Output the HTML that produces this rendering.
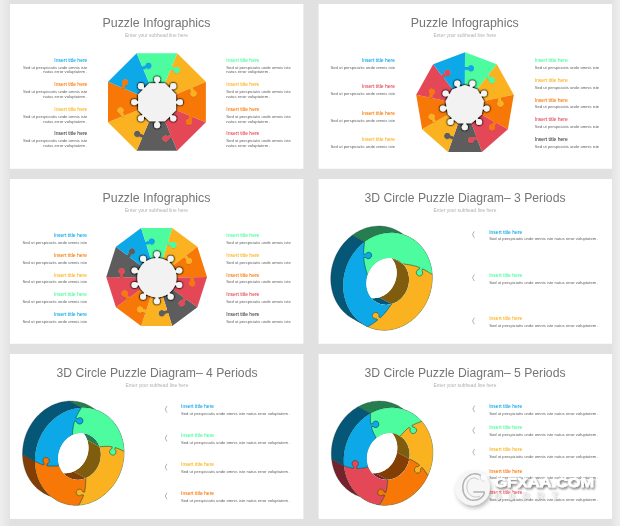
<!DOCTYPE html><html><head><meta charset="utf-8"><title>Puzzle Infographics</title>
<style>html,body{margin:0;padding:0;background:#e1e1e1;}svg{display:block;font-family:"Liberation Sans",sans-serif;filter:blur(0.5px);}</style></head><body>
<svg width="620" height="526" viewBox="0 0 620 526">
<defs>
<filter id="ks" x="-10%" y="-10%" width="120%" height="120%"><feDropShadow dx="0" dy="0.3" stdDeviation="0.6" flood-color="#000" flood-opacity="0.35"/></filter>
<filter id="cs" x="-30%" y="-30%" width="160%" height="160%"><feGaussianBlur in="SourceAlpha" stdDeviation="1.0" result="b"/><feComponentTransfer in="b" result="b2"><feFuncA type="linear" slope="2.4"/></feComponentTransfer><feFlood flood-color="#000" flood-opacity="0.85"/><feComposite in2="b2" operator="in" result="sh"/><feMerge><feMergeNode in="sh"/><feMergeNode in="SourceGraphic"/></feMerge></filter>
<linearGradient id="lg" x1="0" x2="1" y1="0" y2="0"><stop offset="0" stop-color="#eeeeee"/><stop offset="1" stop-color="#e3e3e3"/></linearGradient>
<linearGradient id="rg" x1="0" x2="1" y1="0" y2="0"><stop offset="0" stop-color="#e4e4e4"/><stop offset="1" stop-color="#eeeeee"/></linearGradient>
<filter id="wm" x="-30%" y="-30%" width="170%" height="170%"><feDropShadow dx="1.5" dy="2.5" stdDeviation="2" flood-color="#000" flood-opacity="0.3"/></filter>
<filter id="wt" x="-5%" y="-30%" width="112%" height="190%"><feDropShadow dx="1.2" dy="1.8" stdDeviation="1.1" flood-color="#000" flood-opacity="0.6"/></filter>
<filter id="wt2" x="-5%" y="-30%" width="112%" height="190%"><feDropShadow dx="0.8" dy="1" stdDeviation="0.8" flood-color="#000" flood-opacity="0.25"/></filter>
<filter id="gb" x="-20%" y="-20%" width="140%" height="140%"><feGaussianBlur stdDeviation="0.45"/></filter>
</defs>
<rect width="620" height="526" fill="#e1e1e1"/>
<rect x="0" y="0" width="10" height="526" fill="url(#lg)"/>
<rect x="612" y="0" width="8" height="526" fill="url(#rg)"/>
<rect x="10" y="4.0" width="293.4" height="164.75" fill="#ffffff"/>
<rect x="318.6" y="4.0" width="293.4" height="164.75" fill="#ffffff"/>
<rect x="10" y="179" width="293.4" height="164.75" fill="#ffffff"/>
<rect x="318.6" y="179" width="293.4" height="164.75" fill="#ffffff"/>
<rect x="10" y="354" width="293.4" height="164.9" fill="#ffffff"/>
<rect x="318.6" y="354" width="293.4" height="164.9" fill="#ffffff"/>
<text x="156.5" y="27.1" text-anchor="middle" font-size="13" fill="#757575" textLength="108" lengthAdjust="spacingAndGlyphs">Puzzle Infographics</text>
<text x="156.5" y="36.6" text-anchor="middle" font-size="4.9" fill="#b0b0b0">Enter your subhead line here</text>
<text x="87.4" y="61.7" text-anchor="end" font-size="4.9" fill="#0da8e8" stroke="#0da8e8" stroke-width="0.05" textLength="33.1" lengthAdjust="spacingAndGlyphs">Insert title here</text>
<text x="87.4" y="68.8" text-anchor="end" font-size="4.4" fill="#606060" textLength="64.5" lengthAdjust="spacingAndGlyphs">Sed ut perspiciatis unde omnis iste</text>
<text x="87.4" y="73.4" text-anchor="end" font-size="4.4" fill="#606060" textLength="44.2" lengthAdjust="spacingAndGlyphs">natus error voluptatem .</text>
<text x="87.4" y="86.25" text-anchor="end" font-size="4.9" fill="#f77807" stroke="#f77807" stroke-width="0.05" textLength="33.1" lengthAdjust="spacingAndGlyphs">Insert title here</text>
<text x="87.4" y="93.35" text-anchor="end" font-size="4.4" fill="#606060" textLength="64.5" lengthAdjust="spacingAndGlyphs">Sed ut perspiciatis unde omnis iste</text>
<text x="87.4" y="97.95" text-anchor="end" font-size="4.4" fill="#606060" textLength="44.2" lengthAdjust="spacingAndGlyphs">natus error voluptatem .</text>
<text x="87.4" y="110.8" text-anchor="end" font-size="4.9" fill="#fbb221" stroke="#fbb221" stroke-width="0.05" textLength="33.1" lengthAdjust="spacingAndGlyphs">Insert title here</text>
<text x="87.4" y="117.9" text-anchor="end" font-size="4.4" fill="#606060" textLength="64.5" lengthAdjust="spacingAndGlyphs">Sed ut perspiciatis unde omnis iste</text>
<text x="87.4" y="122.5" text-anchor="end" font-size="4.4" fill="#606060" textLength="44.2" lengthAdjust="spacingAndGlyphs">natus error voluptatem .</text>
<text x="87.4" y="135.35" text-anchor="end" font-size="4.9" fill="#444444" stroke="#444444" stroke-width="0.05" textLength="33.1" lengthAdjust="spacingAndGlyphs">Insert title here</text>
<text x="87.4" y="142.45" text-anchor="end" font-size="4.4" fill="#606060" textLength="64.5" lengthAdjust="spacingAndGlyphs">Sed ut perspiciatis unde omnis iste</text>
<text x="87.4" y="147.05" text-anchor="end" font-size="4.4" fill="#606060" textLength="44.2" lengthAdjust="spacingAndGlyphs">natus error voluptatem .</text>
<text x="226.3" y="61.7" text-anchor="start" font-size="4.9" fill="#4cfc9e" stroke="#4cfc9e" stroke-width="0.05" textLength="33.1" lengthAdjust="spacingAndGlyphs">Insert title here</text>
<text x="226.3" y="68.8" text-anchor="start" font-size="4.4" fill="#606060" textLength="64.5" lengthAdjust="spacingAndGlyphs">Sed ut perspiciatis unde omnis iste</text>
<text x="226.3" y="73.4" text-anchor="start" font-size="4.4" fill="#606060" textLength="44.2" lengthAdjust="spacingAndGlyphs">natus error voluptatem .</text>
<text x="226.3" y="86.25" text-anchor="start" font-size="4.9" fill="#fbb221" stroke="#fbb221" stroke-width="0.05" textLength="33.1" lengthAdjust="spacingAndGlyphs">Insert title here</text>
<text x="226.3" y="93.35" text-anchor="start" font-size="4.4" fill="#606060" textLength="64.5" lengthAdjust="spacingAndGlyphs">Sed ut perspiciatis unde omnis iste</text>
<text x="226.3" y="97.95" text-anchor="start" font-size="4.4" fill="#606060" textLength="44.2" lengthAdjust="spacingAndGlyphs">natus error voluptatem .</text>
<text x="226.3" y="110.8" text-anchor="start" font-size="4.9" fill="#f77807" stroke="#f77807" stroke-width="0.05" textLength="33.1" lengthAdjust="spacingAndGlyphs">Insert title here</text>
<text x="226.3" y="117.9" text-anchor="start" font-size="4.4" fill="#606060" textLength="64.5" lengthAdjust="spacingAndGlyphs">Sed ut perspiciatis unde omnis iste</text>
<text x="226.3" y="122.5" text-anchor="start" font-size="4.4" fill="#606060" textLength="44.2" lengthAdjust="spacingAndGlyphs">natus error voluptatem .</text>
<text x="226.3" y="135.35" text-anchor="start" font-size="4.9" fill="#e44856" stroke="#e44856" stroke-width="0.05" textLength="33.1" lengthAdjust="spacingAndGlyphs">Insert title here</text>
<text x="226.3" y="142.45" text-anchor="start" font-size="4.4" fill="#606060" textLength="64.5" lengthAdjust="spacingAndGlyphs">Sed ut perspiciatis unde omnis iste</text>
<text x="226.3" y="147.05" text-anchor="start" font-size="4.4" fill="#606060" textLength="44.2" lengthAdjust="spacingAndGlyphs">natus error voluptatem .</text>
<path d="M161.81 90.94 L170.66 69.23 L173.83 70.52 L174.13 71.62 L174.83 72.52 L175.81 73.11 L176.93 73.28 L178.04 73.02 L178.98 72.37 L179.6 71.42 L179.82 70.3 L179.61 69.18 L179 68.22 L178.07 67.56 L176.96 67.29 L175.83 67.45 L174.85 68.02 L171.68 66.73 L177.21 53.17 L205.87 81.74 L192.46 87.43 L193.8 90.58 L194.9 90.86 L195.81 91.54 L196.41 92.52 L196.6 93.64 L196.35 94.75 L195.71 95.7 L194.77 96.33 L193.65 96.57 L192.53 96.37 L191.56 95.77 L190.89 94.85 L190.6 93.75 L190.75 92.62 L191.31 91.63 L189.97 88.48 L168.46 97.59Z" fill="#fbb221"/>
<path d="M168.46 97.59 L189.97 88.48 L191.31 91.63 L190.75 92.62 L190.6 93.75 L190.89 94.85 L191.56 95.77 L192.53 96.37 L193.65 96.57 L194.77 96.33 L195.71 95.7 L196.35 94.75 L196.6 93.64 L196.41 92.52 L195.81 91.54 L194.9 90.86 L193.8 90.58 L192.46 87.43 L205.87 81.74 L205.87 122.16 L192.5 116.74 L191.21 119.91 L191.79 120.89 L191.95 122.02 L191.69 123.13 L191.03 124.06 L190.07 124.67 L188.95 124.89 L187.83 124.67 L186.87 124.05 L186.22 123.12 L185.96 122.01 L186.13 120.88 L186.71 119.9 L187.61 119.2 L188.71 118.9 L189.99 115.73 L168.46 107.01Z" fill="#f77807"/>
<path d="M168.46 107.01 L189.99 115.73 L188.71 118.9 L187.61 119.2 L186.71 119.9 L186.13 120.88 L185.96 122.01 L186.22 123.12 L186.87 124.05 L187.83 124.67 L188.95 124.89 L190.07 124.67 L191.03 124.06 L191.69 123.13 L191.95 122.02 L191.79 120.89 L191.21 119.91 L192.5 116.74 L205.87 122.16 L177.21 150.73 L171.72 137.51 L168.56 138.82 L168.26 139.92 L167.57 140.83 L166.6 141.42 L165.47 141.6 L164.36 141.35 L163.42 140.7 L162.8 139.75 L162.57 138.64 L162.77 137.52 L163.38 136.55 L164.3 135.88 L165.4 135.61 L166.53 135.76 L167.52 136.33 L170.68 135.01 L161.81 113.66Z" fill="#e44856"/>
<path d="M161.81 113.66 L170.68 135.01 L167.52 136.33 L166.53 135.76 L165.4 135.61 L164.3 135.88 L163.38 136.55 L162.77 137.52 L162.57 138.64 L162.8 139.75 L163.42 140.7 L164.36 141.35 L165.47 141.6 L166.6 141.42 L167.57 140.83 L168.26 139.92 L168.56 138.82 L171.72 137.51 L177.21 150.73 L136.69 150.73 L142.3 137.49 L139.15 136.16 L138.15 136.72 L137.02 136.86 L135.92 136.58 L135 135.9 L134.4 134.94 L134.21 133.81 L134.44 132.7 L135.08 131.75 L136.02 131.11 L137.14 130.87 L138.26 131.06 L139.23 131.65 L139.91 132.57 L140.2 133.67 L143.35 135.01 L152.39 113.66Z" fill="#5d5d5d"/>
<path d="M152.39 113.66 L143.35 135.01 L140.2 133.67 L139.91 132.57 L139.23 131.65 L138.26 131.06 L137.14 130.87 L136.02 131.11 L135.08 131.75 L134.44 132.7 L134.21 133.81 L134.4 134.94 L135 135.9 L135.92 136.58 L137.02 136.86 L138.15 136.72 L139.15 136.16 L142.3 137.49 L136.69 150.73 L108.03 122.16 L121.55 116.72 L120.27 113.55 L119.18 113.24 L118.27 112.54 L117.7 111.56 L117.53 110.43 L117.79 109.33 L118.45 108.4 L119.41 107.78 L120.53 107.56 L121.65 107.78 L122.6 108.4 L123.26 109.33 L123.52 110.43 L123.35 111.56 L122.78 112.54 L124.05 115.72 L145.74 107.01Z" fill="#fbb221"/>
<path d="M145.74 107.01 L124.05 115.72 L122.78 112.54 L123.35 111.56 L123.52 110.43 L123.26 109.33 L122.6 108.4 L121.65 107.78 L120.53 107.56 L119.41 107.78 L118.45 108.4 L117.79 109.33 L117.53 110.43 L117.7 111.56 L118.27 112.54 L119.18 113.24 L120.27 113.55 L121.55 116.72 L108.03 122.16 L108.03 81.74 L121.58 87.44 L122.91 84.29 L122.35 83.3 L122.2 82.17 L122.48 81.06 L123.15 80.14 L124.12 79.54 L125.24 79.34 L126.35 79.57 L127.3 80.21 L127.94 81.15 L128.19 82.26 L128 83.38 L127.41 84.36 L126.5 85.04 L125.4 85.33 L124.07 88.49 L145.74 97.59Z" fill="#f77807"/>
<path d="M145.74 97.59 L124.07 88.49 L125.4 85.33 L126.5 85.04 L127.41 84.36 L128 83.38 L128.19 82.26 L127.94 81.15 L127.3 80.21 L126.35 79.57 L125.24 79.34 L124.12 79.54 L123.15 80.14 L122.48 81.06 L122.2 82.17 L122.35 83.3 L122.91 84.29 L121.58 87.44 L108.03 81.74 L136.69 53.17 L142.33 66.74 L145.49 65.43 L145.79 64.33 L146.47 63.42 L147.45 62.83 L148.57 62.65 L149.69 62.9 L150.62 63.55 L151.25 64.5 L151.48 65.61 L151.28 66.73 L150.67 67.7 L149.75 68.37 L148.65 68.64 L147.52 68.49 L146.53 67.92 L143.37 69.24 L152.39 90.94Z" fill="#0da8e8"/>
<path d="M152.39 90.94 L143.37 69.24 L146.53 67.92 L147.52 68.49 L148.65 68.64 L149.75 68.37 L150.67 67.7 L151.28 66.73 L151.48 65.61 L151.25 64.5 L150.62 63.55 L149.69 62.9 L148.57 62.65 L147.45 62.83 L146.47 63.42 L145.79 64.33 L145.49 65.43 L142.33 66.74 L136.69 53.17 L177.21 53.17 L171.68 66.73 L174.85 68.02 L175.83 67.45 L176.96 67.29 L178.07 67.56 L179 68.22 L179.61 69.18 L179.82 70.3 L179.6 71.42 L178.98 72.37 L178.04 73.02 L176.93 73.28 L175.81 73.11 L174.83 72.52 L174.13 71.62 L173.83 70.52 L170.66 69.23 L161.81 90.94Z" fill="#4cfc9e"/>
<g filter="url(#ks)">
<path d="M170.66 69.23 L173.83 70.52 L174.13 71.62 L174.83 72.52 L175.81 73.11 L176.93 73.28 L178.04 73.02 L178.98 72.37 L179.6 71.42 L179.82 70.3 L179.61 69.18 L179 68.22 L178.07 67.56 L176.96 67.29 L175.83 67.45 L174.85 68.02 L171.68 66.73Z" fill="#4cfc9e"/>
<path d="M189.97 88.48 L191.31 91.63 L190.75 92.62 L190.6 93.75 L190.89 94.85 L191.56 95.77 L192.53 96.37 L193.65 96.57 L194.77 96.33 L195.71 95.7 L196.35 94.75 L196.6 93.64 L196.41 92.52 L195.81 91.54 L194.9 90.86 L193.8 90.58 L192.46 87.43Z" fill="#fbb221"/>
<path d="M189.99 115.73 L188.71 118.9 L187.61 119.2 L186.71 119.9 L186.13 120.88 L185.96 122.01 L186.22 123.12 L186.87 124.05 L187.83 124.67 L188.95 124.89 L190.07 124.67 L191.03 124.06 L191.69 123.13 L191.95 122.02 L191.79 120.89 L191.21 119.91 L192.5 116.74Z" fill="#f77807"/>
<path d="M170.68 135.01 L167.52 136.33 L166.53 135.76 L165.4 135.61 L164.3 135.88 L163.38 136.55 L162.77 137.52 L162.57 138.64 L162.8 139.75 L163.42 140.7 L164.36 141.35 L165.47 141.6 L166.6 141.42 L167.57 140.83 L168.26 139.92 L168.56 138.82 L171.72 137.51Z" fill="#e44856"/>
<path d="M143.35 135.01 L140.2 133.67 L139.91 132.57 L139.23 131.65 L138.26 131.06 L137.14 130.87 L136.02 131.11 L135.08 131.75 L134.44 132.7 L134.21 133.81 L134.4 134.94 L135 135.9 L135.92 136.58 L137.02 136.86 L138.15 136.72 L139.15 136.16 L142.3 137.49Z" fill="#5d5d5d"/>
<path d="M124.05 115.72 L122.78 112.54 L123.35 111.56 L123.52 110.43 L123.26 109.33 L122.6 108.4 L121.65 107.78 L120.53 107.56 L119.41 107.78 L118.45 108.4 L117.79 109.33 L117.53 110.43 L117.7 111.56 L118.27 112.54 L119.18 113.24 L120.27 113.55 L121.55 116.72Z" fill="#fbb221"/>
<path d="M124.07 88.49 L125.4 85.33 L126.5 85.04 L127.41 84.36 L128 83.38 L128.19 82.26 L127.94 81.15 L127.3 80.21 L126.35 79.57 L125.24 79.34 L124.12 79.54 L123.15 80.14 L122.48 81.06 L122.2 82.17 L122.35 83.3 L122.91 84.29 L121.58 87.44Z" fill="#f77807"/>
<path d="M143.37 69.24 L146.53 67.92 L147.52 68.49 L148.65 68.64 L149.75 68.37 L150.67 67.7 L151.28 66.73 L151.48 65.61 L151.25 64.5 L150.62 63.55 L149.69 62.9 L148.57 62.65 L147.45 62.83 L146.47 63.42 L145.79 64.33 L145.49 65.43 L142.33 66.74Z" fill="#0da8e8"/>
</g>
<g filter="url(#cs)">
<path d="M164.95 83.36 L176.04 94.45 L176.04 110.15 L164.95 121.24 L149.25 121.24 L138.16 110.15 L138.16 94.45 L149.25 83.36Z" fill="#f2f2f2"/>
<line x1="169.77" y1="89.63" x2="173.25" y2="86.15" stroke="#f2f2f2" stroke-width="2.5"/>
<circle cx="173.25" cy="86.15" r="3.05" fill="#f4f4f4"/>
<line x1="175.01" y1="102.3" x2="179.94" y2="102.3" stroke="#f2f2f2" stroke-width="2.5"/>
<circle cx="179.94" cy="102.3" r="3.05" fill="#f4f4f4"/>
<line x1="169.77" y1="114.97" x2="173.25" y2="118.45" stroke="#f2f2f2" stroke-width="2.5"/>
<circle cx="173.25" cy="118.45" r="3.05" fill="#f4f4f4"/>
<line x1="157.1" y1="120.21" x2="157.1" y2="125.14" stroke="#f2f2f2" stroke-width="2.5"/>
<circle cx="157.1" cy="125.14" r="3.05" fill="#f4f4f4"/>
<line x1="144.43" y1="114.97" x2="140.95" y2="118.45" stroke="#f2f2f2" stroke-width="2.5"/>
<circle cx="140.95" cy="118.45" r="3.05" fill="#f4f4f4"/>
<line x1="139.19" y1="102.3" x2="134.26" y2="102.3" stroke="#f2f2f2" stroke-width="2.5"/>
<circle cx="134.26" cy="102.3" r="3.05" fill="#f4f4f4"/>
<line x1="144.43" y1="89.63" x2="140.95" y2="86.15" stroke="#f2f2f2" stroke-width="2.5"/>
<circle cx="140.95" cy="86.15" r="3.05" fill="#f4f4f4"/>
<line x1="157.1" y1="84.39" x2="157.1" y2="79.46" stroke="#f2f2f2" stroke-width="2.5"/>
<circle cx="157.1" cy="79.46" r="3.05" fill="#f4f4f4"/>
</g>
<text x="464.8" y="27.1" text-anchor="middle" font-size="13" fill="#757575" textLength="108" lengthAdjust="spacingAndGlyphs">Puzzle Infographics</text>
<text x="464.8" y="36.6" text-anchor="middle" font-size="4.9" fill="#b0b0b0">Enter your subhead line here</text>
<text x="395" y="62" text-anchor="end" font-size="4.9" fill="#0da8e8" stroke="#0da8e8" stroke-width="0.05" textLength="33.1" lengthAdjust="spacingAndGlyphs">Insert title here</text>
<text x="395" y="68.8" text-anchor="end" font-size="4.4" fill="#606060" textLength="64.5" lengthAdjust="spacingAndGlyphs">Sed ut perspiciatis unde omnis iste</text>
<text x="395" y="88.4" text-anchor="end" font-size="4.9" fill="#e44856" stroke="#e44856" stroke-width="0.05" textLength="33.1" lengthAdjust="spacingAndGlyphs">Insert title here</text>
<text x="395" y="95.2" text-anchor="end" font-size="4.4" fill="#606060" textLength="64.5" lengthAdjust="spacingAndGlyphs">Sed ut perspiciatis unde omnis iste</text>
<text x="395" y="114.8" text-anchor="end" font-size="4.9" fill="#f77807" stroke="#f77807" stroke-width="0.05" textLength="33.1" lengthAdjust="spacingAndGlyphs">Insert title here</text>
<text x="395" y="121.6" text-anchor="end" font-size="4.4" fill="#606060" textLength="64.5" lengthAdjust="spacingAndGlyphs">Sed ut perspiciatis unde omnis iste</text>
<text x="395" y="141.2" text-anchor="end" font-size="4.9" fill="#fbb221" stroke="#fbb221" stroke-width="0.05" textLength="33.1" lengthAdjust="spacingAndGlyphs">Insert title here</text>
<text x="395" y="148" text-anchor="end" font-size="4.4" fill="#606060" textLength="64.5" lengthAdjust="spacingAndGlyphs">Sed ut perspiciatis unde omnis iste</text>
<text x="534.7" y="62" text-anchor="start" font-size="4.9" fill="#4cfc9e" stroke="#4cfc9e" stroke-width="0.05" textLength="33.1" lengthAdjust="spacingAndGlyphs">Insert title here</text>
<text x="534.7" y="68.8" text-anchor="start" font-size="4.4" fill="#606060" textLength="64.5" lengthAdjust="spacingAndGlyphs">Sed ut perspiciatis unde omnis iste</text>
<text x="534.7" y="81.8" text-anchor="start" font-size="4.9" fill="#fbb221" stroke="#fbb221" stroke-width="0.05" textLength="33.1" lengthAdjust="spacingAndGlyphs">Insert title here</text>
<text x="534.7" y="88.6" text-anchor="start" font-size="4.4" fill="#606060" textLength="64.5" lengthAdjust="spacingAndGlyphs">Sed ut perspiciatis unde omnis iste</text>
<text x="534.7" y="101.6" text-anchor="start" font-size="4.9" fill="#f77807" stroke="#f77807" stroke-width="0.05" textLength="33.1" lengthAdjust="spacingAndGlyphs">Insert title here</text>
<text x="534.7" y="108.4" text-anchor="start" font-size="4.4" fill="#606060" textLength="64.5" lengthAdjust="spacingAndGlyphs">Sed ut perspiciatis unde omnis iste</text>
<text x="534.7" y="121.4" text-anchor="start" font-size="4.9" fill="#e44856" stroke="#e44856" stroke-width="0.05" textLength="33.1" lengthAdjust="spacingAndGlyphs">Insert title here</text>
<text x="534.7" y="128.2" text-anchor="start" font-size="4.4" fill="#606060" textLength="64.5" lengthAdjust="spacingAndGlyphs">Sed ut perspiciatis unde omnis iste</text>
<text x="534.7" y="141.2" text-anchor="start" font-size="4.9" fill="#444444" stroke="#444444" stroke-width="0.05" textLength="33.1" lengthAdjust="spacingAndGlyphs">Insert title here</text>
<text x="534.7" y="148" text-anchor="start" font-size="4.4" fill="#606060" textLength="64.5" lengthAdjust="spacingAndGlyphs">Sed ut perspiciatis unde omnis iste</text>
<path d="M464.8 92.82 L464.91 69.58 L468.34 69.59 L469.03 70.5 L470.01 71.08 L471.13 71.25 L472.24 70.99 L473.18 70.34 L473.8 69.39 L474.02 68.27 L473.81 67.15 L473.2 66.19 L472.27 65.53 L471.16 65.26 L470.03 65.42 L469.05 65.99 L468.35 66.89 L464.93 66.88 L465 52.15 L496.85 64.19 L488.02 75.49 L490.72 77.6 L491.82 77.32 L492.95 77.47 L493.94 78.03 L494.66 78.92 L494.98 80.01 L494.88 81.15 L494.36 82.16 L493.5 82.91 L492.43 83.28 L491.29 83.23 L490.25 82.75 L489.47 81.93 L489.05 80.87 L489.06 79.73 L486.36 77.62 L472.32 95.6Z" fill="#4cfc9e"/>
<path d="M472.32 95.6 L486.36 77.62 L489.06 79.73 L489.05 80.87 L489.47 81.93 L490.25 82.75 L491.29 83.23 L492.43 83.28 L493.5 82.91 L494.36 82.16 L494.88 81.15 L494.98 80.01 L494.66 78.92 L493.94 78.03 L492.95 77.47 L491.82 77.32 L490.72 77.6 L488.02 75.49 L496.85 64.19 L513.8 94.69 L500.49 97.51 L501.2 100.86 L502.23 101.35 L503 102.19 L503.39 103.26 L503.37 104.4 L502.92 105.45 L502.11 106.25 L501.06 106.69 L499.92 106.71 L498.85 106.31 L498.02 105.54 L497.53 104.51 L497.46 103.37 L497.82 102.29 L498.56 101.42 L497.85 98.07 L476.32 102.64Z" fill="#fbb221"/>
<path d="M476.32 102.64 L497.85 98.07 L498.56 101.42 L497.82 102.29 L497.46 103.37 L497.53 104.51 L498.02 105.54 L498.85 106.31 L499.92 106.71 L501.06 106.69 L502.11 106.25 L502.92 105.45 L503.37 104.4 L503.39 103.26 L503 102.19 L502.23 101.35 L501.2 100.86 L500.49 97.51 L513.8 94.69 L507.91 129.37 L496.26 122.75 L494.57 125.73 L495.01 126.78 L495.03 127.92 L494.62 128.98 L493.84 129.82 L492.81 130.3 L491.67 130.36 L490.59 130 L489.73 129.26 L489.2 128.25 L489.09 127.12 L489.41 126.02 L490.11 125.12 L491.1 124.56 L492.22 124.39 L493.91 121.42 L474.93 110.64Z" fill="#f77807"/>
<path d="M474.93 110.64 L493.91 121.42 L492.22 124.39 L491.1 124.56 L490.11 125.12 L489.41 126.02 L489.09 127.12 L489.2 128.25 L489.73 129.26 L490.59 130 L491.67 130.36 L492.81 130.3 L493.84 129.82 L494.62 128.98 L495.03 127.92 L495.01 126.78 L494.57 125.73 L496.26 122.75 L507.91 129.37 L481.95 152.01 L477.29 139.2 L474.07 140.37 L473.73 141.45 L473 142.33 L472 142.88 L470.87 143.01 L469.77 142.71 L468.86 142.02 L468.28 141.04 L468.1 139.92 L468.35 138.81 L469 137.87 L469.95 137.24 L471.07 137.02 L472.19 137.22 L473.15 137.83 L476.37 136.66 L468.8 115.86Z" fill="#e44856"/>
<path d="M468.8 115.86 L476.37 136.66 L473.15 137.83 L472.19 137.22 L471.07 137.02 L469.95 137.24 L469 137.87 L468.35 138.81 L468.1 139.92 L468.28 141.04 L468.86 142.02 L469.77 142.71 L470.87 143.01 L472 142.88 L473 142.33 L473.73 141.45 L474.07 140.37 L477.29 139.2 L481.95 152.01 L448.05 152.01 L452.56 139.22 L449.34 138.08 L448.38 138.7 L447.26 138.92 L446.14 138.7 L445.18 138.08 L444.53 137.15 L444.26 136.05 L444.43 134.92 L445.01 133.94 L445.91 133.24 L447 132.93 L448.14 133.05 L449.14 133.58 L449.88 134.45 L450.23 135.53 L453.46 136.67 L460.8 115.86Z" fill="#5d5d5d"/>
<path d="M460.8 115.86 L453.46 136.67 L450.23 135.53 L449.88 134.45 L449.14 133.58 L448.14 133.05 L447 132.93 L445.91 133.24 L445.01 133.94 L444.43 134.92 L444.26 136.05 L444.53 137.15 L445.18 138.08 L446.14 138.7 L447.26 138.92 L448.38 138.7 L449.34 138.08 L452.56 139.22 L448.05 152.01 L422.09 129.37 L433.55 122.78 L431.85 119.81 L430.72 119.66 L429.73 119.09 L429.02 118.2 L428.7 117.11 L428.8 115.97 L429.33 114.96 L430.19 114.22 L431.27 113.85 L432.4 113.91 L433.44 114.38 L434.22 115.21 L434.63 116.27 L434.62 117.41 L434.19 118.47 L435.89 121.43 L454.67 110.64Z" fill="#fbb221"/>
<path d="M454.67 110.64 L435.89 121.43 L434.19 118.47 L434.62 117.41 L434.63 116.27 L434.22 115.21 L433.44 114.38 L432.4 113.91 L431.27 113.85 L430.19 114.22 L429.33 114.96 L428.8 115.97 L428.7 117.11 L429.02 118.2 L429.73 119.09 L430.72 119.66 L431.85 119.81 L433.55 122.78 L422.09 129.37 L416.2 94.69 L429.31 97.5 L430.03 94.16 L429.29 93.29 L428.93 92.2 L429.01 91.07 L429.5 90.04 L430.33 89.27 L431.4 88.86 L432.54 88.89 L433.59 89.33 L434.39 90.14 L434.84 91.18 L434.87 92.32 L434.47 93.39 L433.7 94.23 L432.67 94.72 L431.95 98.07 L453.28 102.64Z" fill="#f77807"/>
<path d="M453.28 102.64 L431.95 98.07 L432.67 94.72 L433.7 94.23 L434.47 93.39 L434.87 92.32 L434.84 91.18 L434.39 90.14 L433.59 89.33 L432.54 88.89 L431.4 88.86 L430.33 89.27 L429.5 90.04 L429.01 91.07 L428.93 92.2 L429.29 93.29 L430.03 94.16 L429.31 97.5 L416.2 94.69 L433.15 64.19 L441.81 75.47 L444.52 73.38 L444.53 72.24 L444.96 71.19 L445.75 70.37 L446.79 69.9 L447.92 69.86 L449 70.24 L449.85 70.99 L450.36 72.01 L450.45 73.15 L450.12 74.24 L449.4 75.12 L448.4 75.67 L447.27 75.82 L446.17 75.52 L443.46 77.61 L457.28 95.6Z" fill="#e44856"/>
<path d="M457.28 95.6 L443.46 77.61 L446.17 75.52 L447.27 75.82 L448.4 75.67 L449.4 75.12 L450.12 74.24 L450.45 73.15 L450.36 72.01 L449.85 70.99 L449 70.24 L447.92 69.86 L446.79 69.9 L445.75 70.37 L444.96 71.19 L444.53 72.24 L444.52 73.38 L441.81 75.47 L433.15 64.19 L465 52.15 L464.93 66.88 L468.35 66.89 L469.05 65.99 L470.03 65.42 L471.16 65.26 L472.27 65.53 L473.2 66.19 L473.81 67.15 L474.02 68.27 L473.8 69.39 L473.18 70.34 L472.24 70.99 L471.13 71.25 L470.01 71.08 L469.03 70.5 L468.34 69.59 L464.91 69.58 L464.8 92.82Z" fill="#0da8e8"/>
<g filter="url(#ks)">
<path d="M464.91 69.58 L468.34 69.59 L469.03 70.5 L470.01 71.08 L471.13 71.25 L472.24 70.99 L473.18 70.34 L473.8 69.39 L474.02 68.27 L473.81 67.15 L473.2 66.19 L472.27 65.53 L471.16 65.26 L470.03 65.42 L469.05 65.99 L468.35 66.89 L464.93 66.88Z" fill="#0da8e8"/>
<path d="M486.36 77.62 L489.06 79.73 L489.05 80.87 L489.47 81.93 L490.25 82.75 L491.29 83.23 L492.43 83.28 L493.5 82.91 L494.36 82.16 L494.88 81.15 L494.98 80.01 L494.66 78.92 L493.94 78.03 L492.95 77.47 L491.82 77.32 L490.72 77.6 L488.02 75.49Z" fill="#4cfc9e"/>
<path d="M497.85 98.07 L498.56 101.42 L497.82 102.29 L497.46 103.37 L497.53 104.51 L498.02 105.54 L498.85 106.31 L499.92 106.71 L501.06 106.69 L502.11 106.25 L502.92 105.45 L503.37 104.4 L503.39 103.26 L503 102.19 L502.23 101.35 L501.2 100.86 L500.49 97.51Z" fill="#fbb221"/>
<path d="M493.91 121.42 L492.22 124.39 L491.1 124.56 L490.11 125.12 L489.41 126.02 L489.09 127.12 L489.2 128.25 L489.73 129.26 L490.59 130 L491.67 130.36 L492.81 130.3 L493.84 129.82 L494.62 128.98 L495.03 127.92 L495.01 126.78 L494.57 125.73 L496.26 122.75Z" fill="#f77807"/>
<path d="M476.37 136.66 L473.15 137.83 L472.19 137.22 L471.07 137.02 L469.95 137.24 L469 137.87 L468.35 138.81 L468.1 139.92 L468.28 141.04 L468.86 142.02 L469.77 142.71 L470.87 143.01 L472 142.88 L473 142.33 L473.73 141.45 L474.07 140.37 L477.29 139.2Z" fill="#e44856"/>
<path d="M453.46 136.67 L450.23 135.53 L449.88 134.45 L449.14 133.58 L448.14 133.05 L447 132.93 L445.91 133.24 L445.01 133.94 L444.43 134.92 L444.26 136.05 L444.53 137.15 L445.18 138.08 L446.14 138.7 L447.26 138.92 L448.38 138.7 L449.34 138.08 L452.56 139.22Z" fill="#5d5d5d"/>
<path d="M435.89 121.43 L434.19 118.47 L434.62 117.41 L434.63 116.27 L434.22 115.21 L433.44 114.38 L432.4 113.91 L431.27 113.85 L430.19 114.22 L429.33 114.96 L428.8 115.97 L428.7 117.11 L429.02 118.2 L429.73 119.09 L430.72 119.66 L431.85 119.81 L433.55 122.78Z" fill="#fbb221"/>
<path d="M431.95 98.07 L432.67 94.72 L433.7 94.23 L434.47 93.39 L434.87 92.32 L434.84 91.18 L434.39 90.14 L433.59 89.33 L432.54 88.89 L431.4 88.86 L430.33 89.27 L429.5 90.04 L429.01 91.07 L428.93 92.2 L429.29 93.29 L430.03 94.16 L429.31 97.5Z" fill="#f77807"/>
<path d="M443.46 77.61 L446.17 75.52 L447.27 75.82 L448.4 75.67 L449.4 75.12 L450.12 74.24 L450.45 73.15 L450.36 72.01 L449.85 70.99 L449 70.24 L447.92 69.86 L446.79 69.9 L445.75 70.37 L444.96 71.19 L444.53 72.24 L444.52 73.38 L441.81 75.47Z" fill="#e44856"/>
</g>
<g filter="url(#cs)">
<path d="M464.8 84.9 L477.33 89.53 L484 101.26 L481.69 114.6 L471.47 123.31 L458.13 123.31 L447.91 114.6 L445.6 101.26 L452.27 89.53Z" fill="#f2f2f2"/>
<line x1="470.73" y1="88.15" x2="472.39" y2="83.52" stroke="#f2f2f2" stroke-width="2.5"/>
<circle cx="472.39" cy="83.52" r="3.05" fill="#f4f4f4"/>
<line x1="479.82" y1="95.89" x2="484.02" y2="93.43" stroke="#f2f2f2" stroke-width="2.5"/>
<circle cx="484.02" cy="93.43" r="3.05" fill="#f4f4f4"/>
<line x1="481.89" y1="107.76" x2="486.66" y2="108.61" stroke="#f2f2f2" stroke-width="2.5"/>
<circle cx="486.66" cy="108.61" r="3.05" fill="#f4f4f4"/>
<line x1="475.95" y1="118.19" x2="479.07" y2="121.96" stroke="#f2f2f2" stroke-width="2.5"/>
<circle cx="479.07" cy="121.96" r="3.05" fill="#f4f4f4"/>
<line x1="464.8" y1="122.32" x2="464.8" y2="127.24" stroke="#f2f2f2" stroke-width="2.5"/>
<circle cx="464.8" cy="127.24" r="3.05" fill="#f4f4f4"/>
<line x1="453.65" y1="118.19" x2="450.53" y2="121.96" stroke="#f2f2f2" stroke-width="2.5"/>
<circle cx="450.53" cy="121.96" r="3.05" fill="#f4f4f4"/>
<line x1="447.71" y1="107.76" x2="442.94" y2="108.61" stroke="#f2f2f2" stroke-width="2.5"/>
<circle cx="442.94" cy="108.61" r="3.05" fill="#f4f4f4"/>
<line x1="449.78" y1="95.89" x2="445.58" y2="93.43" stroke="#f2f2f2" stroke-width="2.5"/>
<circle cx="445.58" cy="93.43" r="3.05" fill="#f4f4f4"/>
<line x1="458.87" y1="88.15" x2="457.21" y2="83.52" stroke="#f2f2f2" stroke-width="2.5"/>
<circle cx="457.21" cy="83.52" r="3.05" fill="#f4f4f4"/>
</g>
<text x="156.5" y="202.1" text-anchor="middle" font-size="13" fill="#757575" textLength="108" lengthAdjust="spacingAndGlyphs">Puzzle Infographics</text>
<text x="156.5" y="211.6" text-anchor="middle" font-size="4.9" fill="#b0b0b0">Enter your subhead line here</text>
<text x="87" y="237" text-anchor="end" font-size="4.9" fill="#0da8e8" stroke="#0da8e8" stroke-width="0.05" textLength="33.1" lengthAdjust="spacingAndGlyphs">Insert title here</text>
<text x="87" y="243.8" text-anchor="end" font-size="4.4" fill="#606060" textLength="64.5" lengthAdjust="spacingAndGlyphs">Sed ut perspiciatis unde omnis iste</text>
<text x="87" y="256.8" text-anchor="end" font-size="4.9" fill="#f77807" stroke="#f77807" stroke-width="0.05" textLength="33.1" lengthAdjust="spacingAndGlyphs">Insert title here</text>
<text x="87" y="263.6" text-anchor="end" font-size="4.4" fill="#606060" textLength="64.5" lengthAdjust="spacingAndGlyphs">Sed ut perspiciatis unde omnis iste</text>
<text x="87" y="276.6" text-anchor="end" font-size="4.9" fill="#fbb221" stroke="#fbb221" stroke-width="0.05" textLength="33.1" lengthAdjust="spacingAndGlyphs">Insert title here</text>
<text x="87" y="283.4" text-anchor="end" font-size="4.4" fill="#606060" textLength="64.5" lengthAdjust="spacingAndGlyphs">Sed ut perspiciatis unde omnis iste</text>
<text x="87" y="296.4" text-anchor="end" font-size="4.9" fill="#4cfc9e" stroke="#4cfc9e" stroke-width="0.05" textLength="33.1" lengthAdjust="spacingAndGlyphs">Insert title here</text>
<text x="87" y="303.2" text-anchor="end" font-size="4.4" fill="#606060" textLength="64.5" lengthAdjust="spacingAndGlyphs">Sed ut perspiciatis unde omnis iste</text>
<text x="87" y="316.2" text-anchor="end" font-size="4.9" fill="#0da8e8" stroke="#0da8e8" stroke-width="0.05" textLength="33.1" lengthAdjust="spacingAndGlyphs">Insert title here</text>
<text x="87" y="323" text-anchor="end" font-size="4.4" fill="#606060" textLength="64.5" lengthAdjust="spacingAndGlyphs">Sed ut perspiciatis unde omnis iste</text>
<text x="226.3" y="237" text-anchor="start" font-size="4.9" fill="#4cfc9e" stroke="#4cfc9e" stroke-width="0.05" textLength="33.1" lengthAdjust="spacingAndGlyphs">Insert title here</text>
<text x="226.3" y="243.8" text-anchor="start" font-size="4.4" fill="#606060" textLength="64.5" lengthAdjust="spacingAndGlyphs">Sed ut perspiciatis unde omnis iste</text>
<text x="226.3" y="256.8" text-anchor="start" font-size="4.9" fill="#fbb221" stroke="#fbb221" stroke-width="0.05" textLength="33.1" lengthAdjust="spacingAndGlyphs">Insert title here</text>
<text x="226.3" y="263.6" text-anchor="start" font-size="4.4" fill="#606060" textLength="64.5" lengthAdjust="spacingAndGlyphs">Sed ut perspiciatis unde omnis iste</text>
<text x="226.3" y="276.6" text-anchor="start" font-size="4.9" fill="#f77807" stroke="#f77807" stroke-width="0.05" textLength="33.1" lengthAdjust="spacingAndGlyphs">Insert title here</text>
<text x="226.3" y="283.4" text-anchor="start" font-size="4.4" fill="#606060" textLength="64.5" lengthAdjust="spacingAndGlyphs">Sed ut perspiciatis unde omnis iste</text>
<text x="226.3" y="296.4" text-anchor="start" font-size="4.9" fill="#e44856" stroke="#e44856" stroke-width="0.05" textLength="33.1" lengthAdjust="spacingAndGlyphs">Insert title here</text>
<text x="226.3" y="303.2" text-anchor="start" font-size="4.4" fill="#606060" textLength="64.5" lengthAdjust="spacingAndGlyphs">Sed ut perspiciatis unde omnis iste</text>
<text x="226.3" y="316.2" text-anchor="start" font-size="4.9" fill="#444444" stroke="#444444" stroke-width="0.05" textLength="33.1" lengthAdjust="spacingAndGlyphs">Insert title here</text>
<text x="226.3" y="323" text-anchor="start" font-size="4.4" fill="#606060" textLength="64.5" lengthAdjust="spacingAndGlyphs">Sed ut perspiciatis unde omnis iste</text>
<path d="M160.53 266.52 L167.2 244.51 L170.48 245.5 L170.88 246.57 L171.66 247.41 L172.69 247.89 L173.82 247.96 L174.9 247.6 L175.77 246.87 L176.3 245.86 L176.42 244.73 L176.11 243.63 L175.41 242.73 L174.42 242.16 L173.3 241.99 L172.19 242.26 L171.26 242.92 L167.99 241.93 L172.21 228 L197.38 246.72 L186.3 255.33 L188.4 258.04 L189.54 258.03 L190.59 258.45 L191.42 259.24 L191.89 260.28 L191.94 261.42 L191.57 262.49 L190.82 263.35 L189.8 263.86 L188.66 263.96 L187.57 263.63 L186.69 262.92 L186.13 261.93 L185.98 260.8 L186.26 259.69 L184.17 256.99 L166.41 270.79Z" fill="#fbb221"/>
<path d="M166.41 270.79 L184.17 256.99 L186.26 259.69 L185.98 260.8 L186.13 261.93 L186.69 262.92 L187.57 263.63 L188.66 263.96 L189.8 263.86 L190.82 263.35 L191.57 262.49 L191.94 261.42 L191.89 260.28 L191.42 259.24 L190.59 258.45 L189.54 258.03 L188.4 258.04 L186.3 255.33 L197.38 246.72 L207 277 L193.4 277.25 L193.46 280.67 L194.38 281.35 L194.97 282.32 L195.16 283.44 L194.92 284.56 L194.28 285.5 L193.33 286.13 L192.22 286.37 L191.09 286.18 L190.12 285.58 L189.45 284.66 L189.17 283.55 L189.31 282.42 L189.87 281.43 L190.76 280.72 L190.7 277.3 L168.66 277.7Z" fill="#f77807"/>
<path d="M168.66 277.7 L190.7 277.3 L190.76 280.72 L189.87 281.43 L189.31 282.42 L189.17 283.55 L189.45 284.66 L190.12 285.58 L191.09 286.18 L192.22 286.37 L193.33 286.13 L194.28 285.5 L194.92 284.56 L195.16 283.44 L194.97 282.32 L194.38 281.35 L193.46 280.67 L193.4 277.25 L207 277 L197.38 307.28 L186.39 299.24 L184.37 302 L184.69 303.09 L184.57 304.23 L184.04 305.24 L183.18 305.97 L182.1 306.34 L180.96 306.27 L179.93 305.78 L179.15 304.95 L178.75 303.88 L178.77 302.74 L179.21 301.69 L180.01 300.88 L181.06 300.43 L182.19 300.4 L184.21 297.64 L166.41 284.61Z" fill="#e44856"/>
<path d="M166.41 284.61 L184.21 297.64 L182.19 300.4 L181.06 300.43 L180.01 300.88 L179.21 301.69 L178.77 302.74 L178.75 303.88 L179.15 304.95 L179.93 305.78 L180.96 306.27 L182.1 306.34 L183.18 305.97 L184.04 305.24 L184.57 304.23 L184.69 303.09 L184.37 302 L186.39 299.24 L197.38 307.28 L172.21 326 L168.04 312.75 L164.78 313.78 L164.39 314.85 L163.62 315.7 L162.6 316.19 L161.46 316.28 L160.38 315.93 L159.5 315.2 L158.96 314.2 L158.83 313.07 L159.13 311.97 L159.82 311.06 L160.8 310.48 L161.92 310.3 L163.03 310.55 L163.97 311.21 L167.23 310.18 L160.53 288.88Z" fill="#5d5d5d"/>
<path d="M160.53 288.88 L167.23 310.18 L163.97 311.21 L163.03 310.55 L161.92 310.3 L160.8 310.48 L159.82 311.06 L159.13 311.97 L158.83 313.07 L158.96 314.2 L159.5 315.2 L160.38 315.93 L161.46 316.28 L162.6 316.19 L163.62 315.7 L164.39 314.85 L164.78 313.78 L168.04 312.75 L172.21 326 L141.09 326 L145.44 312.73 L142.19 311.67 L141.25 312.31 L140.14 312.55 L139.01 312.36 L138.04 311.76 L137.36 310.85 L137.07 309.75 L137.22 308.61 L137.77 307.62 L138.66 306.9 L139.75 306.57 L140.88 306.66 L141.9 307.17 L142.65 308.03 L143.03 309.1 L146.28 310.17 L153.27 288.88Z" fill="#fbb221"/>
<path d="M153.27 288.88 L146.28 310.17 L143.03 309.1 L142.65 308.03 L141.9 307.17 L140.88 306.66 L139.75 306.57 L138.66 306.9 L137.77 307.62 L137.22 308.61 L137.07 309.75 L137.36 310.85 L138.04 311.76 L139.01 312.36 L140.14 312.55 L141.25 312.31 L142.19 311.67 L145.44 312.73 L141.09 326 L115.92 307.28 L127.13 299.2 L125.13 296.43 L123.99 296.39 L122.95 295.93 L122.16 295.11 L121.72 294.06 L121.71 292.92 L122.13 291.86 L122.91 291.03 L123.94 290.55 L125.08 290.49 L126.16 290.86 L127.02 291.61 L127.54 292.62 L127.65 293.76 L127.32 294.85 L129.32 297.63 L147.39 284.61Z" fill="#f77807"/>
<path d="M147.39 284.61 L129.32 297.63 L127.32 294.85 L127.65 293.76 L127.54 292.62 L127.02 291.61 L126.16 290.86 L125.08 290.49 L123.94 290.55 L122.91 291.03 L122.13 291.86 L121.71 292.92 L121.72 294.06 L122.16 295.11 L122.95 295.93 L123.99 296.39 L125.13 296.43 L127.13 299.2 L115.92 307.28 L106.3 277 L120.15 277.25 L120.21 273.83 L119.32 273.12 L118.76 272.12 L118.62 270.99 L118.9 269.89 L119.57 268.97 L120.54 268.37 L121.66 268.18 L122.78 268.41 L123.73 269.05 L124.37 269.99 L124.61 271.1 L124.42 272.23 L123.83 273.2 L122.91 273.88 L122.85 277.3 L145.14 277.7Z" fill="#e44856"/>
<path d="M145.14 277.7 L122.85 277.3 L122.91 273.88 L123.83 273.2 L124.42 272.23 L124.61 271.1 L124.37 269.99 L123.73 269.05 L122.78 268.41 L121.66 268.18 L120.54 268.37 L119.57 268.97 L118.9 269.89 L118.62 270.99 L118.76 272.12 L119.32 273.12 L120.21 273.83 L120.15 277.25 L106.3 277 L115.92 246.72 L127.23 255.37 L129.31 252.65 L129.01 251.55 L129.15 250.42 L129.7 249.42 L130.58 248.7 L131.67 248.36 L132.81 248.45 L133.83 248.96 L134.58 249.81 L134.97 250.88 L134.93 252.02 L134.46 253.06 L133.64 253.86 L132.59 254.29 L131.45 254.29 L129.37 257.01 L147.39 270.79Z" fill="#5d5d5d"/>
<path d="M147.39 270.79 L129.37 257.01 L131.45 254.29 L132.59 254.29 L133.64 253.86 L134.46 253.06 L134.93 252.02 L134.97 250.88 L134.58 249.81 L133.83 248.96 L132.81 248.45 L131.67 248.36 L130.58 248.7 L129.7 249.42 L129.15 250.42 L129.01 251.55 L129.31 252.65 L127.23 255.37 L115.92 246.72 L141.09 228 L145.5 241.95 L148.76 240.92 L149.15 239.85 L149.92 239 L150.94 238.5 L152.08 238.42 L153.16 238.76 L154.04 239.49 L154.58 240.49 L154.71 241.62 L154.41 242.72 L153.72 243.63 L152.75 244.22 L151.62 244.39 L150.51 244.14 L149.58 243.49 L146.31 244.52 L153.27 266.52Z" fill="#0da8e8"/>
<path d="M153.27 266.52 L146.31 244.52 L149.58 243.49 L150.51 244.14 L151.62 244.39 L152.75 244.22 L153.72 243.63 L154.41 242.72 L154.71 241.62 L154.58 240.49 L154.04 239.49 L153.16 238.76 L152.08 238.42 L150.94 238.5 L149.92 239 L149.15 239.85 L148.76 240.92 L145.5 241.95 L141.09 228 L172.21 228 L167.99 241.93 L171.26 242.92 L172.19 242.26 L173.3 241.99 L174.42 242.16 L175.41 242.73 L176.11 243.63 L176.42 244.73 L176.3 245.86 L175.77 246.87 L174.9 247.6 L173.82 247.96 L172.69 247.89 L171.66 247.41 L170.88 246.57 L170.48 245.5 L167.2 244.51 L160.53 266.52Z" fill="#4cfc9e"/>
<g filter="url(#ks)">
<path d="M167.2 244.51 L170.48 245.5 L170.88 246.57 L171.66 247.41 L172.69 247.89 L173.82 247.96 L174.9 247.6 L175.77 246.87 L176.3 245.86 L176.42 244.73 L176.11 243.63 L175.41 242.73 L174.42 242.16 L173.3 241.99 L172.19 242.26 L171.26 242.92 L167.99 241.93Z" fill="#4cfc9e"/>
<path d="M184.17 256.99 L186.26 259.69 L185.98 260.8 L186.13 261.93 L186.69 262.92 L187.57 263.63 L188.66 263.96 L189.8 263.86 L190.82 263.35 L191.57 262.49 L191.94 261.42 L191.89 260.28 L191.42 259.24 L190.59 258.45 L189.54 258.03 L188.4 258.04 L186.3 255.33Z" fill="#fbb221"/>
<path d="M190.7 277.3 L190.76 280.72 L189.87 281.43 L189.31 282.42 L189.17 283.55 L189.45 284.66 L190.12 285.58 L191.09 286.18 L192.22 286.37 L193.33 286.13 L194.28 285.5 L194.92 284.56 L195.16 283.44 L194.97 282.32 L194.38 281.35 L193.46 280.67 L193.4 277.25Z" fill="#f77807"/>
<path d="M184.21 297.64 L182.19 300.4 L181.06 300.43 L180.01 300.88 L179.21 301.69 L178.77 302.74 L178.75 303.88 L179.15 304.95 L179.93 305.78 L180.96 306.27 L182.1 306.34 L183.18 305.97 L184.04 305.24 L184.57 304.23 L184.69 303.09 L184.37 302 L186.39 299.24Z" fill="#e44856"/>
<path d="M167.23 310.18 L163.97 311.21 L163.03 310.55 L161.92 310.3 L160.8 310.48 L159.82 311.06 L159.13 311.97 L158.83 313.07 L158.96 314.2 L159.5 315.2 L160.38 315.93 L161.46 316.28 L162.6 316.19 L163.62 315.7 L164.39 314.85 L164.78 313.78 L168.04 312.75Z" fill="#5d5d5d"/>
<path d="M146.28 310.17 L143.03 309.1 L142.65 308.03 L141.9 307.17 L140.88 306.66 L139.75 306.57 L138.66 306.9 L137.77 307.62 L137.22 308.61 L137.07 309.75 L137.36 310.85 L138.04 311.76 L139.01 312.36 L140.14 312.55 L141.25 312.31 L142.19 311.67 L145.44 312.73Z" fill="#fbb221"/>
<path d="M129.32 297.63 L127.32 294.85 L127.65 293.76 L127.54 292.62 L127.02 291.61 L126.16 290.86 L125.08 290.49 L123.94 290.55 L122.91 291.03 L122.13 291.86 L121.71 292.92 L121.72 294.06 L122.16 295.11 L122.95 295.93 L123.99 296.39 L125.13 296.43 L127.13 299.2Z" fill="#f77807"/>
<path d="M122.85 277.3 L122.91 273.88 L123.83 273.2 L124.42 272.23 L124.61 271.1 L124.37 269.99 L123.73 269.05 L122.78 268.41 L121.66 268.18 L120.54 268.37 L119.57 268.97 L118.9 269.89 L118.62 270.99 L118.76 272.12 L119.32 273.12 L120.21 273.83 L120.15 277.25Z" fill="#e44856"/>
<path d="M129.37 257.01 L131.45 254.29 L132.59 254.29 L133.64 253.86 L134.46 253.06 L134.93 252.02 L134.97 250.88 L134.58 249.81 L133.83 248.96 L132.81 248.45 L131.67 248.36 L130.58 248.7 L129.7 249.42 L129.15 250.42 L129.01 251.55 L129.31 252.65 L127.23 255.37Z" fill="#5d5d5d"/>
<path d="M146.31 244.52 L149.58 243.49 L150.51 244.14 L151.62 244.39 L152.75 244.22 L153.72 243.63 L154.41 242.72 L154.71 241.62 L154.58 240.49 L154.04 239.49 L153.16 238.76 L152.08 238.42 L150.94 238.5 L149.92 239 L149.15 239.85 L148.76 240.92 L145.5 241.95Z" fill="#0da8e8"/>
</g>
<g filter="url(#cs)">
<path d="M156.9 258.1 L158.61 258.17 L160.3 258.4 L161.97 258.77 L163.6 259.28 L165.18 259.94 L166.7 260.73 L168.14 261.64 L169.5 262.69 L170.76 263.84 L171.91 265.1 L172.96 266.46 L173.87 267.9 L174.66 269.42 L175.32 271 L175.83 272.63 L176.2 274.3 L176.43 275.99 L176.5 277.7 L176.43 279.41 L176.2 281.1 L175.83 282.77 L175.32 284.4 L174.66 285.98 L173.87 287.5 L172.96 288.94 L171.91 290.3 L170.76 291.56 L169.5 292.71 L168.14 293.76 L166.7 294.67 L165.18 295.46 L163.6 296.12 L161.97 296.63 L160.3 297 L158.61 297.23 L156.9 297.3 L155.19 297.23 L153.5 297 L151.83 296.63 L150.2 296.12 L148.62 295.46 L147.1 294.67 L145.66 293.76 L144.3 292.71 L143.04 291.56 L141.89 290.3 L140.84 288.94 L139.93 287.5 L139.14 285.98 L138.48 284.4 L137.97 282.77 L137.6 281.1 L137.37 279.41 L137.3 277.7 L137.37 275.99 L137.6 274.3 L137.97 272.63 L138.48 271 L139.14 269.42 L139.93 267.9 L140.84 266.46 L141.89 265.1 L143.04 263.84 L144.3 262.69 L145.66 261.64 L147.1 260.73 L148.62 259.94 L150.2 259.28 L151.83 258.77 L153.5 258.4 L155.19 258.17Z" fill="#f2f2f2"/>
<line x1="167.84" y1="262.64" x2="170.71" y2="258.69" stroke="#f2f2f2" stroke-width="2.5"/>
<circle cx="170.71" cy="258.69" r="3.05" fill="#f4f4f4"/>
<line x1="174.61" y1="271.95" x2="179.25" y2="270.44" stroke="#f2f2f2" stroke-width="2.5"/>
<circle cx="179.25" cy="270.44" r="3.05" fill="#f4f4f4"/>
<line x1="174.61" y1="283.45" x2="179.25" y2="284.96" stroke="#f2f2f2" stroke-width="2.5"/>
<circle cx="179.25" cy="284.96" r="3.05" fill="#f4f4f4"/>
<line x1="167.84" y1="292.76" x2="170.71" y2="296.71" stroke="#f2f2f2" stroke-width="2.5"/>
<circle cx="170.71" cy="296.71" r="3.05" fill="#f4f4f4"/>
<line x1="156.9" y1="296.32" x2="156.9" y2="301.2" stroke="#f2f2f2" stroke-width="2.5"/>
<circle cx="156.9" cy="301.2" r="3.05" fill="#f4f4f4"/>
<line x1="145.96" y1="292.76" x2="143.09" y2="296.71" stroke="#f2f2f2" stroke-width="2.5"/>
<circle cx="143.09" cy="296.71" r="3.05" fill="#f4f4f4"/>
<line x1="139.19" y1="283.45" x2="134.55" y2="284.96" stroke="#f2f2f2" stroke-width="2.5"/>
<circle cx="134.55" cy="284.96" r="3.05" fill="#f4f4f4"/>
<line x1="139.19" y1="271.95" x2="134.55" y2="270.44" stroke="#f2f2f2" stroke-width="2.5"/>
<circle cx="134.55" cy="270.44" r="3.05" fill="#f4f4f4"/>
<line x1="145.96" y1="262.64" x2="143.09" y2="258.69" stroke="#f2f2f2" stroke-width="2.5"/>
<circle cx="143.09" cy="258.69" r="3.05" fill="#f4f4f4"/>
<line x1="156.9" y1="259.08" x2="156.9" y2="254.2" stroke="#f2f2f2" stroke-width="2.5"/>
<circle cx="156.9" cy="254.2" r="3.05" fill="#f4f4f4"/>
</g>
<text x="465" y="202.1" text-anchor="middle" font-size="13" fill="#757575" textLength="201" lengthAdjust="spacingAndGlyphs">3D Circle Puzzle Diagram– 3 Periods</text>
<text x="465" y="211.6" text-anchor="middle" font-size="4.9" fill="#b0b0b0">Enter your subhead line here</text>
<clipPath id="ra1"><path clip-rule="evenodd" d="M405.4 235.38 L408.21 236.59 L410.92 238.01 L413.52 239.65 L415.99 241.49 L418.32 243.53 L420.5 245.75 L422.53 248.15 L424.38 250.71 L426.06 253.42 L427.55 256.26 L428.84 259.23 L429.93 262.31 L430.82 265.48 L431.5 268.72 L431.96 272.03 L432.21 275.39 L432.25 278.78 L432.06 282.18 L431.66 285.57 L431.04 288.95 L430.22 292.29 L429.18 295.58 L427.95 298.8 L426.52 301.93 L424.9 304.97 L423.09 307.89 L421.12 310.68 L418.98 313.33 L416.69 315.83 L414.26 318.15 L411.7 320.3 L409.02 322.26 L406.24 324.02 L403.37 325.58 L400.42 326.92 L397.41 328.04 L394.36 328.93 L391.27 329.59 L388.16 330.02 L385.05 330.21 L381.95 330.16 L378.89 329.87 L375.86 329.35 L372.89 328.6 L370 327.62 L367.19 326.41 L364.48 324.99 L361.88 323.35 L359.41 321.51 L357.08 319.47 L354.9 317.25 L352.87 314.85 L351.02 312.29 L349.34 309.58 L347.85 306.74 L346.56 303.77 L345.47 300.69 L344.58 297.52 L343.9 294.28 L343.44 290.97 L343.19 287.61 L343.15 284.22 L343.34 280.82 L343.74 277.43 L344.36 274.05 L345.18 270.71 L346.22 267.42 L347.45 264.2 L348.88 261.07 L350.5 258.03 L352.31 255.11 L354.28 252.32 L356.42 249.67 L358.71 247.17 L361.14 244.85 L363.7 242.7 L366.38 240.74 L369.16 238.98 L372.03 237.42 L374.98 236.08 L377.99 234.96 L381.04 234.07 L384.13 233.41 L387.24 232.98 L390.35 232.79 L393.45 232.84 L396.51 233.13 L399.54 233.65 L402.51 234.4 L405.4 235.38Z M396.2 259.36 L397.55 259.94 L398.85 260.63 L400.09 261.41 L401.28 262.3 L402.4 263.27 L403.45 264.34 L404.42 265.49 L405.31 266.72 L406.11 268.02 L406.83 269.38 L407.45 270.81 L407.97 272.29 L408.4 273.81 L408.72 275.37 L408.95 276.96 L409.07 278.57 L409.08 280.19 L408.99 281.82 L408.8 283.46 L408.51 285.08 L408.11 286.68 L407.61 288.26 L407.02 289.8 L406.33 291.31 L405.55 292.76 L404.69 294.17 L403.74 295.51 L402.72 296.78 L401.62 297.98 L400.45 299.09 L399.22 300.13 L397.94 301.07 L396.6 301.91 L395.22 302.66 L393.81 303.3 L392.36 303.84 L390.89 304.27 L389.41 304.58 L387.92 304.79 L386.43 304.88 L384.94 304.86 L383.47 304.72 L382.02 304.47 L380.59 304.11 L379.2 303.64 L377.85 303.06 L376.55 302.37 L375.31 301.59 L374.12 300.7 L373 299.73 L371.95 298.66 L370.98 297.51 L370.09 296.28 L369.29 294.98 L368.57 293.62 L367.95 292.19 L367.43 290.71 L367 289.19 L366.68 287.63 L366.45 286.04 L366.33 284.43 L366.32 282.81 L366.41 281.18 L366.6 279.54 L366.89 277.92 L367.29 276.32 L367.79 274.74 L368.38 273.2 L369.07 271.69 L369.85 270.24 L370.71 268.83 L371.66 267.49 L372.68 266.22 L373.78 265.02 L374.95 263.91 L376.18 262.87 L377.46 261.93 L378.8 261.09 L380.18 260.34 L381.59 259.7 L383.04 259.16 L384.51 258.73 L385.99 258.42 L387.48 258.21 L388.97 258.12 L390.46 258.14 L391.93 258.28 L393.38 258.53 L394.81 258.89 L396.2 259.36Z"/></clipPath>
<clipPath id="rh1"><path d="M396.2 259.36 L397.55 259.94 L398.85 260.63 L400.09 261.41 L401.28 262.3 L402.4 263.27 L403.45 264.34 L404.42 265.49 L405.31 266.72 L406.11 268.02 L406.83 269.38 L407.45 270.81 L407.97 272.29 L408.4 273.81 L408.72 275.37 L408.95 276.96 L409.07 278.57 L409.08 280.19 L408.99 281.82 L408.8 283.46 L408.51 285.08 L408.11 286.68 L407.61 288.26 L407.02 289.8 L406.33 291.31 L405.55 292.76 L404.69 294.17 L403.74 295.51 L402.72 296.78 L401.62 297.98 L400.45 299.09 L399.22 300.13 L397.94 301.07 L396.6 301.91 L395.22 302.66 L393.81 303.3 L392.36 303.84 L390.89 304.27 L389.41 304.58 L387.92 304.79 L386.43 304.88 L384.94 304.86 L383.47 304.72 L382.02 304.47 L380.59 304.11 L379.2 303.64 L377.85 303.06 L376.55 302.37 L375.31 301.59 L374.12 300.7 L373 299.73 L371.95 298.66 L370.98 297.51 L370.09 296.28 L369.29 294.98 L368.57 293.62 L367.95 292.19 L367.43 290.71 L367 289.19 L366.68 287.63 L366.45 286.04 L366.33 284.43 L366.32 282.81 L366.41 281.18 L366.6 279.54 L366.89 277.92 L367.29 276.32 L367.79 274.74 L368.38 273.2 L369.07 271.69 L369.85 270.24 L370.71 268.83 L371.66 267.49 L372.68 266.22 L373.78 265.02 L374.95 263.91 L376.18 262.87 L377.46 261.93 L378.8 261.09 L380.18 260.34 L381.59 259.7 L383.04 259.16 L384.51 258.73 L385.99 258.42 L387.48 258.21 L388.97 258.12 L390.46 258.14 L391.93 258.28 L393.38 258.53 L394.81 258.89 L396.2 259.36Z"/></clipPath>
<g stroke="#1b2b2b" stroke-width="0.3" stroke-linejoin="round">
<path d="M364.57 242.03 L366.55 240.62 L368.59 239.31 L370.68 238.12 L372.81 237.04 L374.99 236.08 L377.19 235.23 L379.43 234.51 L381.68 233.91 L383.96 233.44 L386.24 233.1 L388.52 232.88 L390.81 232.79 L393.08 232.82 L395.34 232.99 L397.58 233.28 L399.8 233.7 L401.98 234.25 L404.13 234.92 L406.23 235.71 L408.28 236.62 L410.28 237.65 L412.22 238.8 L414.1 240.06 L415.91 241.43 L417.64 242.9 L419.29 244.48 L420.86 246.15 L422.34 247.91 L423.73 249.77 L425.03 251.7 L426.23 253.72 L427.33 255.81 L428.32 257.97 L429.21 260.18 L429.98 262.46 L430.65 264.78 L431.2 267.15 L431.64 269.56 L431.96 272 L432.17 274.46 L419.77 267.76 L419.56 265.3 L419.24 262.86 L418.8 260.45 L418.25 258.08 L417.58 255.76 L416.81 253.48 L415.92 251.27 L414.93 249.11 L413.83 247.02 L412.63 245 L411.33 243.07 L409.94 241.21 L408.46 239.45 L406.89 237.78 L405.24 236.2 L403.51 234.73 L401.7 233.36 L399.82 232.1 L397.88 230.95 L395.88 229.92 L393.83 229.01 L391.73 228.22 L389.58 227.55 L387.4 227 L385.18 226.58 L382.94 226.29 L380.68 226.12 L378.41 226.09 L376.12 226.18 L373.84 226.4 L371.56 226.74 L369.28 227.21 L367.03 227.81 L364.79 228.53 L362.59 229.38 L360.41 230.34 L358.28 231.42 L356.19 232.61 L354.15 233.92 L352.17 235.33Z" fill="#267e50"/>
<path d="M432.17 274.46 L432.26 276.99 L432.22 279.54 L432.07 282.1 L431.79 284.65 L431.39 287.2 L430.87 289.72 L430.23 292.23 L429.48 294.71 L428.61 297.15 L427.63 299.54 L426.54 301.89 L425.34 304.18 L424.04 306.41 L422.63 308.57 L421.14 310.66 L419.55 312.66 L417.87 314.58 L416.11 316.41 L414.27 318.15 L412.36 319.78 L410.38 321.31 L408.34 322.72 L406.24 324.03 L404.09 325.21 L401.89 326.28 L399.66 327.23 L397.39 328.04 L395.1 328.73 L392.79 329.29 L390.46 329.72 L388.12 330.02 L385.79 330.18 L383.46 330.21 L381.14 330.11 L378.83 329.87 L376.56 329.5 L374.31 328.99 L372.1 328.36 L369.94 327.6 L367.82 326.71 L355.42 320.01 L357.54 320.9 L359.7 321.66 L361.91 322.29 L364.16 322.8 L366.43 323.17 L368.74 323.41 L371.06 323.51 L373.39 323.48 L375.72 323.32 L378.06 323.02 L380.39 322.59 L382.7 322.03 L384.99 321.34 L387.26 320.53 L389.49 319.58 L391.69 318.51 L393.84 317.33 L395.94 316.02 L397.98 314.61 L399.96 313.08 L401.87 311.45 L403.71 309.71 L405.47 307.88 L407.15 305.96 L408.74 303.96 L410.23 301.87 L411.64 299.71 L412.94 297.48 L414.14 295.19 L415.23 292.84 L416.21 290.45 L417.08 288.01 L417.83 285.53 L418.47 283.02 L418.99 280.5 L419.39 277.95 L419.67 275.4 L419.82 272.84 L419.86 270.29 L419.77 267.76Z" fill="#805c0e"/>
<path d="M367.82 326.71 L365.72 325.67 L363.69 324.52 L361.72 323.23 L359.83 321.84 L358.01 320.32 L356.28 318.7 L354.64 316.97 L353.1 315.14 L351.65 313.21 L350.31 311.2 L349.07 309.09 L347.94 306.92 L346.92 304.66 L346.02 302.35 L345.24 299.97 L344.58 297.54 L344.04 295.07 L343.63 292.55 L343.34 290.01 L343.18 287.44 L343.14 284.85 L343.24 282.26 L343.45 279.66 L343.8 277.07 L344.26 274.49 L344.86 271.93 L345.57 269.39 L346.4 266.9 L347.35 264.44 L348.42 262.03 L349.6 259.68 L350.88 257.39 L352.27 255.17 L353.76 253.02 L355.35 250.95 L357.03 248.97 L358.8 247.09 L360.64 245.3 L362.57 243.61 L364.57 242.03 L352.17 235.33 L350.17 236.91 L348.24 238.6 L346.4 240.39 L344.63 242.27 L342.95 244.25 L341.36 246.32 L339.87 248.47 L338.48 250.69 L337.2 252.98 L336.02 255.33 L334.95 257.74 L334 260.2 L333.17 262.69 L332.46 265.23 L331.86 267.79 L331.4 270.37 L331.05 272.96 L330.84 275.56 L330.74 278.15 L330.78 280.74 L330.94 283.31 L331.23 285.85 L331.64 288.37 L332.18 290.84 L332.84 293.27 L333.62 295.65 L334.52 297.96 L335.54 300.22 L336.67 302.39 L337.91 304.5 L339.25 306.51 L340.7 308.44 L342.24 310.27 L343.88 312 L345.61 313.62 L347.43 315.14 L349.32 316.53 L351.29 317.82 L353.32 318.97 L355.42 320.01Z" fill="#065678"/>
</g>
<g clip-path="url(#ra1)">
<path d="M405.4 235.38 L408.21 236.59 L410.92 238.01 L413.52 239.65 L415.99 241.49 L418.32 243.53 L420.5 245.75 L422.53 248.15 L424.38 250.71 L426.06 253.42 L427.55 256.26 L428.84 259.23 L429.93 262.31 L430.82 265.48 L431.5 268.72 L431.96 272.03 L432.21 275.39 L432.25 278.78 L432.06 282.18 L431.66 285.57 L431.04 288.95 L430.22 292.29 L429.18 295.58 L427.95 298.8 L426.52 301.93 L424.9 304.97 L423.09 307.89 L421.12 310.68 L418.98 313.33 L416.69 315.83 L414.26 318.15 L411.7 320.3 L409.02 322.26 L406.24 324.02 L403.37 325.58 L400.42 326.92 L397.41 328.04 L394.36 328.93 L391.27 329.59 L388.16 330.02 L385.05 330.21 L381.95 330.16 L378.89 329.87 L375.86 329.35 L372.89 328.6 L370 327.62 L367.19 326.41 L364.48 324.99 L361.88 323.35 L359.41 321.51 L357.08 319.47 L354.9 317.25 L352.87 314.85 L351.02 312.29 L349.34 309.58 L347.85 306.74 L346.56 303.77 L345.47 300.69 L344.58 297.52 L343.9 294.28 L343.44 290.97 L343.19 287.61 L343.15 284.22 L343.34 280.82 L343.74 277.43 L344.36 274.05 L345.18 270.71 L346.22 267.42 L347.45 264.2 L348.88 261.07 L350.5 258.03 L352.31 255.11 L354.28 252.32 L356.42 249.67 L358.71 247.17 L361.14 244.85 L363.7 242.7 L366.38 240.74 L369.16 238.98 L372.03 237.42 L374.98 236.08 L377.99 234.96 L381.04 234.07 L384.13 233.41 L387.24 232.98 L390.35 232.79 L393.45 232.84 L396.51 233.13 L399.54 233.65 L402.51 234.4 L405.4 235.38Z" fill="#4cfc9e"/>
<path d="M367.93 279.39 L367.68 276.62 L367.11 273.89 L366.32 271.17 L365.58 268.45 L364.93 265.72 L364.4 262.98 L364.01 260.23 L363.77 257.47 L365.6 257.3 L366.44 258.18 L367.55 258.67 L368.77 258.72 L369.92 258.31 L370.85 257.51 L371.44 256.43 L371.61 255.21 L371.36 254.03 L370.7 253.05 L369.73 252.42 L368.56 252.22 L367.35 252.49 L366.27 253.18 L365.5 254.2 L363.67 254.36 L363.69 252.33 L363.78 250.29 L363.93 248.24 L364.11 246.19 L364.33 244.14 L364.56 242.08 L364.39 240.07 L364.21 238.05 L350.69 218.35 L353.86 216.09 L357.12 214 L360.47 212.09 L363.88 210.36 L367.36 208.82 L370.89 207.48 L374.46 206.32 L378.07 205.36 L381.71 204.61 L385.36 204.05 L389.02 203.7 L392.67 203.56 L396.31 203.62 L399.93 203.88 L403.51 204.35 L407.06 205.02 L410.55 205.9 L413.98 206.97 L417.35 208.24 L420.63 209.7 L423.83 211.35 L426.94 213.18 L429.94 215.19 L432.83 217.38 L435.6 219.74 L438.24 222.26 L440.76 224.94 L443.13 227.76 L445.35 230.73 L447.43 233.83 L449.35 237.05 L451.1 240.39 L452.69 243.84 L454.11 247.39 L455.35 251.03 L456.42 254.75 L457.3 258.54 L458 262.39 L458.52 266.29 L458.85 270.23 L435.93 275.82 L434.17 275.18 L432.41 274.55 L430.78 273.58 L429.16 272.56 L427.53 271.57 L425.89 270.62 L424.23 269.72 L422.55 268.88 L421.92 270.61 L422.51 271.76 L422.68 273.03 L422.41 274.24 L421.74 275.21 L420.76 275.82 L419.6 275.99 L418.43 275.7 L417.4 275.02 L416.67 274.02 L416.33 272.84 L416.45 271.63 L417.01 270.55 L417.93 269.75 L419.08 269.36 L419.71 267.63 L417.25 266.73 L414.74 265.97 L412.18 265.35 L409.58 264.85 L406.94 264.43 L404.29 264.07 L401.74 263.43 L399.27 262.54 L393.83 274.46 L393.52 274.16 L393.2 273.87 L392.86 273.61 L392.51 273.37 L392.14 273.14 L391.77 272.94 L391.38 272.76 L390.99 272.6 L390.58 272.47 L390.17 272.36 L389.75 272.27 L389.33 272.2 L388.9 272.16 L388.47 272.15 L388.04 272.15 L387.61 272.19 L387.17 272.24 L386.74 272.32 L386.31 272.42 L385.89 272.55 L385.47 272.7 L385.05 272.87 L384.64 273.06 L384.24 273.28 L383.85 273.51 L383.47 273.77 L383.1 274.05 L382.74 274.34 L382.39 274.66 L382.06 274.99 L381.74 275.33 L381.44 275.7 L381.15 276.08 L380.88 276.47 L380.63 276.88 L380.39 277.29 L380.18 277.72 L379.98 278.16 L379.8 278.61 L379.65 279.06Z" fill="#4cfc9e"/>
<path d="M399.27 262.54 L401.74 263.43 L404.29 264.07 L406.94 264.43 L409.58 264.85 L412.18 265.35 L414.74 265.97 L417.25 266.73 L419.71 267.63 L419.08 269.36 L417.93 269.75 L417.01 270.55 L416.45 271.63 L416.33 272.84 L416.67 274.02 L417.4 275.02 L418.43 275.7 L419.6 275.99 L420.76 275.82 L421.74 275.21 L422.41 274.24 L422.68 273.03 L422.51 271.76 L421.92 270.61 L422.55 268.88 L424.23 269.72 L425.89 270.62 L427.53 271.57 L429.16 272.56 L430.78 273.58 L432.41 274.55 L434.17 275.18 L435.93 275.82 L458.85 270.23 L458.99 274.29 L458.94 278.37 L458.69 282.46 L458.24 286.54 L457.61 290.61 L456.77 294.66 L455.75 298.67 L454.55 302.63 L453.16 306.53 L451.59 310.37 L449.84 314.12 L447.92 317.79 L445.84 321.36 L443.59 324.81 L441.2 328.15 L438.65 331.36 L435.97 334.43 L433.15 337.36 L430.21 340.13 L427.15 342.74 L423.98 345.19 L420.72 347.46 L417.36 349.54 L413.92 351.44 L410.41 353.15 L406.83 354.66 L403.21 355.97 L399.54 357.07 L395.84 357.97 L392.11 358.66 L388.38 359.13 L384.64 359.39 L380.91 359.44 L377.2 359.27 L373.52 358.89 L369.87 358.29 L366.28 357.49 L362.74 356.47 L359.28 355.25 L355.89 353.83 L364.92 329.47 L366.35 328.1 L367.79 326.73 L369.5 325.66 L371.21 324.59 L372.9 323.49 L374.56 322.36 L376.18 321.2 L377.76 319.98 L376.49 318.65 L375.21 318.67 L373.99 318.26 L373.03 317.48 L372.46 316.44 L372.35 315.29 L372.71 314.17 L373.47 313.24 L374.54 312.62 L375.76 312.41 L376.96 312.63 L377.99 313.28 L378.71 314.27 L379.02 315.45 L378.86 316.64 L380.13 317.98 L382.11 316.1 L383.98 314.11 L385.76 312.02 L387.46 309.85 L389.1 307.61 L390.69 305.32 L392.45 303.22 L394.43 301.33 L389.23 290.54 L389.69 290.39 L390.13 290.22 L390.57 290.03 L391 289.81 L391.42 289.57 L391.84 289.3 L392.23 289.01 L392.62 288.7 L392.99 288.36 L393.35 288.01 L393.68 287.64 L394.01 287.25 L394.31 286.84 L394.59 286.42 L394.86 285.98 L395.1 285.53 L395.32 285.07 L395.52 284.59 L395.7 284.11 L395.85 283.62 L395.98 283.13 L396.08 282.63 L396.16 282.13 L396.22 281.62 L396.25 281.12 L396.25 280.61 L396.24 280.11 L396.19 279.61 L396.12 279.12 L396.03 278.63 L395.91 278.16 L395.77 277.69 L395.6 277.23 L395.41 276.79 L395.2 276.36 L394.97 275.95 L394.72 275.55 L394.44 275.17 L394.15 274.8 L393.83 274.46Z" fill="#fbb221"/>
<path d="M394.43 301.33 L392.45 303.22 L390.69 305.32 L389.1 307.61 L387.46 309.85 L385.76 312.02 L383.98 314.11 L382.11 316.1 L380.13 317.98 L378.86 316.64 L379.02 315.45 L378.71 314.27 L377.99 313.28 L376.96 312.63 L375.76 312.41 L374.54 312.62 L373.47 313.24 L372.71 314.17 L372.35 315.29 L372.46 316.44 L373.03 317.48 L373.99 318.26 L375.21 318.67 L376.49 318.65 L377.76 319.98 L376.18 321.2 L374.56 322.36 L372.9 323.49 L371.21 324.59 L369.5 325.66 L367.79 326.73 L366.35 328.1 L364.92 329.47 L355.89 353.83 L352.53 352.18 L349.28 350.32 L346.13 348.28 L343.1 346.04 L340.2 343.62 L337.43 341.02 L334.81 338.25 L332.34 335.32 L330.02 332.24 L327.87 329.01 L325.89 325.65 L324.08 322.16 L322.46 318.56 L321.02 314.85 L319.77 311.05 L318.71 307.16 L317.85 303.2 L317.19 299.18 L316.73 295.11 L316.47 291 L316.41 286.86 L316.56 282.71 L316.9 278.55 L317.45 274.41 L318.2 270.28 L319.15 266.18 L320.29 262.13 L321.62 258.13 L323.15 254.2 L324.85 250.35 L326.73 246.59 L328.79 242.92 L331.01 239.37 L333.4 235.93 L335.94 232.62 L338.63 229.46 L341.45 226.44 L344.41 223.57 L347.49 220.88 L350.69 218.35 L364.21 238.05 L364.39 240.07 L364.56 242.08 L364.33 244.14 L364.11 246.19 L363.93 248.24 L363.78 250.29 L363.69 252.33 L363.67 254.36 L365.5 254.2 L366.27 253.18 L367.35 252.49 L368.56 252.22 L369.73 252.42 L370.7 253.05 L371.36 254.03 L371.61 255.21 L371.44 256.43 L370.85 257.51 L369.92 258.31 L368.77 258.72 L367.55 258.67 L366.44 258.18 L365.6 257.3 L363.77 257.47 L364.01 260.23 L364.4 262.98 L364.93 265.72 L365.58 268.45 L366.32 271.17 L367.11 273.89 L367.68 276.62 L367.93 279.39 L379.65 279.06 L379.51 279.54 L379.39 280.02 L379.29 280.5 L379.22 280.99 L379.17 281.48 L379.15 281.97 L379.15 282.46 L379.17 282.95 L379.21 283.43 L379.28 283.9 L379.37 284.37 L379.49 284.84 L379.62 285.29 L379.78 285.73 L379.96 286.16 L380.17 286.58 L380.39 286.99 L380.63 287.37 L380.89 287.75 L381.17 288.1 L381.47 288.44 L381.79 288.76 L382.12 289.06 L382.47 289.34 L382.83 289.59 L383.21 289.83 L383.59 290.04 L383.99 290.23 L384.4 290.39 L384.82 290.53 L385.24 290.65 L385.68 290.74 L386.11 290.8 L386.56 290.84 L387 290.85 L387.45 290.84 L387.9 290.8 L388.34 290.74 L388.79 290.65 L389.23 290.54Z" fill="#0da8e8"/>
<path d="M419.71 267.63 L419.08 269.36 L417.93 269.75 L417.01 270.55 L416.45 271.63 L416.33 272.84 L416.67 274.02 L417.4 275.02 L418.43 275.7 L419.6 275.99 L420.76 275.82 L421.74 275.21 L422.41 274.24 L422.68 273.03 L422.51 271.76 L421.92 270.61Z" fill="#4cfc9e"/>
<path d="M380.13 317.98 L378.86 316.64 L379.02 315.45 L378.71 314.27 L377.99 313.28 L376.96 312.63 L375.76 312.41 L374.54 312.62 L373.47 313.24 L372.71 314.17 L372.35 315.29 L372.46 316.44 L373.03 317.48 L373.99 318.26 L375.21 318.67 L376.49 318.65Z" fill="#fbb221"/>
<path d="M363.77 257.47 L365.6 257.3 L366.44 258.18 L367.55 258.67 L368.77 258.72 L369.92 258.31 L370.85 257.51 L371.44 256.43 L371.61 255.21 L371.36 254.03 L370.7 253.05 L369.73 252.42 L368.56 252.22 L367.35 252.49 L366.27 253.18 L365.5 254.2Z" fill="#0da8e8"/>
<path d="M399.27 262.54 L401.74 263.43 L404.29 264.07 L406.94 264.43 L409.58 264.85 L412.18 265.35 L414.74 265.97 L417.25 266.73 L419.71 267.63 L419.08 269.36 L417.93 269.75 L417.01 270.55 L416.45 271.63 L416.33 272.84 L416.67 274.02 L417.4 275.02 L418.43 275.7 L419.6 275.99 L420.76 275.82 L421.74 275.21 L422.41 274.24 L422.68 273.03 L422.51 271.76 L421.92 270.61 L422.55 268.88 L424.23 269.72 L425.89 270.62 L427.53 271.57 L429.16 272.56 L430.78 273.58 L432.41 274.55 L434.17 275.18 L435.93 275.82" fill="none" stroke="#16302a" stroke-width="0.5" stroke-linejoin="round"/>
<path d="M394.43 301.33 L392.45 303.22 L390.69 305.32 L389.1 307.61 L387.46 309.85 L385.76 312.02 L383.98 314.11 L382.11 316.1 L380.13 317.98 L378.86 316.64 L379.02 315.45 L378.71 314.27 L377.99 313.28 L376.96 312.63 L375.76 312.41 L374.54 312.62 L373.47 313.24 L372.71 314.17 L372.35 315.29 L372.46 316.44 L373.03 317.48 L373.99 318.26 L375.21 318.67 L376.49 318.65 L377.76 319.98 L376.18 321.2 L374.56 322.36 L372.9 323.49 L371.21 324.59 L369.5 325.66 L367.79 326.73 L366.35 328.1 L364.92 329.47" fill="none" stroke="#16302a" stroke-width="0.5" stroke-linejoin="round"/>
<path d="M367.93 279.39 L367.68 276.62 L367.11 273.89 L366.32 271.17 L365.58 268.45 L364.93 265.72 L364.4 262.98 L364.01 260.23 L363.77 257.47 L365.6 257.3 L366.44 258.18 L367.55 258.67 L368.77 258.72 L369.92 258.31 L370.85 257.51 L371.44 256.43 L371.61 255.21 L371.36 254.03 L370.7 253.05 L369.73 252.42 L368.56 252.22 L367.35 252.49 L366.27 253.18 L365.5 254.2 L363.67 254.36 L363.69 252.33 L363.78 250.29 L363.93 248.24 L364.11 246.19 L364.33 244.14 L364.56 242.08 L364.39 240.07 L364.21 238.05" fill="none" stroke="#16302a" stroke-width="0.5" stroke-linejoin="round"/>
</g>
<path d="M405.4 235.38 L408.21 236.59 L410.92 238.01 L413.52 239.65 L415.99 241.49 L418.32 243.53 L420.5 245.75 L422.53 248.15 L424.38 250.71 L426.06 253.42 L427.55 256.26 L428.84 259.23 L429.93 262.31 L430.82 265.48 L431.5 268.72 L431.96 272.03 L432.21 275.39 L432.25 278.78 L432.06 282.18 L431.66 285.57 L431.04 288.95 L430.22 292.29 L429.18 295.58 L427.95 298.8 L426.52 301.93 L424.9 304.97 L423.09 307.89 L421.12 310.68 L418.98 313.33 L416.69 315.83 L414.26 318.15 L411.7 320.3 L409.02 322.26 L406.24 324.02 L403.37 325.58 L400.42 326.92 L397.41 328.04 L394.36 328.93 L391.27 329.59 L388.16 330.02 L385.05 330.21 L381.95 330.16 L378.89 329.87 L375.86 329.35 L372.89 328.6 L370 327.62 L367.19 326.41 L364.48 324.99 L361.88 323.35 L359.41 321.51 L357.08 319.47 L354.9 317.25 L352.87 314.85 L351.02 312.29 L349.34 309.58 L347.85 306.74 L346.56 303.77 L345.47 300.69 L344.58 297.52 L343.9 294.28 L343.44 290.97 L343.19 287.61 L343.15 284.22 L343.34 280.82 L343.74 277.43 L344.36 274.05 L345.18 270.71 L346.22 267.42 L347.45 264.2 L348.88 261.07 L350.5 258.03 L352.31 255.11 L354.28 252.32 L356.42 249.67 L358.71 247.17 L361.14 244.85 L363.7 242.7 L366.38 240.74 L369.16 238.98 L372.03 237.42 L374.98 236.08 L377.99 234.96 L381.04 234.07 L384.13 233.41 L387.24 232.98 L390.35 232.79 L393.45 232.84 L396.51 233.13 L399.54 233.65 L402.51 234.4 L405.4 235.38Z" fill="none" stroke="#20302c" stroke-width="0.15" opacity="0.6"/>
<g clip-path="url(#rh1)">
<path d="M396.2 259.36 L397.55 259.94 L398.85 260.63 L400.09 261.41 L401.28 262.3 L402.4 263.27 L403.45 264.34 L404.42 265.49 L405.31 266.72 L406.11 268.02 L406.83 269.38 L407.45 270.81 L407.97 272.29 L408.4 273.81 L408.72 275.37 L408.95 276.96 L409.07 278.57 L409.08 280.19 L408.99 281.82 L408.8 283.46 L408.51 285.08 L408.11 286.68 L407.61 288.26 L407.02 289.8 L406.33 291.31 L405.55 292.76 L404.69 294.17 L403.74 295.51 L402.72 296.78 L401.62 297.98 L400.45 299.09 L399.22 300.13 L397.94 301.07 L396.6 301.91 L395.22 302.66 L393.81 303.3 L392.36 303.84 L390.89 304.27 L389.41 304.58 L387.92 304.79 L386.43 304.88 L384.94 304.86 L383.47 304.72 L382.02 304.47 L380.59 304.11 L379.2 303.64 L377.85 303.06 L376.55 302.37 L375.31 301.59 L374.12 300.7 L373 299.73 L371.95 298.66 L370.98 297.51 L370.09 296.28 L369.29 294.98 L368.57 293.62 L367.95 292.19 L367.43 290.71 L367 289.19 L366.68 287.63 L366.45 286.04 L366.33 284.43 L366.32 282.81 L366.41 281.18 L366.6 279.54 L366.89 277.92 L367.29 276.32 L367.79 274.74 L368.38 273.2 L369.07 271.69 L369.85 270.24 L370.71 268.83 L371.66 267.49 L372.68 266.22 L373.78 265.02 L374.95 263.91 L376.18 262.87 L377.46 261.93 L378.8 261.09 L380.18 260.34 L381.59 259.7 L383.04 259.16 L384.51 258.73 L385.99 258.42 L387.48 258.21 L388.97 258.12 L390.46 258.14 L391.93 258.28 L393.38 258.53 L394.81 258.89 L396.2 259.36Z" fill="#ffffff"/>
<path d="M367.57 275.4 L367.96 274.27 L368.4 273.15 L368.89 272.06 L369.43 270.98 L370.02 269.94 L370.65 268.93 L371.33 267.94 L372.04 267 L372.8 266.09 L373.6 265.22 L374.43 264.39 L375.3 263.6 L376.19 262.86 L377.12 262.17 L378.08 261.53 L379.06 260.94 L380.06 260.4 L381.08 259.92 L382.12 259.49 L383.17 259.12 L384.23 258.8 L385.31 258.55 L386.38 258.35 L387.47 258.21 L388.55 258.14 L389.63 258.12 L390.71 258.16 L391.78 258.26 L392.83 258.42 L393.88 258.64 L394.91 258.92 L395.92 259.26 L396.91 259.65 L397.87 260.1 L398.81 260.61 L399.72 261.16 L400.6 261.78 L401.45 262.44 L402.26 263.15 L403.04 263.9 L390.64 257.2 L389.86 256.45 L389.05 255.74 L388.2 255.08 L387.32 254.46 L386.41 253.91 L385.47 253.4 L384.51 252.95 L383.52 252.56 L382.51 252.22 L381.48 251.94 L380.43 251.72 L379.38 251.56 L378.31 251.46 L377.23 251.42 L376.15 251.44 L375.07 251.51 L373.98 251.65 L372.91 251.85 L371.83 252.1 L370.77 252.42 L369.72 252.79 L368.68 253.22 L367.66 253.7 L366.66 254.24 L365.68 254.83 L364.72 255.47 L363.79 256.16 L362.9 256.9 L362.03 257.69 L361.2 258.52 L360.4 259.39 L359.64 260.3 L358.93 261.24 L358.25 262.23 L357.62 263.24 L357.03 264.28 L356.49 265.36 L356 266.45 L355.56 267.57 L355.17 268.7Z" fill="#267e50"/>
<path d="M403.04 263.9 L403.82 264.76 L404.55 265.67 L405.24 266.62 L405.88 267.62 L406.46 268.65 L406.99 269.73 L407.46 270.84 L407.87 271.98 L408.23 273.14 L408.52 274.34 L408.75 275.55 L408.93 276.78 L409.04 278.02 L409.09 279.28 L409.07 280.54 L408.99 281.8 L408.86 283.07 L408.66 284.32 L408.39 285.57 L408.07 286.81 L407.69 288.03 L407.25 289.24 L406.75 290.42 L406.2 291.57 L405.59 292.7 L404.93 293.79 L404.22 294.85 L403.47 295.87 L402.66 296.84 L401.81 297.77 L400.92 298.66 L400 299.49 L399.03 300.27 L398.04 301 L397.01 301.66 L395.96 302.27 L394.88 302.82 L393.78 303.31 L392.66 303.74 L391.53 304.09 L379.13 297.39 L380.26 297.04 L381.38 296.61 L382.48 296.12 L383.56 295.57 L384.61 294.96 L385.64 294.3 L386.63 293.57 L387.6 292.79 L388.52 291.96 L389.41 291.07 L390.26 290.14 L391.07 289.17 L391.82 288.15 L392.53 287.09 L393.19 286 L393.8 284.87 L394.35 283.72 L394.85 282.54 L395.29 281.33 L395.67 280.11 L395.99 278.87 L396.26 277.62 L396.46 276.37 L396.59 275.1 L396.67 273.84 L396.69 272.58 L396.64 271.32 L396.53 270.08 L396.35 268.85 L396.12 267.64 L395.83 266.44 L395.47 265.28 L395.06 264.14 L394.59 263.03 L394.06 261.95 L393.48 260.92 L392.84 259.92 L392.15 258.97 L391.42 258.06 L390.64 257.2Z" fill="#805c0e"/>
<path d="M391.53 304.09 L390.43 304.38 L389.31 304.6 L388.19 304.76 L387.07 304.85 L385.95 304.88 L384.84 304.85 L383.73 304.75 L382.64 304.59 L381.56 304.37 L380.49 304.08 L379.45 303.73 L378.43 303.32 L377.43 302.85 L376.46 302.32 L375.53 301.73 L374.62 301.09 L373.75 300.4 L372.92 299.65 L372.13 298.85 L371.39 298.01 L370.69 297.12 L370.03 296.19 L369.42 295.21 L368.87 294.2 L368.36 293.16 L367.91 292.08 L367.51 290.97 L367.17 289.84 L366.88 288.69 L366.66 287.51 L366.48 286.32 L366.37 285.12 L366.32 283.9 L366.32 282.68 L366.38 281.46 L366.51 280.23 L366.69 279.01 L366.92 277.8 L367.22 276.59 L367.57 275.4 L355.17 268.7 L354.82 269.89 L354.52 271.1 L354.29 272.31 L354.11 273.53 L353.98 274.76 L353.92 275.98 L353.92 277.2 L353.97 278.42 L354.08 279.62 L354.26 280.81 L354.48 281.99 L354.77 283.14 L355.11 284.27 L355.51 285.38 L355.96 286.46 L356.47 287.5 L357.02 288.51 L357.63 289.49 L358.29 290.42 L358.99 291.31 L359.73 292.15 L360.52 292.95 L361.35 293.7 L362.22 294.39 L363.13 295.03 L364.06 295.62 L365.03 296.15 L366.03 296.62 L367.05 297.03 L368.09 297.38 L369.16 297.67 L370.24 297.89 L371.33 298.05 L372.44 298.15 L373.55 298.18 L374.67 298.15 L375.79 298.06 L376.91 297.9 L378.03 297.68 L379.13 297.39Z" fill="#065678"/>
<path d="M383.8 252.66 L385.15 253.24 L386.45 253.93 L387.69 254.71 L388.88 255.6 L390 256.57 L391.05 257.64 L392.02 258.79 L392.91 260.02 L393.71 261.32 L394.43 262.68 L395.05 264.11 L395.57 265.59 L396 267.11 L396.32 268.67 L396.55 270.26 L396.67 271.87 L396.68 273.49 L396.59 275.12 L396.4 276.76 L396.11 278.38 L395.71 279.98 L395.21 281.56 L394.62 283.1 L393.93 284.61 L393.15 286.06 L392.29 287.47 L391.34 288.81 L390.32 290.08 L389.22 291.28 L388.05 292.39 L386.82 293.43 L385.54 294.37 L384.2 295.21 L382.82 295.96 L381.41 296.6 L379.96 297.14 L378.49 297.57 L377.01 297.88 L375.52 298.09 L374.03 298.18 L372.54 298.16 L371.07 298.02 L369.62 297.77 L368.19 297.41 L366.8 296.94 L365.45 296.36 L364.15 295.67 L362.91 294.89 L361.72 294 L360.6 293.03 L359.55 291.96 L358.58 290.81 L357.69 289.58 L356.89 288.28 L356.17 286.92 L355.55 285.49 L355.03 284.01 L354.6 282.49 L354.28 280.93 L354.05 279.34 L353.93 277.73 L353.92 276.11 L354.01 274.48 L354.2 272.84 L354.49 271.22 L354.89 269.62 L355.39 268.04 L355.98 266.5 L356.67 264.99 L357.45 263.54 L358.31 262.13 L359.26 260.79 L360.28 259.52 L361.38 258.32 L362.55 257.21 L363.78 256.17 L365.06 255.23 L366.4 254.39 L367.78 253.64 L369.19 253 L370.64 252.46 L372.11 252.03 L373.59 251.72 L375.08 251.51 L376.57 251.42 L378.06 251.44 L379.53 251.58 L380.98 251.83 L382.41 252.19 L383.8 252.66Z" fill="#ffffff"/>
</g>
<text x="489.2" y="233.5" text-anchor="start" font-size="4.9" fill="#0da8e8" stroke="#0da8e8" stroke-width="0.05" textLength="33.1" lengthAdjust="spacingAndGlyphs">Insert title here</text>
<text x="489.2" y="240.3" text-anchor="start" font-size="4.4" fill="#606060" textLength="109.3" lengthAdjust="spacingAndGlyphs">Sed ut perspiciatis unde omnis iste natus error voluptatem .</text>
<path d="M474.15 231.7 Q473.05 233.4 472.65 234.6 Q473.05 235.8 474.15 237.5" fill="none" stroke="#6e6e6e" stroke-width="0.55" stroke-linecap="round"/>
<text x="489.2" y="276.7" text-anchor="start" font-size="4.9" fill="#4cfc9e" stroke="#4cfc9e" stroke-width="0.05" textLength="33.1" lengthAdjust="spacingAndGlyphs">Insert title here</text>
<text x="489.2" y="283.5" text-anchor="start" font-size="4.4" fill="#606060" textLength="109.3" lengthAdjust="spacingAndGlyphs">Sed ut perspiciatis unde omnis iste natus error voluptatem .</text>
<path d="M474.15 274.9 Q473.05 276.6 472.65 277.8 Q473.05 279 474.15 280.7" fill="none" stroke="#6e6e6e" stroke-width="0.55" stroke-linecap="round"/>
<text x="489.2" y="319.9" text-anchor="start" font-size="4.9" fill="#fbb221" stroke="#fbb221" stroke-width="0.05" textLength="33.1" lengthAdjust="spacingAndGlyphs">Insert title here</text>
<text x="489.2" y="326.7" text-anchor="start" font-size="4.4" fill="#606060" textLength="109.3" lengthAdjust="spacingAndGlyphs">Sed ut perspiciatis unde omnis iste natus error voluptatem .</text>
<path d="M474.15 318.1 Q473.05 319.8 472.65 321 Q473.05 322.2 474.15 323.9" fill="none" stroke="#6e6e6e" stroke-width="0.55" stroke-linecap="round"/>
<text x="157" y="377.1" text-anchor="middle" font-size="13" fill="#757575" textLength="201" lengthAdjust="spacingAndGlyphs">3D Circle Puzzle Diagram– 4 Periods</text>
<text x="157" y="386.6" text-anchor="middle" font-size="4.9" fill="#b0b0b0">Enter your subhead line here</text>
<clipPath id="ra2"><path clip-rule="evenodd" d="M97.2 410.38 L100.01 411.59 L102.72 413.01 L105.32 414.65 L107.79 416.49 L110.12 418.53 L112.3 420.75 L114.33 423.15 L116.18 425.71 L117.86 428.42 L119.35 431.26 L120.64 434.23 L121.73 437.31 L122.62 440.48 L123.3 443.72 L123.76 447.03 L124.01 450.39 L124.05 453.78 L123.86 457.18 L123.46 460.57 L122.84 463.95 L122.02 467.29 L120.98 470.58 L119.75 473.8 L118.32 476.93 L116.7 479.97 L114.89 482.89 L112.92 485.68 L110.78 488.33 L108.49 490.83 L106.06 493.15 L103.5 495.3 L100.82 497.26 L98.04 499.02 L95.17 500.58 L92.22 501.92 L89.21 503.04 L86.16 503.93 L83.07 504.59 L79.96 505.02 L76.85 505.21 L73.75 505.16 L70.69 504.87 L67.66 504.35 L64.69 503.6 L61.8 502.62 L58.99 501.41 L56.28 499.99 L53.68 498.35 L51.21 496.51 L48.88 494.47 L46.7 492.25 L44.67 489.85 L42.82 487.29 L41.14 484.58 L39.65 481.74 L38.36 478.77 L37.27 475.69 L36.38 472.52 L35.7 469.28 L35.24 465.97 L34.99 462.61 L34.95 459.22 L35.14 455.82 L35.54 452.43 L36.16 449.05 L36.98 445.71 L38.02 442.42 L39.25 439.2 L40.68 436.07 L42.3 433.03 L44.11 430.11 L46.08 427.32 L48.22 424.67 L50.51 422.17 L52.94 419.85 L55.5 417.7 L58.18 415.74 L60.96 413.98 L63.83 412.42 L66.78 411.08 L69.79 409.96 L72.84 409.07 L75.93 408.41 L79.04 407.98 L82.15 407.79 L85.25 407.84 L88.31 408.13 L91.34 408.65 L94.31 409.4 L97.2 410.38Z M88 434.36 L89.35 434.94 L90.65 435.63 L91.89 436.41 L93.08 437.3 L94.2 438.27 L95.25 439.34 L96.22 440.49 L97.11 441.72 L97.91 443.02 L98.63 444.38 L99.25 445.81 L99.77 447.29 L100.2 448.81 L100.52 450.37 L100.75 451.96 L100.87 453.57 L100.88 455.19 L100.79 456.82 L100.6 458.46 L100.31 460.08 L99.91 461.68 L99.41 463.26 L98.82 464.8 L98.13 466.31 L97.35 467.76 L96.49 469.17 L95.54 470.51 L94.52 471.78 L93.42 472.98 L92.25 474.09 L91.02 475.13 L89.74 476.07 L88.4 476.91 L87.02 477.66 L85.61 478.3 L84.16 478.84 L82.69 479.27 L81.21 479.58 L79.72 479.79 L78.23 479.88 L76.74 479.86 L75.27 479.72 L73.82 479.47 L72.39 479.11 L71 478.64 L69.65 478.06 L68.35 477.37 L67.11 476.59 L65.92 475.7 L64.8 474.73 L63.75 473.66 L62.78 472.51 L61.89 471.28 L61.09 469.98 L60.37 468.62 L59.75 467.19 L59.23 465.71 L58.8 464.19 L58.48 462.63 L58.25 461.04 L58.13 459.43 L58.12 457.81 L58.21 456.18 L58.4 454.54 L58.69 452.92 L59.09 451.32 L59.59 449.74 L60.18 448.2 L60.87 446.69 L61.65 445.24 L62.51 443.83 L63.46 442.49 L64.48 441.22 L65.58 440.02 L66.75 438.91 L67.98 437.87 L69.26 436.93 L70.6 436.09 L71.98 435.34 L73.39 434.7 L74.84 434.16 L76.31 433.73 L77.79 433.42 L79.28 433.21 L80.77 433.12 L82.26 433.14 L83.73 433.28 L85.18 433.53 L86.61 433.89 L88 434.36Z"/></clipPath>
<clipPath id="rh2"><path d="M88 434.36 L89.35 434.94 L90.65 435.63 L91.89 436.41 L93.08 437.3 L94.2 438.27 L95.25 439.34 L96.22 440.49 L97.11 441.72 L97.91 443.02 L98.63 444.38 L99.25 445.81 L99.77 447.29 L100.2 448.81 L100.52 450.37 L100.75 451.96 L100.87 453.57 L100.88 455.19 L100.79 456.82 L100.6 458.46 L100.31 460.08 L99.91 461.68 L99.41 463.26 L98.82 464.8 L98.13 466.31 L97.35 467.76 L96.49 469.17 L95.54 470.51 L94.52 471.78 L93.42 472.98 L92.25 474.09 L91.02 475.13 L89.74 476.07 L88.4 476.91 L87.02 477.66 L85.61 478.3 L84.16 478.84 L82.69 479.27 L81.21 479.58 L79.72 479.79 L78.23 479.88 L76.74 479.86 L75.27 479.72 L73.82 479.47 L72.39 479.11 L71 478.64 L69.65 478.06 L68.35 477.37 L67.11 476.59 L65.92 475.7 L64.8 474.73 L63.75 473.66 L62.78 472.51 L61.89 471.28 L61.09 469.98 L60.37 468.62 L59.75 467.19 L59.23 465.71 L58.8 464.19 L58.48 462.63 L58.25 461.04 L58.13 459.43 L58.12 457.81 L58.21 456.18 L58.4 454.54 L58.69 452.92 L59.09 451.32 L59.59 449.74 L60.18 448.2 L60.87 446.69 L61.65 445.24 L62.51 443.83 L63.46 442.49 L64.48 441.22 L65.58 440.02 L66.75 438.91 L67.98 437.87 L69.26 436.93 L70.6 436.09 L71.98 435.34 L73.39 434.7 L74.84 434.16 L76.31 433.73 L77.79 433.42 L79.28 433.21 L80.77 433.12 L82.26 433.14 L83.73 433.28 L85.18 433.53 L86.61 433.89 L88 434.36Z"/></clipPath>
<g stroke="#1b2b2b" stroke-width="0.3" stroke-linejoin="round">
<path d="M81.33 407.82 L83 407.78 L84.66 407.81 L86.32 407.91 L87.97 408.08 L89.61 408.32 L91.24 408.62 L92.84 409 L94.43 409.44 L96 409.94 L97.54 410.51 L99.06 411.15 L100.55 411.85 L102.01 412.61 L103.44 413.44 L104.84 414.33 L106.2 415.27 L107.52 416.28 L108.8 417.34 L110.04 418.46 L111.24 419.63 L112.39 420.85 L113.5 422.12 L114.56 423.44 L115.57 424.81 L116.52 426.22 L117.43 427.68 L118.28 429.18 L119.08 430.71 L119.82 432.28 L120.5 433.89 L121.13 435.52 L121.7 437.19 L122.21 438.89 L122.65 440.61 L123.04 442.35 L123.37 444.11 L123.63 445.89 L123.83 447.68 L123.97 449.49 L124.04 451.31 L111.64 444.61 L111.57 442.79 L111.43 440.98 L111.23 439.19 L110.97 437.41 L110.64 435.65 L110.25 433.91 L109.81 432.19 L109.3 430.49 L108.73 428.82 L108.1 427.19 L107.42 425.58 L106.68 424.01 L105.88 422.48 L105.03 420.98 L104.12 419.52 L103.17 418.11 L102.16 416.74 L101.1 415.42 L99.99 414.15 L98.84 412.93 L97.64 411.76 L96.4 410.64 L95.12 409.58 L93.8 408.57 L92.44 407.63 L91.04 406.74 L89.61 405.91 L88.15 405.15 L86.66 404.45 L85.14 403.81 L83.6 403.24 L82.03 402.74 L80.44 402.3 L78.84 401.92 L77.21 401.62 L75.57 401.38 L73.92 401.21 L72.26 401.11 L70.6 401.08 L68.93 401.12Z" fill="#267e50"/>
<path d="M124.04 451.31 L124.05 453.26 L123.99 455.22 L123.86 457.18 L123.65 459.14 L123.38 461.1 L123.03 463.05 L122.61 464.98 L122.12 466.91 L121.57 468.81 L120.94 470.7 L120.25 472.57 L119.49 474.4 L118.67 476.21 L117.78 477.99 L116.83 479.73 L115.82 481.44 L114.75 483.1 L113.63 484.72 L112.44 486.3 L111.21 487.83 L109.92 489.3 L108.59 490.73 L107.21 492.09 L105.78 493.4 L104.31 494.65 L102.8 495.84 L101.25 496.97 L99.67 498.03 L98.05 499.02 L96.41 499.94 L94.73 500.79 L93.04 501.57 L91.32 502.28 L89.58 502.91 L87.82 503.47 L86.05 503.95 L84.28 504.36 L82.49 504.69 L80.7 504.94 L78.9 505.11 L66.5 498.41 L68.3 498.24 L70.09 497.99 L71.88 497.66 L73.65 497.25 L75.42 496.77 L77.18 496.21 L78.92 495.58 L80.64 494.87 L82.33 494.09 L84.01 493.24 L85.65 492.32 L87.27 491.33 L88.85 490.27 L90.4 489.14 L91.91 487.95 L93.38 486.7 L94.81 485.39 L96.19 484.03 L97.52 482.6 L98.81 481.13 L100.04 479.6 L101.23 478.02 L102.35 476.4 L103.42 474.74 L104.43 473.03 L105.38 471.29 L106.27 469.51 L107.09 467.7 L107.85 465.87 L108.54 464 L109.17 462.11 L109.72 460.21 L110.21 458.28 L110.63 456.35 L110.98 454.4 L111.25 452.44 L111.46 450.48 L111.59 448.52 L111.65 446.56 L111.64 444.61Z" fill="#805c0e"/>
<path d="M78.9 505.11 L77.19 505.2 L75.48 505.21 L73.77 505.16 L72.08 505.03 L70.39 504.84 L68.72 504.57 L67.07 504.22 L65.43 503.81 L63.82 503.33 L62.22 502.78 L60.66 502.16 L59.12 501.47 L57.61 500.72 L56.13 499.9 L54.69 499.02 L53.28 498.07 L51.92 497.06 L50.59 495.99 L49.31 494.87 L48.07 493.68 L46.88 492.45 L45.73 491.15 L44.64 489.81 L43.6 488.42 L42.61 486.98 L41.68 485.5 L40.8 483.97 L39.98 482.4 L39.21 480.79 L38.51 479.15 L37.87 477.48 L37.29 475.77 L36.77 474.03 L36.32 472.27 L35.93 470.49 L35.6 468.68 L35.34 466.86 L35.14 465.02 L35.01 463.17 L34.95 461.31 L22.55 454.61 L22.61 456.47 L22.74 458.32 L22.94 460.16 L23.2 461.98 L23.53 463.79 L23.92 465.57 L24.37 467.33 L24.89 469.07 L25.47 470.78 L26.11 472.45 L26.81 474.09 L27.58 475.7 L28.4 477.27 L29.28 478.8 L30.21 480.28 L31.2 481.72 L32.24 483.11 L33.33 484.45 L34.48 485.75 L35.67 486.98 L36.91 488.17 L38.19 489.29 L39.52 490.36 L40.88 491.37 L42.29 492.32 L43.73 493.2 L45.21 494.02 L46.72 494.77 L48.26 495.46 L49.82 496.08 L51.42 496.63 L53.03 497.11 L54.67 497.52 L56.32 497.87 L57.99 498.14 L59.68 498.33 L61.37 498.46 L63.08 498.51 L64.79 498.5 L66.5 498.41Z" fill="#823e04"/>
<path d="M34.95 461.31 L34.95 459.33 L35.03 457.34 L35.18 455.36 L35.41 453.37 L35.71 451.4 L36.08 449.43 L36.52 447.47 L37.03 445.53 L37.62 443.6 L38.27 441.7 L39 439.82 L39.79 437.97 L40.64 436.15 L41.57 434.36 L42.55 432.61 L43.59 430.9 L44.7 429.24 L45.86 427.61 L47.08 426.04 L48.35 424.52 L49.68 423.04 L51.05 421.63 L52.47 420.27 L53.94 418.98 L55.44 417.74 L56.99 416.57 L58.58 415.47 L60.2 414.43 L61.85 413.47 L63.53 412.57 L65.24 411.75 L66.97 411 L68.72 410.33 L70.49 409.74 L72.28 409.22 L74.08 408.78 L75.88 408.42 L77.69 408.14 L79.51 407.94 L81.33 407.82 L68.93 401.12 L67.11 401.24 L65.29 401.44 L63.48 401.72 L61.68 402.08 L59.88 402.52 L58.09 403.04 L56.32 403.63 L54.57 404.3 L52.84 405.05 L51.13 405.87 L49.45 406.77 L47.8 407.73 L46.18 408.77 L44.59 409.87 L43.04 411.04 L41.54 412.28 L40.07 413.57 L38.65 414.93 L37.28 416.34 L35.95 417.82 L34.68 419.34 L33.46 420.91 L32.3 422.54 L31.19 424.2 L30.15 425.91 L29.17 427.66 L28.24 429.45 L27.39 431.27 L26.6 433.12 L25.87 435 L25.22 436.9 L24.63 438.83 L24.12 440.77 L23.68 442.73 L23.31 444.7 L23.01 446.67 L22.78 448.66 L22.63 450.64 L22.55 452.63 L22.55 454.61Z" fill="#065678"/>
</g>
<g clip-path="url(#ra2)">
<path d="M97.2 410.38 L100.01 411.59 L102.72 413.01 L105.32 414.65 L107.79 416.49 L110.12 418.53 L112.3 420.75 L114.33 423.15 L116.18 425.71 L117.86 428.42 L119.35 431.26 L120.64 434.23 L121.73 437.31 L122.62 440.48 L123.3 443.72 L123.76 447.03 L124.01 450.39 L124.05 453.78 L123.86 457.18 L123.46 460.57 L122.84 463.95 L122.02 467.29 L120.98 470.58 L119.75 473.8 L118.32 476.93 L116.7 479.97 L114.89 482.89 L112.92 485.68 L110.78 488.33 L108.49 490.83 L106.06 493.15 L103.5 495.3 L100.82 497.26 L98.04 499.02 L95.17 500.58 L92.22 501.92 L89.21 503.04 L86.16 503.93 L83.07 504.59 L79.96 505.02 L76.85 505.21 L73.75 505.16 L70.69 504.87 L67.66 504.35 L64.69 503.6 L61.8 502.62 L58.99 501.41 L56.28 499.99 L53.68 498.35 L51.21 496.51 L48.88 494.47 L46.7 492.25 L44.67 489.85 L42.82 487.29 L41.14 484.58 L39.65 481.74 L38.36 478.77 L37.27 475.69 L36.38 472.52 L35.7 469.28 L35.24 465.97 L34.99 462.61 L34.95 459.22 L35.14 455.82 L35.54 452.43 L36.16 449.05 L36.98 445.71 L38.02 442.42 L39.25 439.2 L40.68 436.07 L42.3 433.03 L44.11 430.11 L46.08 427.32 L48.22 424.67 L50.51 422.17 L52.94 419.85 L55.5 417.7 L58.18 415.74 L60.96 413.98 L63.83 412.42 L66.78 411.08 L69.79 409.96 L72.84 409.07 L75.93 408.41 L79.04 407.98 L82.15 407.79 L85.25 407.84 L88.31 408.13 L91.34 408.65 L94.31 409.4 L97.2 410.38Z" fill="#4cfc9e"/>
<path d="M71.04 438.99 L71.76 436.81 L72.35 434.58 L72.55 432.23 L72.8 429.9 L73.12 427.59 L73.53 425.31 L74.05 423.06 L74.71 420.86 L76.46 421.44 L76.91 422.58 L77.75 423.49 L78.86 424.02 L80.07 424.1 L81.21 423.72 L82.15 422.95 L82.77 421.89 L82.99 420.7 L82.77 419.54 L82.13 418.58 L81.13 417.93 L79.91 417.7 L78.65 417.91 L77.54 418.53 L75.79 417.96 L76.58 416.19 L77.44 414.46 L78.37 412.74 L79.36 411.05 L80.38 409.36 L81.38 407.67 L81.98 405.85 L82.58 404.02 L82.42 378.61 L85.1 378.55 L87.76 378.6 L90.42 378.76 L93.06 379.03 L95.68 379.41 L98.28 379.9 L100.85 380.49 L103.39 381.2 L105.9 382.01 L108.37 382.92 L110.8 383.94 L113.18 385.06 L115.52 386.28 L117.81 387.6 L120.04 389.02 L122.21 390.54 L124.33 392.14 L126.38 393.84 L128.37 395.63 L130.28 397.5 L132.13 399.46 L133.9 401.49 L135.59 403.61 L137.2 405.8 L138.74 408.06 L140.19 410.39 L141.55 412.78 L142.82 415.24 L144.01 417.75 L145.11 420.32 L146.11 422.94 L147.02 425.61 L147.83 428.32 L148.55 431.07 L149.16 433.86 L149.68 436.68 L150.11 439.52 L150.43 442.39 L150.65 445.28 L150.77 448.19 L127.97 452.04 L126.33 451.73 L124.68 451.43 L123.09 450.84 L121.53 450.09 L119.96 449.37 L118.38 448.7 L116.79 448.1 L115.19 447.58 L114.85 449.39 L115.61 450.43 L115.99 451.67 L115.91 452.92 L115.41 453.98 L114.54 454.72 L113.43 455.07 L112.22 454.98 L111.1 454.5 L110.2 453.68 L109.68 452.6 L109.6 451.4 L109.97 450.23 L110.76 449.26 L111.83 448.66 L112.17 446.85 L110.14 446.55 L108.09 446.38 L106.01 446.34 L103.92 446.41 L101.81 446.55 L99.69 446.72 L97.67 446.37 L95.66 445.99 L87.54 452.59 L87.41 452.26 L87.28 451.94 L87.14 451.62 L86.98 451.32 L86.81 451.02 L86.63 450.72 L86.44 450.44 L86.24 450.17 L86.03 449.9 L85.81 449.65 L85.58 449.4 L85.34 449.17 L85.09 448.95 L84.83 448.74 L84.57 448.54 L84.29 448.36 L84.01 448.18 L83.73 448.02 L83.43 447.87 L83.13 447.74 L82.83 447.62 L82.52 447.51 L82.2 447.42 L81.88 447.34 L81.56 447.27 L81.23 447.22 L80.9 447.18 L80.57 447.16 L80.24 447.15 L79.91 447.15 L79.57 447.17 L79.24 447.2 L78.9 447.25 L78.57 447.31 L78.24 447.39 L77.91 447.48 L77.58 447.58 L77.26 447.7 L76.94 447.83 L76.62 447.97Z" fill="#4cfc9e"/>
<path d="M95.66 445.99 L97.67 446.37 L99.69 446.72 L101.81 446.55 L103.92 446.41 L106.01 446.34 L108.09 446.38 L110.14 446.55 L112.17 446.85 L111.83 448.66 L110.76 449.26 L109.97 450.23 L109.6 451.4 L109.68 452.6 L110.2 453.68 L111.1 454.5 L112.22 454.98 L113.43 455.07 L114.54 454.72 L115.41 453.98 L115.91 452.92 L115.99 451.67 L115.61 450.43 L114.85 449.39 L115.19 447.58 L116.79 448.1 L118.38 448.7 L119.96 449.37 L121.53 450.09 L123.09 450.84 L124.68 451.43 L126.33 451.73 L127.97 452.04 L150.77 448.19 L150.79 451.32 L150.69 454.45 L150.48 457.59 L150.15 460.73 L149.7 463.86 L149.15 466.97 L148.48 470.07 L147.7 473.15 L146.81 476.2 L145.8 479.22 L144.7 482.21 L143.48 485.15 L142.16 488.04 L140.74 490.89 L139.23 493.67 L137.61 496.4 L135.9 499.06 L134.1 501.66 L132.21 504.18 L130.24 506.62 L128.18 508.98 L126.04 511.26 L123.83 513.45 L121.55 515.55 L119.2 517.55 L116.78 519.45 L114.3 521.25 L111.77 522.94 L109.19 524.53 L106.55 526 L103.88 527.37 L101.16 528.62 L98.41 529.75 L95.63 530.76 L92.82 531.66 L89.99 532.43 L87.14 533.07 L84.28 533.6 L81.41 534 L78.54 534.27 L77.91 508.98 L78.37 507.19 L78.83 505.39 L79.66 503.7 L80.55 502.01 L81.4 500.32 L82.2 498.61 L82.93 496.89 L83.58 495.14 L81.79 494.69 L80.72 495.39 L79.48 495.68 L78.24 495.53 L77.21 494.95 L76.5 494.04 L76.21 492.9 L76.35 491.7 L76.9 490.6 L77.79 489.76 L78.9 489.31 L80.11 489.31 L81.25 489.76 L82.16 490.6 L82.69 491.71 L84.47 492.17 L84.95 489.99 L85.3 487.78 L85.53 485.55 L85.67 483.28 L85.73 481 L85.75 478.71 L86.19 476.52 L86.74 474.36 L82 465.2 L82.33 465.05 L82.66 464.89 L82.98 464.71 L83.29 464.52 L83.6 464.32 L83.9 464.11 L84.2 463.88 L84.48 463.64 L84.76 463.39 L85.03 463.13 L85.29 462.85 L85.54 462.57 L85.78 462.28 L86.01 461.97 L86.23 461.66 L86.44 461.34 L86.64 461.01 L86.82 460.67 L87 460.33 L87.16 459.98 L87.31 459.63 L87.44 459.26 L87.57 458.9 L87.67 458.53 L87.77 458.16 L87.85 457.78 L87.92 457.41 L87.98 457.03 L88.02 456.65 L88.04 456.27 L88.05 455.89 L88.05 455.51 L88.04 455.13 L88.01 454.76 L87.96 454.39 L87.9 454.02 L87.83 453.65 L87.75 453.29 L87.65 452.94 L87.54 452.59Z" fill="#fbb221"/>
<path d="M86.74 474.36 L86.19 476.52 L85.75 478.71 L85.73 481 L85.67 483.28 L85.53 485.55 L85.3 487.78 L84.95 489.99 L84.47 492.17 L82.69 491.71 L82.16 490.6 L81.25 489.76 L80.11 489.31 L78.9 489.31 L77.79 489.76 L76.9 490.6 L76.35 491.7 L76.21 492.9 L76.5 494.04 L77.21 494.95 L78.24 495.53 L79.48 495.68 L80.72 495.39 L81.79 494.69 L83.58 495.14 L82.93 496.89 L82.2 498.61 L81.4 500.32 L80.55 502.01 L79.66 503.7 L78.83 505.39 L78.37 507.19 L77.91 508.98 L78.54 534.27 L75.8 534.41 L73.07 534.44 L70.34 534.36 L67.63 534.15 L64.93 533.84 L62.26 533.4 L59.61 532.86 L56.99 532.2 L54.4 531.43 L51.86 530.55 L49.35 529.56 L46.89 528.46 L44.47 527.25 L42.11 525.94 L39.8 524.53 L37.55 523.01 L35.37 521.4 L33.24 519.69 L31.19 517.89 L29.21 515.99 L27.3 514.01 L25.47 511.95 L23.72 509.8 L22.06 507.57 L20.48 505.27 L18.98 502.89 L17.58 500.45 L16.26 497.94 L15.04 495.37 L13.92 492.74 L12.89 490.06 L11.96 487.33 L11.13 484.55 L10.41 481.73 L9.78 478.88 L9.26 475.99 L8.84 473.07 L8.53 470.13 L8.32 467.17 L8.22 464.19 L31.01 460.59 L32.65 460.88 L34.28 461.18 L35.87 461.75 L37.42 462.5 L38.98 463.21 L40.55 463.87 L42.13 464.47 L43.73 464.98 L44.06 463.17 L43.29 462.13 L42.92 460.89 L42.98 459.64 L43.48 458.58 L44.35 457.83 L45.46 457.49 L46.66 457.56 L47.79 458.04 L48.69 458.87 L49.22 459.94 L49.31 461.14 L48.93 462.31 L48.15 463.28 L47.08 463.89 L46.75 465.7 L48.77 465.99 L50.81 466.15 L52.87 466.17 L54.96 466.1 L57.06 465.95 L59.16 465.76 L61.17 466.11 L63.18 466.47 L71.4 460.2 L71.51 460.53 L71.63 460.85 L71.77 461.17 L71.91 461.48 L72.07 461.78 L72.24 462.07 L72.42 462.36 L72.61 462.63 L72.81 462.9 L73.02 463.16 L73.24 463.41 L73.47 463.64 L73.71 463.87 L73.96 464.09 L74.21 464.29 L74.47 464.49 L74.74 464.67 L75.02 464.84 L75.31 464.99 L75.6 465.14 L75.89 465.27 L76.19 465.39 L76.5 465.5 L76.81 465.59 L77.13 465.67 L77.44 465.73 L77.77 465.78 L78.09 465.82 L78.42 465.84 L78.74 465.85 L79.07 465.85 L79.4 465.83 L79.73 465.8 L80.06 465.75 L80.39 465.69 L80.72 465.62 L81.04 465.54 L81.36 465.44 L81.68 465.32 L82 465.2Z" fill="#f77807"/>
<path d="M63.18 466.47 L61.17 466.11 L59.16 465.76 L57.06 465.95 L54.96 466.1 L52.87 466.17 L50.81 466.15 L48.77 465.99 L46.75 465.7 L47.08 463.89 L48.15 463.28 L48.93 462.31 L49.31 461.14 L49.22 459.94 L48.69 458.87 L47.79 458.04 L46.66 457.56 L45.46 457.49 L44.35 457.83 L43.48 458.58 L42.98 459.64 L42.92 460.89 L43.29 462.13 L44.06 463.17 L43.73 464.98 L42.13 464.47 L40.55 463.87 L38.98 463.21 L37.42 462.5 L35.87 461.75 L34.28 461.18 L32.65 460.88 L31.01 460.59 L8.22 464.19 L8.22 461.02 L8.35 457.85 L8.59 454.67 L8.95 451.5 L9.43 448.33 L10.02 445.18 L10.73 442.05 L11.56 438.94 L12.49 435.86 L13.54 432.82 L14.7 429.81 L15.96 426.85 L17.33 423.94 L18.8 421.08 L20.38 418.28 L22.05 415.54 L23.82 412.88 L25.68 410.28 L27.63 407.76 L29.66 405.32 L31.78 402.97 L33.98 400.71 L36.25 398.54 L38.6 396.46 L41.01 394.49 L43.49 392.61 L46.02 390.85 L48.62 389.19 L51.26 387.64 L53.95 386.21 L56.68 384.9 L59.45 383.7 L62.26 382.63 L65.09 381.68 L67.95 380.85 L70.82 380.15 L73.71 379.57 L76.61 379.12 L79.52 378.8 L82.42 378.61 L82.58 404.02 L81.98 405.85 L81.38 407.67 L80.38 409.36 L79.36 411.05 L78.37 412.74 L77.44 414.46 L76.58 416.19 L75.79 417.96 L77.54 418.53 L78.65 417.91 L79.91 417.7 L81.13 417.93 L82.13 418.58 L82.77 419.54 L82.99 420.7 L82.77 421.89 L82.15 422.95 L81.21 423.72 L80.07 424.1 L78.86 424.02 L77.75 423.49 L76.91 422.58 L76.46 421.44 L74.71 420.86 L74.05 423.06 L73.53 425.31 L73.12 427.59 L72.8 429.9 L72.55 432.23 L72.35 434.58 L71.76 436.81 L71.04 438.99 L76.62 447.97 L76.31 448.13 L76 448.3 L75.7 448.48 L75.41 448.67 L75.12 448.88 L74.84 449.09 L74.56 449.32 L74.29 449.56 L74.03 449.81 L73.78 450.07 L73.54 450.34 L73.31 450.61 L73.08 450.9 L72.87 451.2 L72.66 451.5 L72.47 451.81 L72.28 452.13 L72.11 452.45 L71.95 452.78 L71.8 453.12 L71.66 453.46 L71.53 453.81 L71.42 454.15 L71.31 454.51 L71.22 454.86 L71.15 455.22 L71.08 455.58 L71.03 455.95 L70.99 456.31 L70.96 456.67 L70.95 457.04 L70.95 457.4 L70.96 457.76 L70.98 458.12 L71.02 458.47 L71.07 458.83 L71.13 459.18 L71.21 459.52 L71.3 459.86 L71.4 460.2Z" fill="#0da8e8"/>
<path d="M112.17 446.85 L111.83 448.66 L110.76 449.26 L109.97 450.23 L109.6 451.4 L109.68 452.6 L110.2 453.68 L111.1 454.5 L112.22 454.98 L113.43 455.07 L114.54 454.72 L115.41 453.98 L115.91 452.92 L115.99 451.67 L115.61 450.43 L114.85 449.39Z" fill="#4cfc9e"/>
<path d="M84.47 492.17 L82.69 491.71 L82.16 490.6 L81.25 489.76 L80.11 489.31 L78.9 489.31 L77.79 489.76 L76.9 490.6 L76.35 491.7 L76.21 492.9 L76.5 494.04 L77.21 494.95 L78.24 495.53 L79.48 495.68 L80.72 495.39 L81.79 494.69Z" fill="#fbb221"/>
<path d="M46.75 465.7 L47.08 463.89 L48.15 463.28 L48.93 462.31 L49.31 461.14 L49.22 459.94 L48.69 458.87 L47.79 458.04 L46.66 457.56 L45.46 457.49 L44.35 457.83 L43.48 458.58 L42.98 459.64 L42.92 460.89 L43.29 462.13 L44.06 463.17Z" fill="#f77807"/>
<path d="M74.71 420.86 L76.46 421.44 L76.91 422.58 L77.75 423.49 L78.86 424.02 L80.07 424.1 L81.21 423.72 L82.15 422.95 L82.77 421.89 L82.99 420.7 L82.77 419.54 L82.13 418.58 L81.13 417.93 L79.91 417.7 L78.65 417.91 L77.54 418.53Z" fill="#0da8e8"/>
<path d="M95.66 445.99 L97.67 446.37 L99.69 446.72 L101.81 446.55 L103.92 446.41 L106.01 446.34 L108.09 446.38 L110.14 446.55 L112.17 446.85 L111.83 448.66 L110.76 449.26 L109.97 450.23 L109.6 451.4 L109.68 452.6 L110.2 453.68 L111.1 454.5 L112.22 454.98 L113.43 455.07 L114.54 454.72 L115.41 453.98 L115.91 452.92 L115.99 451.67 L115.61 450.43 L114.85 449.39 L115.19 447.58 L116.79 448.1 L118.38 448.7 L119.96 449.37 L121.53 450.09 L123.09 450.84 L124.68 451.43 L126.33 451.73 L127.97 452.04" fill="none" stroke="#16302a" stroke-width="0.5" stroke-linejoin="round"/>
<path d="M86.74 474.36 L86.19 476.52 L85.75 478.71 L85.73 481 L85.67 483.28 L85.53 485.55 L85.3 487.78 L84.95 489.99 L84.47 492.17 L82.69 491.71 L82.16 490.6 L81.25 489.76 L80.11 489.31 L78.9 489.31 L77.79 489.76 L76.9 490.6 L76.35 491.7 L76.21 492.9 L76.5 494.04 L77.21 494.95 L78.24 495.53 L79.48 495.68 L80.72 495.39 L81.79 494.69 L83.58 495.14 L82.93 496.89 L82.2 498.61 L81.4 500.32 L80.55 502.01 L79.66 503.7 L78.83 505.39 L78.37 507.19 L77.91 508.98" fill="none" stroke="#16302a" stroke-width="0.5" stroke-linejoin="round"/>
<path d="M63.18 466.47 L61.17 466.11 L59.16 465.76 L57.06 465.95 L54.96 466.1 L52.87 466.17 L50.81 466.15 L48.77 465.99 L46.75 465.7 L47.08 463.89 L48.15 463.28 L48.93 462.31 L49.31 461.14 L49.22 459.94 L48.69 458.87 L47.79 458.04 L46.66 457.56 L45.46 457.49 L44.35 457.83 L43.48 458.58 L42.98 459.64 L42.92 460.89 L43.29 462.13 L44.06 463.17 L43.73 464.98 L42.13 464.47 L40.55 463.87 L38.98 463.21 L37.42 462.5 L35.87 461.75 L34.28 461.18 L32.65 460.88 L31.01 460.59" fill="none" stroke="#16302a" stroke-width="0.5" stroke-linejoin="round"/>
<path d="M71.04 438.99 L71.76 436.81 L72.35 434.58 L72.55 432.23 L72.8 429.9 L73.12 427.59 L73.53 425.31 L74.05 423.06 L74.71 420.86 L76.46 421.44 L76.91 422.58 L77.75 423.49 L78.86 424.02 L80.07 424.1 L81.21 423.72 L82.15 422.95 L82.77 421.89 L82.99 420.7 L82.77 419.54 L82.13 418.58 L81.13 417.93 L79.91 417.7 L78.65 417.91 L77.54 418.53 L75.79 417.96 L76.58 416.19 L77.44 414.46 L78.37 412.74 L79.36 411.05 L80.38 409.36 L81.38 407.67 L81.98 405.85 L82.58 404.02" fill="none" stroke="#16302a" stroke-width="0.5" stroke-linejoin="round"/>
</g>
<path d="M97.2 410.38 L100.01 411.59 L102.72 413.01 L105.32 414.65 L107.79 416.49 L110.12 418.53 L112.3 420.75 L114.33 423.15 L116.18 425.71 L117.86 428.42 L119.35 431.26 L120.64 434.23 L121.73 437.31 L122.62 440.48 L123.3 443.72 L123.76 447.03 L124.01 450.39 L124.05 453.78 L123.86 457.18 L123.46 460.57 L122.84 463.95 L122.02 467.29 L120.98 470.58 L119.75 473.8 L118.32 476.93 L116.7 479.97 L114.89 482.89 L112.92 485.68 L110.78 488.33 L108.49 490.83 L106.06 493.15 L103.5 495.3 L100.82 497.26 L98.04 499.02 L95.17 500.58 L92.22 501.92 L89.21 503.04 L86.16 503.93 L83.07 504.59 L79.96 505.02 L76.85 505.21 L73.75 505.16 L70.69 504.87 L67.66 504.35 L64.69 503.6 L61.8 502.62 L58.99 501.41 L56.28 499.99 L53.68 498.35 L51.21 496.51 L48.88 494.47 L46.7 492.25 L44.67 489.85 L42.82 487.29 L41.14 484.58 L39.65 481.74 L38.36 478.77 L37.27 475.69 L36.38 472.52 L35.7 469.28 L35.24 465.97 L34.99 462.61 L34.95 459.22 L35.14 455.82 L35.54 452.43 L36.16 449.05 L36.98 445.71 L38.02 442.42 L39.25 439.2 L40.68 436.07 L42.3 433.03 L44.11 430.11 L46.08 427.32 L48.22 424.67 L50.51 422.17 L52.94 419.85 L55.5 417.7 L58.18 415.74 L60.96 413.98 L63.83 412.42 L66.78 411.08 L69.79 409.96 L72.84 409.07 L75.93 408.41 L79.04 407.98 L82.15 407.79 L85.25 407.84 L88.31 408.13 L91.34 408.65 L94.31 409.4 L97.2 410.38Z" fill="none" stroke="#20302c" stroke-width="0.15" opacity="0.6"/>
<g clip-path="url(#rh2)">
<path d="M88 434.36 L89.35 434.94 L90.65 435.63 L91.89 436.41 L93.08 437.3 L94.2 438.27 L95.25 439.34 L96.22 440.49 L97.11 441.72 L97.91 443.02 L98.63 444.38 L99.25 445.81 L99.77 447.29 L100.2 448.81 L100.52 450.37 L100.75 451.96 L100.87 453.57 L100.88 455.19 L100.79 456.82 L100.6 458.46 L100.31 460.08 L99.91 461.68 L99.41 463.26 L98.82 464.8 L98.13 466.31 L97.35 467.76 L96.49 469.17 L95.54 470.51 L94.52 471.78 L93.42 472.98 L92.25 474.09 L91.02 475.13 L89.74 476.07 L88.4 476.91 L87.02 477.66 L85.61 478.3 L84.16 478.84 L82.69 479.27 L81.21 479.58 L79.72 479.79 L78.23 479.88 L76.74 479.86 L75.27 479.72 L73.82 479.47 L72.39 479.11 L71 478.64 L69.65 478.06 L68.35 477.37 L67.11 476.59 L65.92 475.7 L64.8 474.73 L63.75 473.66 L62.78 472.51 L61.89 471.28 L61.09 469.98 L60.37 468.62 L59.75 467.19 L59.23 465.71 L58.8 464.19 L58.48 462.63 L58.25 461.04 L58.13 459.43 L58.12 457.81 L58.21 456.18 L58.4 454.54 L58.69 452.92 L59.09 451.32 L59.59 449.74 L60.18 448.2 L60.87 446.69 L61.65 445.24 L62.51 443.83 L63.46 442.49 L64.48 441.22 L65.58 440.02 L66.75 438.91 L67.98 437.87 L69.26 436.93 L70.6 436.09 L71.98 435.34 L73.39 434.7 L74.84 434.16 L76.31 433.73 L77.79 433.42 L79.28 433.21 L80.77 433.12 L82.26 433.14 L83.73 433.28 L85.18 433.53 L86.61 433.89 L88 434.36Z" fill="#ffffff"/>
<path d="M72.3 435.19 L73.09 434.83 L73.89 434.5 L74.7 434.21 L75.52 433.95 L76.34 433.72 L77.17 433.53 L78.01 433.38 L78.84 433.26 L79.68 433.18 L80.51 433.13 L81.35 433.12 L82.18 433.14 L83.01 433.2 L83.83 433.29 L84.64 433.42 L85.45 433.59 L86.25 433.79 L87.04 434.02 L87.81 434.29 L88.58 434.6 L89.33 434.93 L90.06 435.3 L90.78 435.71 L91.48 436.14 L92.17 436.61 L92.83 437.1 L93.47 437.63 L94.1 438.18 L94.7 438.76 L95.27 439.37 L95.83 440.01 L96.35 440.67 L96.86 441.35 L97.33 442.06 L97.78 442.79 L98.2 443.54 L98.59 444.31 L98.95 445.1 L99.29 445.91 L99.59 446.73 L87.19 440.03 L86.89 439.21 L86.55 438.4 L86.19 437.61 L85.8 436.84 L85.38 436.09 L84.93 435.36 L84.46 434.65 L83.95 433.97 L83.43 433.31 L82.87 432.67 L82.3 432.06 L81.7 431.48 L81.07 430.93 L80.43 430.4 L79.77 429.91 L79.08 429.44 L78.38 429.01 L77.66 428.6 L76.93 428.23 L76.18 427.9 L75.41 427.59 L74.64 427.32 L73.85 427.09 L73.05 426.89 L72.24 426.72 L71.43 426.59 L70.61 426.5 L69.78 426.44 L68.95 426.42 L68.11 426.43 L67.28 426.48 L66.44 426.56 L65.61 426.68 L64.77 426.83 L63.94 427.02 L63.12 427.25 L62.3 427.51 L61.49 427.8 L60.69 428.13 L59.9 428.49Z" fill="#267e50"/>
<path d="M99.59 446.73 L99.87 447.6 L100.12 448.49 L100.33 449.38 L100.51 450.3 L100.66 451.22 L100.77 452.14 L100.84 453.08 L100.88 454.02 L100.89 454.97 L100.86 455.92 L100.79 456.87 L100.69 457.82 L100.55 458.76 L100.38 459.71 L100.18 460.65 L99.94 461.58 L99.66 462.5 L99.36 463.41 L99.02 464.31 L98.65 465.2 L98.24 466.08 L97.81 466.93 L97.35 467.78 L96.85 468.6 L96.33 469.4 L95.78 470.18 L95.21 470.94 L94.6 471.68 L93.98 472.39 L93.32 473.07 L92.65 473.73 L91.96 474.35 L91.24 474.95 L90.5 475.52 L89.75 476.06 L88.98 476.56 L88.19 477.03 L87.39 477.47 L86.58 477.87 L85.75 478.24 L73.35 471.54 L74.18 471.17 L74.99 470.77 L75.79 470.33 L76.58 469.86 L77.35 469.36 L78.1 468.82 L78.84 468.25 L79.56 467.65 L80.25 467.03 L80.92 466.37 L81.58 465.69 L82.2 464.98 L82.81 464.24 L83.38 463.48 L83.93 462.7 L84.45 461.9 L84.95 461.08 L85.41 460.23 L85.84 459.38 L86.25 458.5 L86.62 457.61 L86.96 456.71 L87.26 455.8 L87.54 454.88 L87.78 453.95 L87.98 453.01 L88.15 452.06 L88.29 451.12 L88.39 450.17 L88.46 449.22 L88.49 448.27 L88.48 447.32 L88.44 446.38 L88.37 445.44 L88.26 444.52 L88.11 443.6 L87.93 442.68 L87.72 441.79 L87.47 440.9 L87.19 440.03Z" fill="#805c0e"/>
<path d="M85.75 478.24 L84.96 478.56 L84.16 478.84 L83.35 479.09 L82.54 479.3 L81.72 479.49 L80.9 479.64 L80.08 479.75 L79.25 479.83 L78.43 479.87 L77.61 479.88 L76.79 479.86 L75.97 479.8 L75.16 479.71 L74.36 479.58 L73.56 479.41 L72.78 479.22 L72 478.99 L71.23 478.72 L70.48 478.43 L69.74 478.1 L69.01 477.74 L68.3 477.34 L67.61 476.92 L66.93 476.47 L66.28 475.98 L65.64 475.47 L65.02 474.93 L64.43 474.36 L63.85 473.77 L63.3 473.15 L62.78 472.5 L62.28 471.83 L61.8 471.14 L61.35 470.43 L60.93 469.69 L60.53 468.94 L60.17 468.17 L59.83 467.38 L59.52 466.57 L59.24 465.75 L46.84 459.05 L47.12 459.87 L47.43 460.68 L47.77 461.47 L48.13 462.24 L48.53 462.99 L48.95 463.73 L49.4 464.44 L49.88 465.13 L50.38 465.8 L50.9 466.45 L51.45 467.07 L52.03 467.66 L52.62 468.23 L53.24 468.77 L53.88 469.28 L54.53 469.77 L55.21 470.22 L55.9 470.64 L56.61 471.04 L57.34 471.4 L58.08 471.73 L58.83 472.02 L59.6 472.29 L60.38 472.52 L61.16 472.71 L61.96 472.88 L62.76 473.01 L63.57 473.1 L64.39 473.16 L65.21 473.18 L66.03 473.17 L66.85 473.13 L67.68 473.05 L68.5 472.94 L69.32 472.79 L70.14 472.6 L70.95 472.39 L71.76 472.14 L72.56 471.86 L73.35 471.54Z" fill="#823e04"/>
<path d="M59.24 465.75 L58.99 464.91 L58.77 464.06 L58.58 463.19 L58.42 462.32 L58.3 461.43 L58.2 460.54 L58.14 459.65 L58.11 458.74 L58.12 457.84 L58.15 456.93 L58.22 456.02 L58.32 455.12 L58.45 454.21 L58.62 453.31 L58.81 452.41 L59.04 451.52 L59.29 450.64 L59.58 449.76 L59.9 448.9 L60.25 448.05 L60.62 447.21 L61.03 446.38 L61.46 445.57 L61.92 444.77 L62.4 444 L62.92 443.24 L63.45 442.5 L64.01 441.78 L64.6 441.09 L65.21 440.42 L65.83 439.77 L66.48 439.15 L67.15 438.55 L67.84 437.99 L68.54 437.44 L69.27 436.93 L70 436.45 L70.75 436 L71.52 435.58 L72.3 435.19 L59.9 428.49 L59.12 428.88 L58.35 429.3 L57.6 429.75 L56.87 430.23 L56.14 430.74 L55.44 431.29 L54.75 431.85 L54.08 432.45 L53.43 433.07 L52.81 433.72 L52.2 434.39 L51.61 435.08 L51.05 435.8 L50.52 436.54 L50 437.3 L49.52 438.07 L49.06 438.87 L48.63 439.68 L48.22 440.51 L47.85 441.35 L47.5 442.2 L47.18 443.06 L46.89 443.94 L46.64 444.82 L46.41 445.71 L46.22 446.61 L46.05 447.51 L45.92 448.42 L45.82 449.32 L45.75 450.23 L45.72 451.14 L45.71 452.04 L45.74 452.95 L45.8 453.84 L45.9 454.73 L46.02 455.62 L46.18 456.49 L46.37 457.36 L46.59 458.21 L46.84 459.05Z" fill="#065678"/>
<path d="M75.6 427.66 L76.95 428.24 L78.25 428.93 L79.49 429.71 L80.68 430.6 L81.8 431.57 L82.85 432.64 L83.82 433.79 L84.71 435.02 L85.51 436.32 L86.23 437.68 L86.85 439.11 L87.37 440.59 L87.8 442.11 L88.12 443.67 L88.35 445.26 L88.47 446.87 L88.48 448.49 L88.39 450.12 L88.2 451.76 L87.91 453.38 L87.51 454.98 L87.01 456.56 L86.42 458.1 L85.73 459.61 L84.95 461.06 L84.09 462.47 L83.14 463.81 L82.12 465.08 L81.02 466.28 L79.85 467.39 L78.62 468.43 L77.34 469.37 L76 470.21 L74.62 470.96 L73.21 471.6 L71.76 472.14 L70.29 472.57 L68.81 472.88 L67.32 473.09 L65.83 473.18 L64.34 473.16 L62.87 473.02 L61.42 472.77 L59.99 472.41 L58.6 471.94 L57.25 471.36 L55.95 470.67 L54.71 469.89 L53.52 469 L52.4 468.03 L51.35 466.96 L50.38 465.81 L49.49 464.58 L48.69 463.28 L47.97 461.92 L47.35 460.49 L46.83 459.01 L46.4 457.49 L46.08 455.93 L45.85 454.34 L45.73 452.73 L45.72 451.11 L45.81 449.48 L46 447.84 L46.29 446.22 L46.69 444.62 L47.19 443.04 L47.78 441.5 L48.47 439.99 L49.25 438.54 L50.11 437.13 L51.06 435.79 L52.08 434.52 L53.18 433.32 L54.35 432.21 L55.58 431.17 L56.86 430.23 L58.2 429.39 L59.58 428.64 L60.99 428 L62.44 427.46 L63.91 427.03 L65.39 426.72 L66.88 426.51 L68.37 426.42 L69.86 426.44 L71.33 426.58 L72.78 426.83 L74.21 427.19 L75.6 427.66Z" fill="#ffffff"/>
</g>
<text x="465" y="377.1" text-anchor="middle" font-size="13" fill="#757575" textLength="201" lengthAdjust="spacingAndGlyphs">3D Circle Puzzle Diagram– 5 Periods</text>
<text x="465" y="386.6" text-anchor="middle" font-size="4.9" fill="#b0b0b0">Enter your subhead line here</text>
<clipPath id="ra3"><path clip-rule="evenodd" d="M406 410.38 L408.81 411.59 L411.52 413.01 L414.12 414.65 L416.59 416.49 L418.92 418.53 L421.1 420.75 L423.13 423.15 L424.98 425.71 L426.66 428.42 L428.15 431.26 L429.44 434.23 L430.53 437.31 L431.42 440.48 L432.1 443.72 L432.56 447.03 L432.81 450.39 L432.85 453.78 L432.66 457.18 L432.26 460.57 L431.64 463.95 L430.82 467.29 L429.78 470.58 L428.55 473.8 L427.12 476.93 L425.5 479.97 L423.69 482.89 L421.72 485.68 L419.58 488.33 L417.29 490.83 L414.86 493.15 L412.3 495.3 L409.62 497.26 L406.84 499.02 L403.97 500.58 L401.02 501.92 L398.01 503.04 L394.96 503.93 L391.87 504.59 L388.76 505.02 L385.65 505.21 L382.55 505.16 L379.49 504.87 L376.46 504.35 L373.49 503.6 L370.6 502.62 L367.79 501.41 L365.08 499.99 L362.48 498.35 L360.01 496.51 L357.68 494.47 L355.5 492.25 L353.47 489.85 L351.62 487.29 L349.94 484.58 L348.45 481.74 L347.16 478.77 L346.07 475.69 L345.18 472.52 L344.5 469.28 L344.04 465.97 L343.79 462.61 L343.75 459.22 L343.94 455.82 L344.34 452.43 L344.96 449.05 L345.78 445.71 L346.82 442.42 L348.05 439.2 L349.48 436.07 L351.1 433.03 L352.91 430.11 L354.88 427.32 L357.02 424.67 L359.31 422.17 L361.74 419.85 L364.3 417.7 L366.98 415.74 L369.76 413.98 L372.63 412.42 L375.58 411.08 L378.59 409.96 L381.64 409.07 L384.73 408.41 L387.84 407.98 L390.95 407.79 L394.05 407.84 L397.11 408.13 L400.14 408.65 L403.11 409.4 L406 410.38Z M396.8 434.36 L398.15 434.94 L399.45 435.63 L400.69 436.41 L401.88 437.3 L403 438.27 L404.05 439.34 L405.02 440.49 L405.91 441.72 L406.71 443.02 L407.43 444.38 L408.05 445.81 L408.57 447.29 L409 448.81 L409.32 450.37 L409.55 451.96 L409.67 453.57 L409.68 455.19 L409.59 456.82 L409.4 458.46 L409.11 460.08 L408.71 461.68 L408.21 463.26 L407.62 464.8 L406.93 466.31 L406.15 467.76 L405.29 469.17 L404.34 470.51 L403.32 471.78 L402.22 472.98 L401.05 474.09 L399.82 475.13 L398.54 476.07 L397.2 476.91 L395.82 477.66 L394.41 478.3 L392.96 478.84 L391.49 479.27 L390.01 479.58 L388.52 479.79 L387.03 479.88 L385.54 479.86 L384.07 479.72 L382.62 479.47 L381.19 479.11 L379.8 478.64 L378.45 478.06 L377.15 477.37 L375.91 476.59 L374.72 475.7 L373.6 474.73 L372.55 473.66 L371.58 472.51 L370.69 471.28 L369.89 469.98 L369.17 468.62 L368.55 467.19 L368.03 465.71 L367.6 464.19 L367.28 462.63 L367.05 461.04 L366.93 459.43 L366.92 457.81 L367.01 456.18 L367.2 454.54 L367.49 452.92 L367.89 451.32 L368.39 449.74 L368.98 448.2 L369.67 446.69 L370.45 445.24 L371.31 443.83 L372.26 442.49 L373.28 441.22 L374.38 440.02 L375.55 438.91 L376.78 437.87 L378.06 436.93 L379.4 436.09 L380.78 435.34 L382.19 434.7 L383.64 434.16 L385.11 433.73 L386.59 433.42 L388.08 433.21 L389.57 433.12 L391.06 433.14 L392.53 433.28 L393.98 433.53 L395.41 433.89 L396.8 434.36Z"/></clipPath>
<clipPath id="rh3"><path d="M396.8 434.36 L398.15 434.94 L399.45 435.63 L400.69 436.41 L401.88 437.3 L403 438.27 L404.05 439.34 L405.02 440.49 L405.91 441.72 L406.71 443.02 L407.43 444.38 L408.05 445.81 L408.57 447.29 L409 448.81 L409.32 450.37 L409.55 451.96 L409.67 453.57 L409.68 455.19 L409.59 456.82 L409.4 458.46 L409.11 460.08 L408.71 461.68 L408.21 463.26 L407.62 464.8 L406.93 466.31 L406.15 467.76 L405.29 469.17 L404.34 470.51 L403.32 471.78 L402.22 472.98 L401.05 474.09 L399.82 475.13 L398.54 476.07 L397.2 476.91 L395.82 477.66 L394.41 478.3 L392.96 478.84 L391.49 479.27 L390.01 479.58 L388.52 479.79 L387.03 479.88 L385.54 479.86 L384.07 479.72 L382.62 479.47 L381.19 479.11 L379.8 478.64 L378.45 478.06 L377.15 477.37 L375.91 476.59 L374.72 475.7 L373.6 474.73 L372.55 473.66 L371.58 472.51 L370.69 471.28 L369.89 469.98 L369.17 468.62 L368.55 467.19 L368.03 465.71 L367.6 464.19 L367.28 462.63 L367.05 461.04 L366.93 459.43 L366.92 457.81 L367.01 456.18 L367.2 454.54 L367.49 452.92 L367.89 451.32 L368.39 449.74 L368.98 448.2 L369.67 446.69 L370.45 445.24 L371.31 443.83 L372.26 442.49 L373.28 441.22 L374.38 440.02 L375.55 438.91 L376.78 437.87 L378.06 436.93 L379.4 436.09 L380.78 435.34 L382.19 434.7 L383.64 434.16 L385.11 433.73 L386.59 433.42 L388.08 433.21 L389.57 433.12 L391.06 433.14 L392.53 433.28 L393.98 433.53 L395.41 433.89 L396.8 434.36Z"/></clipPath>
<g stroke="#1b2b2b" stroke-width="0.3" stroke-linejoin="round">
<path d="M370.5 413.55 L371.79 412.85 L373.1 412.19 L374.43 411.57 L375.77 411 L377.12 410.48 L378.48 410 L379.85 409.56 L381.23 409.18 L382.62 408.84 L384.01 408.54 L385.41 408.3 L386.81 408.1 L388.21 407.95 L389.61 407.85 L391.01 407.79 L392.41 407.79 L393.81 407.83 L395.19 407.92 L396.58 408.06 L397.95 408.24 L399.31 408.48 L400.66 408.76 L402.01 409.09 L403.33 409.47 L404.64 409.89 L405.94 410.36 L407.22 410.87 L408.48 411.43 L409.72 412.03 L410.94 412.68 L412.13 413.37 L413.3 414.11 L414.45 414.88 L415.57 415.7 L416.67 416.56 L417.74 417.46 L418.77 418.39 L419.78 419.37 L420.76 420.38 L421.7 421.42 L409.3 414.72 L408.36 413.68 L407.38 412.67 L406.37 411.69 L405.34 410.76 L404.27 409.86 L403.17 409 L402.05 408.18 L400.9 407.41 L399.73 406.67 L398.54 405.98 L397.32 405.33 L396.08 404.73 L394.82 404.17 L393.54 403.66 L392.24 403.19 L390.93 402.77 L389.61 402.39 L388.26 402.06 L386.91 401.78 L385.55 401.54 L384.18 401.36 L382.79 401.22 L381.41 401.13 L380.01 401.09 L378.61 401.09 L377.21 401.15 L375.81 401.25 L374.41 401.4 L373.01 401.6 L371.61 401.84 L370.22 402.14 L368.83 402.48 L367.45 402.86 L366.08 403.3 L364.72 403.78 L363.37 404.3 L362.03 404.87 L360.7 405.49 L359.39 406.15 L358.1 406.85Z" fill="#267e50"/>
<path d="M421.7 421.42 L422.57 422.46 L423.41 423.52 L424.22 424.61 L425 425.73 L425.74 426.88 L426.45 428.06 L427.13 429.26 L427.77 430.49 L428.37 431.74 L428.94 433.01 L429.47 434.3 L429.96 435.62 L430.42 436.95 L430.84 438.3 L431.22 439.67 L431.56 441.05 L431.86 442.44 L432.12 443.85 L432.34 445.27 L432.53 446.7 L432.67 448.14 L432.77 449.59 L432.84 451.04 L432.86 452.5 L432.84 453.96 L432.78 455.43 L432.68 456.89 L432.55 458.35 L432.37 459.82 L432.15 461.28 L431.89 462.73 L431.59 464.18 L431.26 465.63 L430.88 467.06 L430.47 468.48 L430.02 469.9 L429.53 471.3 L429 472.69 L428.44 474.06 L427.84 475.42 L415.44 468.72 L416.04 467.36 L416.6 465.99 L417.13 464.6 L417.62 463.2 L418.07 461.78 L418.48 460.36 L418.86 458.93 L419.19 457.48 L419.49 456.03 L419.75 454.58 L419.97 453.12 L420.15 451.65 L420.28 450.19 L420.38 448.73 L420.44 447.26 L420.46 445.8 L420.44 444.34 L420.37 442.89 L420.27 441.44 L420.13 440 L419.94 438.57 L419.72 437.15 L419.46 435.74 L419.16 434.35 L418.82 432.97 L418.44 431.6 L418.02 430.25 L417.56 428.92 L417.07 427.6 L416.54 426.31 L415.97 425.04 L415.37 423.79 L414.73 422.56 L414.05 421.36 L413.34 420.18 L412.6 419.03 L411.82 417.91 L411.01 416.82 L410.17 415.76 L409.3 414.72Z" fill="#805c0e"/>
<path d="M427.84 475.42 L427.15 476.86 L426.43 478.28 L425.66 479.67 L424.86 481.04 L424.02 482.39 L423.14 483.71 L422.23 484.99 L421.28 486.25 L420.29 487.48 L419.28 488.68 L418.23 489.84 L417.15 490.97 L416.04 492.06 L414.9 493.12 L413.73 494.14 L412.54 495.12 L411.32 496.05 L410.07 496.95 L408.81 497.81 L407.52 498.62 L406.22 499.39 L404.89 500.11 L403.55 500.79 L402.19 501.42 L400.81 502 L399.43 502.54 L398.03 503.03 L396.62 503.47 L395.21 503.86 L393.78 504.21 L392.35 504.5 L390.92 504.74 L389.48 504.94 L388.05 505.08 L386.61 505.17 L385.17 505.21 L383.74 505.21 L382.31 505.15 L380.89 505.03 L379.48 504.87 L367.08 498.17 L368.49 498.33 L369.91 498.45 L371.34 498.51 L372.77 498.51 L374.21 498.47 L375.65 498.38 L377.08 498.24 L378.52 498.04 L379.95 497.8 L381.38 497.51 L382.81 497.16 L384.22 496.77 L385.63 496.33 L387.03 495.84 L388.41 495.3 L389.79 494.72 L391.15 494.09 L392.49 493.41 L393.82 492.69 L395.12 491.92 L396.41 491.11 L397.67 490.25 L398.92 489.35 L400.14 488.42 L401.33 487.44 L402.5 486.42 L403.64 485.36 L404.75 484.27 L405.83 483.14 L406.88 481.98 L407.89 480.78 L408.88 479.55 L409.83 478.29 L410.74 477.01 L411.62 475.69 L412.46 474.34 L413.26 472.97 L414.03 471.58 L414.75 470.16 L415.44 468.72Z" fill="#823e04"/>
<path d="M379.48 504.87 L378.11 504.67 L376.75 504.42 L375.41 504.12 L374.07 503.77 L372.75 503.37 L371.45 502.93 L370.16 502.45 L368.89 501.92 L367.64 501.34 L366.41 500.72 L365.2 500.06 L364.02 499.35 L362.86 498.6 L361.72 497.81 L360.61 496.98 L359.53 496.11 L358.47 495.2 L357.45 494.25 L356.45 493.26 L355.49 492.24 L354.56 491.18 L353.66 490.09 L352.8 488.96 L351.97 487.81 L351.18 486.62 L350.42 485.4 L349.7 484.16 L349.02 482.88 L348.38 481.58 L347.78 480.26 L347.22 478.91 L346.69 477.54 L346.21 476.15 L345.77 474.74 L345.38 473.31 L345.02 471.87 L344.71 470.41 L344.44 468.93 L344.22 467.45 L344.03 465.95 L331.63 459.25 L331.82 460.75 L332.04 462.23 L332.31 463.71 L332.62 465.17 L332.98 466.61 L333.37 468.04 L333.81 469.45 L334.29 470.84 L334.82 472.21 L335.38 473.56 L335.98 474.88 L336.62 476.18 L337.3 477.46 L338.02 478.7 L338.78 479.92 L339.57 481.11 L340.4 482.26 L341.26 483.39 L342.16 484.48 L343.09 485.54 L344.05 486.56 L345.05 487.55 L346.07 488.5 L347.13 489.41 L348.21 490.28 L349.32 491.11 L350.46 491.9 L351.62 492.65 L352.8 493.36 L354.01 494.02 L355.24 494.64 L356.49 495.22 L357.76 495.75 L359.05 496.23 L360.35 496.67 L361.67 497.07 L363.01 497.42 L364.35 497.72 L365.71 497.97 L367.08 498.17Z" fill="#76222c"/>
<path d="M344.03 465.95 L343.89 464.42 L343.8 462.89 L343.75 461.35 L343.75 459.8 L343.79 458.25 L343.87 456.7 L344 455.14 L344.18 453.59 L344.4 452.05 L344.66 450.5 L344.97 448.97 L345.33 447.44 L345.73 445.92 L346.17 444.41 L346.65 442.91 L347.17 441.43 L347.74 439.96 L348.35 438.51 L349 437.07 L349.69 435.66 L350.42 434.27 L351.18 432.9 L351.99 431.55 L352.83 430.23 L353.71 428.94 L354.62 427.67 L355.56 426.44 L356.54 425.23 L357.56 424.06 L358.6 422.91 L359.67 421.81 L360.77 420.74 L361.9 419.7 L363.06 418.7 L364.24 417.74 L365.45 416.82 L366.68 415.94 L367.93 415.1 L369.21 414.3 L370.5 413.55 L358.1 406.85 L356.81 407.6 L355.53 408.4 L354.28 409.24 L353.05 410.12 L351.84 411.04 L350.66 412 L349.5 413 L348.37 414.04 L347.27 415.11 L346.2 416.21 L345.16 417.36 L344.14 418.53 L343.16 419.74 L342.22 420.97 L341.31 422.24 L340.43 423.53 L339.59 424.85 L338.78 426.2 L338.02 427.57 L337.29 428.96 L336.6 430.37 L335.95 431.81 L335.34 433.26 L334.77 434.73 L334.25 436.21 L333.77 437.71 L333.33 439.22 L332.93 440.74 L332.57 442.27 L332.26 443.8 L332 445.35 L331.78 446.89 L331.6 448.44 L331.47 450 L331.39 451.55 L331.35 453.1 L331.35 454.65 L331.4 456.19 L331.49 457.72 L331.63 459.25Z" fill="#065678"/>
</g>
<g clip-path="url(#ra3)">
<path d="M406 410.38 L408.81 411.59 L411.52 413.01 L414.12 414.65 L416.59 416.49 L418.92 418.53 L421.1 420.75 L423.13 423.15 L424.98 425.71 L426.66 428.42 L428.15 431.26 L429.44 434.23 L430.53 437.31 L431.42 440.48 L432.1 443.72 L432.56 447.03 L432.81 450.39 L432.85 453.78 L432.66 457.18 L432.26 460.57 L431.64 463.95 L430.82 467.29 L429.78 470.58 L428.55 473.8 L427.12 476.93 L425.5 479.97 L423.69 482.89 L421.72 485.68 L419.58 488.33 L417.29 490.83 L414.86 493.15 L412.3 495.3 L409.62 497.26 L406.84 499.02 L403.97 500.58 L401.02 501.92 L398.01 503.04 L394.96 503.93 L391.87 504.59 L388.76 505.02 L385.65 505.21 L382.55 505.16 L379.49 504.87 L376.46 504.35 L373.49 503.6 L370.6 502.62 L367.79 501.41 L365.08 499.99 L362.48 498.35 L360.01 496.51 L357.68 494.47 L355.5 492.25 L353.47 489.85 L351.62 487.29 L349.94 484.58 L348.45 481.74 L347.16 478.77 L346.07 475.69 L345.18 472.52 L344.5 469.28 L344.04 465.97 L343.79 462.61 L343.75 459.22 L343.94 455.82 L344.34 452.43 L344.96 449.05 L345.78 445.71 L346.82 442.42 L348.05 439.2 L349.48 436.07 L351.1 433.03 L352.91 430.11 L354.88 427.32 L357.02 424.67 L359.31 422.17 L361.74 419.85 L364.3 417.7 L366.98 415.74 L369.76 413.98 L372.63 412.42 L375.58 411.08 L378.59 409.96 L381.64 409.07 L384.73 408.41 L387.84 407.98 L390.95 407.79 L394.05 407.84 L397.11 408.13 L400.14 408.65 L403.11 409.4 L406 410.38Z" fill="#4cfc9e"/>
<path d="M377.21 442.15 L376.75 440.19 L376.28 438.23 L375.29 436.39 L374.34 434.54 L373.44 432.68 L372.64 430.79 L371.95 428.88 L371.39 426.94 L373.18 426.52 L374.18 427.26 L375.39 427.58 L376.62 427.46 L377.68 426.9 L378.44 425.98 L378.82 424.84 L378.79 423.61 L378.35 422.48 L377.57 421.61 L376.52 421.12 L375.34 421.09 L374.18 421.52 L373.2 422.36 L372.58 423.48 L370.78 423.9 L370.57 422.13 L370.45 420.35 L370.4 418.54 L370.41 416.73 L370.45 414.9 L370.39 413.1 L369.99 411.38 L369.58 409.66 L359.82 387.78 L361.89 386.66 L363.98 385.6 L366.1 384.62 L368.25 383.71 L370.41 382.87 L372.59 382.1 L374.78 381.4 L376.99 380.78 L379.21 380.24 L381.44 379.77 L383.68 379.38 L385.92 379.06 L388.16 378.82 L390.4 378.65 L392.64 378.57 L394.88 378.56 L397.11 378.63 L399.33 378.77 L401.54 378.99 L403.74 379.29 L405.92 379.67 L408.08 380.12 L410.23 380.64 L412.35 381.25 L414.45 381.92 L416.52 382.67 L418.57 383.49 L420.59 384.39 L422.57 385.36 L424.52 386.39 L426.43 387.5 L428.31 388.67 L430.14 389.92 L431.94 391.22 L433.69 392.6 L435.4 394.03 L437.06 395.53 L438.67 397.09 L440.23 398.7 L441.74 400.38 L425 419.16 L423.51 420.18 L422.02 421.2 L420.32 421.92 L418.57 422.56 L416.84 423.23 L415.15 423.95 L413.5 424.74 L411.9 425.6 L412.94 427.12 L414.21 427.3 L415.34 427.9 L416.16 428.83 L416.56 429.94 L416.49 431.1 L415.96 432.15 L415.07 432.96 L413.94 433.44 L412.73 433.5 L411.6 433.12 L410.7 432.33 L410.14 431.23 L410 429.99 L410.33 428.79 L409.29 427.27 L407.65 428.52 L406.08 429.88 L404.58 431.32 L403.13 432.85 L401.72 434.43 L400.33 436.04 L398.65 437.22 L396.96 438.39 L393.08 448.35 L392.87 448.22 L392.65 448.09 L392.43 447.97 L392.21 447.86 L391.98 447.76 L391.75 447.66 L391.51 447.58 L391.28 447.5 L391.04 447.43 L390.8 447.36 L390.55 447.31 L390.31 447.26 L390.06 447.22 L389.81 447.19 L389.56 447.17 L389.3 447.15 L389.05 447.15 L388.8 447.15 L388.54 447.16 L388.29 447.18 L388.04 447.2 L387.78 447.24 L387.53 447.28 L387.28 447.33 L387.02 447.39 L386.77 447.46 L386.52 447.54 L386.28 447.62 L386.03 447.71 L385.78 447.81 L385.54 447.92 L385.3 448.03 L385.07 448.15 L384.83 448.28 L384.6 448.42 L384.37 448.56 L384.15 448.71 L383.93 448.87 L383.71 449.03 L383.5 449.2Z" fill="#4cfc9e"/>
<path d="M396.96 438.39 L398.65 437.22 L400.33 436.04 L401.72 434.43 L403.13 432.85 L404.58 431.32 L406.08 429.88 L407.65 428.52 L409.29 427.27 L410.33 428.79 L410 429.99 L410.14 431.23 L410.7 432.33 L411.6 433.12 L412.73 433.5 L413.94 433.44 L415.07 432.96 L415.96 432.15 L416.49 431.1 L416.56 429.94 L416.16 428.83 L415.34 427.9 L414.21 427.3 L412.94 427.12 L411.9 425.6 L413.5 424.74 L415.15 423.95 L416.84 423.23 L418.57 422.56 L420.32 421.92 L422.02 421.2 L423.51 420.18 L425 419.16 L441.74 400.38 L443.14 402.03 L444.48 403.73 L445.78 405.48 L447.02 407.27 L448.21 409.11 L449.34 410.99 L450.42 412.92 L451.45 414.88 L452.41 416.88 L453.32 418.91 L454.17 420.98 L454.96 423.09 L455.69 425.22 L456.36 427.38 L456.97 429.57 L457.51 431.78 L458 434.01 L458.42 436.27 L458.77 438.54 L459.06 440.83 L459.29 443.13 L459.46 445.44 L459.56 447.77 L459.59 450.1 L459.57 452.44 L459.47 454.78 L459.31 457.12 L459.09 459.47 L458.81 461.81 L458.46 464.14 L458.05 466.47 L457.57 468.79 L457.03 471.1 L456.43 473.4 L455.77 475.68 L455.04 477.94 L454.26 480.18 L453.42 482.4 L452.52 484.6 L451.56 486.77 L430.82 478.08 L429.53 476.93 L428.24 475.78 L427.17 474.38 L426.18 472.88 L425.17 471.41 L424.13 469.99 L423.03 468.62 L421.87 467.31 L420.65 468.69 L420.77 469.97 L420.45 471.22 L419.75 472.24 L418.77 472.89 L417.63 473.09 L416.49 472.82 L415.49 472.15 L414.76 471.16 L414.41 470.01 L414.51 468.82 L415.05 467.76 L415.98 466.95 L417.16 466.52 L418.4 466.55 L419.63 465.17 L418.08 463.93 L416.44 462.79 L414.73 461.74 L412.95 460.75 L411.13 459.82 L409.3 458.9 L407.82 457.58 L406.34 456.26 L396.71 457.47 L396.75 457.2 L396.79 456.93 L396.81 456.66 L396.84 456.39 L396.85 456.11 L396.85 455.84 L396.85 455.57 L396.85 455.3 L396.83 455.03 L396.81 454.77 L396.78 454.5 L396.74 454.23 L396.7 453.97 L396.64 453.71 L396.59 453.45 L396.52 453.2 L396.45 452.94 L396.37 452.69 L396.28 452.45 L396.19 452.21 L396.09 451.97 L395.99 451.73 L395.87 451.5 L395.76 451.27 L395.63 451.05 L395.5 450.83 L395.36 450.62 L395.22 450.41 L395.07 450.2 L394.91 450.01 L394.75 449.81 L394.59 449.63 L394.42 449.44 L394.24 449.27 L394.06 449.1 L393.87 448.94 L393.68 448.78 L393.49 448.63 L393.29 448.49 L393.08 448.35Z" fill="#fbb221"/>
<path d="M406.34 456.26 L407.82 457.58 L409.3 458.9 L411.13 459.82 L412.95 460.75 L414.73 461.74 L416.44 462.79 L418.08 463.93 L419.63 465.17 L418.4 466.55 L417.16 466.52 L415.98 466.95 L415.05 467.76 L414.51 468.82 L414.41 470.01 L414.76 471.16 L415.49 472.15 L416.49 472.82 L417.63 473.09 L418.77 472.89 L419.75 472.24 L420.45 471.22 L420.77 469.97 L420.65 468.69 L421.87 467.31 L423.03 468.62 L424.13 469.99 L425.17 471.41 L426.18 472.88 L427.17 474.38 L428.24 475.78 L429.53 476.93 L430.82 478.08 L451.56 486.77 L450.46 489.08 L449.3 491.34 L448.08 493.58 L446.8 495.77 L445.45 497.92 L444.05 500.03 L442.58 502.09 L441.07 504.11 L439.49 506.07 L437.86 507.99 L436.18 509.85 L434.46 511.66 L432.68 513.4 L430.86 515.09 L428.99 516.72 L427.08 518.29 L425.13 519.79 L423.14 521.22 L421.11 522.59 L419.06 523.89 L416.96 525.12 L414.84 526.27 L412.69 527.36 L410.52 528.37 L408.32 529.31 L406.11 530.17 L403.87 530.95 L401.62 531.66 L399.35 532.28 L397.07 532.83 L394.79 533.3 L392.49 533.69 L390.19 534 L387.89 534.23 L385.59 534.38 L383.3 534.44 L381 534.43 L378.72 534.33 L376.45 534.16 L374.18 533.9 L378.23 508.67 L378.8 506.94 L379.37 505.2 L380.31 503.59 L381.32 501.99 L382.29 500.39 L383.2 498.76 L384.04 497.12 L384.79 495.44 L383.04 494.86 L381.93 495.49 L380.66 495.7 L379.45 495.47 L378.45 494.82 L377.81 493.86 L377.59 492.7 L377.81 491.51 L378.41 490.45 L379.33 489.67 L380.46 489.29 L381.66 489.36 L382.77 489.9 L383.63 490.8 L384.1 491.95 L385.85 492.53 L386.4 490.52 L386.83 488.48 L387.16 486.39 L387.39 484.28 L387.56 482.15 L387.7 480.01 L388.31 478.03 L388.96 476.05 L388.06 465.84 L388.37 465.82 L388.67 465.78 L388.97 465.74 L389.27 465.68 L389.57 465.61 L389.87 465.53 L390.17 465.43 L390.46 465.33 L390.75 465.22 L391.04 465.09 L391.32 464.96 L391.61 464.81 L391.88 464.65 L392.15 464.48 L392.42 464.31 L392.68 464.12 L392.94 463.92 L393.19 463.72 L393.44 463.5 L393.68 463.28 L393.91 463.05 L394.13 462.81 L394.35 462.56 L394.56 462.3 L394.76 462.04 L394.96 461.77 L395.14 461.5 L395.32 461.21 L395.49 460.92 L395.65 460.63 L395.8 460.33 L395.94 460.03 L396.07 459.72 L396.19 459.41 L396.3 459.09 L396.41 458.77 L396.5 458.45 L396.58 458.13 L396.65 457.8 L396.71 457.47Z" fill="#f77807"/>
<path d="M388.96 476.05 L388.31 478.03 L387.7 480.01 L387.56 482.15 L387.39 484.28 L387.16 486.39 L386.83 488.48 L386.4 490.52 L385.85 492.53 L384.1 491.95 L383.63 490.8 L382.77 489.9 L381.66 489.36 L380.46 489.29 L379.33 489.67 L378.41 490.45 L377.81 491.51 L377.59 492.7 L377.81 493.86 L378.45 494.82 L379.45 495.47 L380.66 495.7 L381.93 495.49 L383.04 494.86 L384.79 495.44 L384.04 497.12 L383.2 498.76 L382.29 500.39 L381.32 501.99 L380.31 503.59 L379.37 505.2 L378.8 506.94 L378.23 508.67 L374.18 533.9 L372 533.57 L369.82 533.16 L367.67 532.68 L365.54 532.13 L363.42 531.5 L361.34 530.8 L359.28 530.02 L357.25 529.17 L355.25 528.25 L353.28 527.25 L351.34 526.19 L349.45 525.06 L347.59 523.86 L345.77 522.6 L343.99 521.27 L342.26 519.87 L340.57 518.41 L338.93 516.9 L337.34 515.32 L335.8 513.68 L334.31 511.99 L332.88 510.24 L331.49 508.44 L330.17 506.59 L328.9 504.69 L327.69 502.74 L326.54 500.75 L325.45 498.71 L324.43 496.63 L323.46 494.51 L322.56 492.36 L321.73 490.16 L320.96 487.94 L320.26 485.68 L319.62 483.4 L319.06 481.09 L318.56 478.75 L318.13 476.39 L317.77 474.01 L317.47 471.62 L340.04 465.82 L341.74 465.88 L343.44 465.93 L345.13 466.3 L346.82 466.82 L348.51 467.31 L350.2 467.73 L351.9 468.09 L353.59 468.35 L353.65 466.5 L352.74 465.6 L352.18 464.43 L352.06 463.2 L352.4 462.07 L353.15 461.19 L354.19 460.67 L355.4 460.55 L356.59 460.84 L357.6 461.5 L358.28 462.47 L358.54 463.64 L358.35 464.85 L357.72 465.94 L356.75 466.72 L356.69 468.56 L358.64 468.51 L360.6 468.34 L362.57 468.05 L364.54 467.66 L366.51 467.21 L368.47 466.75 L370.43 466.81 L372.38 466.88 L380.33 460.6 L380.43 460.84 L380.53 461.08 L380.64 461.32 L380.75 461.55 L380.87 461.78 L381 462 L381.13 462.22 L381.27 462.44 L381.42 462.65 L381.57 462.85 L381.73 463.05 L381.89 463.24 L382.06 463.43 L382.23 463.61 L382.41 463.78 L382.6 463.95 L382.79 464.11 L382.98 464.27 L383.18 464.42 L383.38 464.56 L383.59 464.7 L383.8 464.82 L384.01 464.95 L384.23 465.06 L384.45 465.17 L384.68 465.27 L384.91 465.36 L385.14 465.44 L385.37 465.52 L385.61 465.59 L385.85 465.65 L386.09 465.7 L386.33 465.75 L386.57 465.78 L386.82 465.81 L387.07 465.83 L387.32 465.85 L387.56 465.85 L387.81 465.85 L388.06 465.84Z" fill="#e44856"/>
<path d="M372.38 466.88 L370.43 466.81 L368.47 466.75 L366.51 467.21 L364.54 467.66 L362.57 468.05 L360.6 468.34 L358.64 468.51 L356.69 468.56 L356.75 466.72 L357.72 465.94 L358.35 464.85 L358.54 463.64 L358.28 462.47 L357.6 461.5 L356.59 460.84 L355.4 460.55 L354.19 460.67 L353.15 461.19 L352.4 462.07 L352.06 463.2 L352.18 464.43 L352.74 465.6 L353.65 466.5 L353.59 468.35 L351.9 468.09 L350.2 467.73 L348.51 467.31 L346.82 466.82 L345.13 466.3 L343.44 465.93 L341.74 465.88 L340.04 465.82 L317.47 471.62 L317.25 469.18 L317.1 466.72 L317.02 464.25 L317.01 461.78 L317.08 459.3 L317.21 456.81 L317.42 454.33 L317.71 451.85 L318.06 449.37 L318.48 446.9 L318.98 444.45 L319.54 442 L320.18 439.57 L320.89 437.15 L321.66 434.75 L322.5 432.38 L323.41 430.03 L324.38 427.71 L325.42 425.42 L326.52 423.16 L327.69 420.93 L328.91 418.74 L330.2 416.58 L331.55 414.47 L332.95 412.4 L334.41 410.38 L335.92 408.4 L337.49 406.47 L339.11 404.59 L340.78 402.76 L342.49 400.99 L344.26 399.28 L346.07 397.62 L347.92 396.02 L349.81 394.49 L351.74 393.01 L353.71 391.6 L355.71 390.26 L357.75 388.99 L359.82 387.78 L369.58 409.66 L369.99 411.38 L370.39 413.1 L370.45 414.9 L370.41 416.73 L370.4 418.54 L370.45 420.35 L370.57 422.13 L370.78 423.9 L372.58 423.48 L373.2 422.36 L374.18 421.52 L375.34 421.09 L376.52 421.12 L377.57 421.61 L378.35 422.48 L378.79 423.61 L378.82 424.84 L378.44 425.98 L377.68 426.9 L376.62 427.46 L375.39 427.58 L374.18 427.26 L373.18 426.52 L371.39 426.94 L371.95 428.88 L372.64 430.79 L373.44 432.68 L374.34 434.54 L375.29 436.39 L376.28 438.23 L376.75 440.19 L377.21 442.15 L383.5 449.2 L383.26 449.41 L383.03 449.62 L382.81 449.83 L382.59 450.06 L382.38 450.29 L382.18 450.53 L381.98 450.77 L381.79 451.03 L381.6 451.29 L381.43 451.55 L381.26 451.82 L381.1 452.1 L380.95 452.38 L380.81 452.66 L380.67 452.95 L380.54 453.25 L380.43 453.54 L380.32 453.84 L380.22 454.15 L380.13 454.45 L380.05 454.76 L379.98 455.07 L379.92 455.39 L379.86 455.7 L379.82 456.01 L379.79 456.33 L379.76 456.64 L379.75 456.96 L379.74 457.27 L379.75 457.59 L379.77 457.9 L379.79 458.21 L379.83 458.52 L379.87 458.83 L379.92 459.13 L379.99 459.43 L380.06 459.73 L380.14 460.02 L380.23 460.31 L380.33 460.6Z" fill="#0da8e8"/>
<path d="M409.29 427.27 L410.33 428.79 L410 429.99 L410.14 431.23 L410.7 432.33 L411.6 433.12 L412.73 433.5 L413.94 433.44 L415.07 432.96 L415.96 432.15 L416.49 431.1 L416.56 429.94 L416.16 428.83 L415.34 427.9 L414.21 427.3 L412.94 427.12Z" fill="#4cfc9e"/>
<path d="M419.63 465.17 L418.4 466.55 L417.16 466.52 L415.98 466.95 L415.05 467.76 L414.51 468.82 L414.41 470.01 L414.76 471.16 L415.49 472.15 L416.49 472.82 L417.63 473.09 L418.77 472.89 L419.75 472.24 L420.45 471.22 L420.77 469.97 L420.65 468.69Z" fill="#fbb221"/>
<path d="M385.85 492.53 L384.1 491.95 L383.63 490.8 L382.77 489.9 L381.66 489.36 L380.46 489.29 L379.33 489.67 L378.41 490.45 L377.81 491.51 L377.59 492.7 L377.81 493.86 L378.45 494.82 L379.45 495.47 L380.66 495.7 L381.93 495.49 L383.04 494.86Z" fill="#f77807"/>
<path d="M356.69 468.56 L356.75 466.72 L357.72 465.94 L358.35 464.85 L358.54 463.64 L358.28 462.47 L357.6 461.5 L356.59 460.84 L355.4 460.55 L354.19 460.67 L353.15 461.19 L352.4 462.07 L352.06 463.2 L352.18 464.43 L352.74 465.6 L353.65 466.5Z" fill="#e44856"/>
<path d="M371.39 426.94 L373.18 426.52 L374.18 427.26 L375.39 427.58 L376.62 427.46 L377.68 426.9 L378.44 425.98 L378.82 424.84 L378.79 423.61 L378.35 422.48 L377.57 421.61 L376.52 421.12 L375.34 421.09 L374.18 421.52 L373.2 422.36 L372.58 423.48Z" fill="#0da8e8"/>
<path d="M396.96 438.39 L398.65 437.22 L400.33 436.04 L401.72 434.43 L403.13 432.85 L404.58 431.32 L406.08 429.88 L407.65 428.52 L409.29 427.27 L410.33 428.79 L410 429.99 L410.14 431.23 L410.7 432.33 L411.6 433.12 L412.73 433.5 L413.94 433.44 L415.07 432.96 L415.96 432.15 L416.49 431.1 L416.56 429.94 L416.16 428.83 L415.34 427.9 L414.21 427.3 L412.94 427.12 L411.9 425.6 L413.5 424.74 L415.15 423.95 L416.84 423.23 L418.57 422.56 L420.32 421.92 L422.02 421.2 L423.51 420.18 L425 419.16" fill="none" stroke="#16302a" stroke-width="0.5" stroke-linejoin="round"/>
<path d="M406.34 456.26 L407.82 457.58 L409.3 458.9 L411.13 459.82 L412.95 460.75 L414.73 461.74 L416.44 462.79 L418.08 463.93 L419.63 465.17 L418.4 466.55 L417.16 466.52 L415.98 466.95 L415.05 467.76 L414.51 468.82 L414.41 470.01 L414.76 471.16 L415.49 472.15 L416.49 472.82 L417.63 473.09 L418.77 472.89 L419.75 472.24 L420.45 471.22 L420.77 469.97 L420.65 468.69 L421.87 467.31 L423.03 468.62 L424.13 469.99 L425.17 471.41 L426.18 472.88 L427.17 474.38 L428.24 475.78 L429.53 476.93 L430.82 478.08" fill="none" stroke="#16302a" stroke-width="0.5" stroke-linejoin="round"/>
<path d="M388.96 476.05 L388.31 478.03 L387.7 480.01 L387.56 482.15 L387.39 484.28 L387.16 486.39 L386.83 488.48 L386.4 490.52 L385.85 492.53 L384.1 491.95 L383.63 490.8 L382.77 489.9 L381.66 489.36 L380.46 489.29 L379.33 489.67 L378.41 490.45 L377.81 491.51 L377.59 492.7 L377.81 493.86 L378.45 494.82 L379.45 495.47 L380.66 495.7 L381.93 495.49 L383.04 494.86 L384.79 495.44 L384.04 497.12 L383.2 498.76 L382.29 500.39 L381.32 501.99 L380.31 503.59 L379.37 505.2 L378.8 506.94 L378.23 508.67" fill="none" stroke="#16302a" stroke-width="0.5" stroke-linejoin="round"/>
<path d="M372.38 466.88 L370.43 466.81 L368.47 466.75 L366.51 467.21 L364.54 467.66 L362.57 468.05 L360.6 468.34 L358.64 468.51 L356.69 468.56 L356.75 466.72 L357.72 465.94 L358.35 464.85 L358.54 463.64 L358.28 462.47 L357.6 461.5 L356.59 460.84 L355.4 460.55 L354.19 460.67 L353.15 461.19 L352.4 462.07 L352.06 463.2 L352.18 464.43 L352.74 465.6 L353.65 466.5 L353.59 468.35 L351.9 468.09 L350.2 467.73 L348.51 467.31 L346.82 466.82 L345.13 466.3 L343.44 465.93 L341.74 465.88 L340.04 465.82" fill="none" stroke="#16302a" stroke-width="0.5" stroke-linejoin="round"/>
<path d="M377.21 442.15 L376.75 440.19 L376.28 438.23 L375.29 436.39 L374.34 434.54 L373.44 432.68 L372.64 430.79 L371.95 428.88 L371.39 426.94 L373.18 426.52 L374.18 427.26 L375.39 427.58 L376.62 427.46 L377.68 426.9 L378.44 425.98 L378.82 424.84 L378.79 423.61 L378.35 422.48 L377.57 421.61 L376.52 421.12 L375.34 421.09 L374.18 421.52 L373.2 422.36 L372.58 423.48 L370.78 423.9 L370.57 422.13 L370.45 420.35 L370.4 418.54 L370.41 416.73 L370.45 414.9 L370.39 413.1 L369.99 411.38 L369.58 409.66" fill="none" stroke="#16302a" stroke-width="0.5" stroke-linejoin="round"/>
</g>
<path d="M406 410.38 L408.81 411.59 L411.52 413.01 L414.12 414.65 L416.59 416.49 L418.92 418.53 L421.1 420.75 L423.13 423.15 L424.98 425.71 L426.66 428.42 L428.15 431.26 L429.44 434.23 L430.53 437.31 L431.42 440.48 L432.1 443.72 L432.56 447.03 L432.81 450.39 L432.85 453.78 L432.66 457.18 L432.26 460.57 L431.64 463.95 L430.82 467.29 L429.78 470.58 L428.55 473.8 L427.12 476.93 L425.5 479.97 L423.69 482.89 L421.72 485.68 L419.58 488.33 L417.29 490.83 L414.86 493.15 L412.3 495.3 L409.62 497.26 L406.84 499.02 L403.97 500.58 L401.02 501.92 L398.01 503.04 L394.96 503.93 L391.87 504.59 L388.76 505.02 L385.65 505.21 L382.55 505.16 L379.49 504.87 L376.46 504.35 L373.49 503.6 L370.6 502.62 L367.79 501.41 L365.08 499.99 L362.48 498.35 L360.01 496.51 L357.68 494.47 L355.5 492.25 L353.47 489.85 L351.62 487.29 L349.94 484.58 L348.45 481.74 L347.16 478.77 L346.07 475.69 L345.18 472.52 L344.5 469.28 L344.04 465.97 L343.79 462.61 L343.75 459.22 L343.94 455.82 L344.34 452.43 L344.96 449.05 L345.78 445.71 L346.82 442.42 L348.05 439.2 L349.48 436.07 L351.1 433.03 L352.91 430.11 L354.88 427.32 L357.02 424.67 L359.31 422.17 L361.74 419.85 L364.3 417.7 L366.98 415.74 L369.76 413.98 L372.63 412.42 L375.58 411.08 L378.59 409.96 L381.64 409.07 L384.73 408.41 L387.84 407.98 L390.95 407.79 L394.05 407.84 L397.11 408.13 L400.14 408.65 L403.11 409.4 L406 410.38Z" fill="none" stroke="#20302c" stroke-width="0.15" opacity="0.6"/>
<g clip-path="url(#rh3)">
<path d="M396.8 434.36 L398.15 434.94 L399.45 435.63 L400.69 436.41 L401.88 437.3 L403 438.27 L404.05 439.34 L405.02 440.49 L405.91 441.72 L406.71 443.02 L407.43 444.38 L408.05 445.81 L408.57 447.29 L409 448.81 L409.32 450.37 L409.55 451.96 L409.67 453.57 L409.68 455.19 L409.59 456.82 L409.4 458.46 L409.11 460.08 L408.71 461.68 L408.21 463.26 L407.62 464.8 L406.93 466.31 L406.15 467.76 L405.29 469.17 L404.34 470.51 L403.32 471.78 L402.22 472.98 L401.05 474.09 L399.82 475.13 L398.54 476.07 L397.2 476.91 L395.82 477.66 L394.41 478.3 L392.96 478.84 L391.49 479.27 L390.01 479.58 L388.52 479.79 L387.03 479.88 L385.54 479.86 L384.07 479.72 L382.62 479.47 L381.19 479.11 L379.8 478.64 L378.45 478.06 L377.15 477.37 L375.91 476.59 L374.72 475.7 L373.6 474.73 L372.55 473.66 L371.58 472.51 L370.69 471.28 L369.89 469.98 L369.17 468.62 L368.55 467.19 L368.03 465.71 L367.6 464.19 L367.28 462.63 L367.05 461.04 L366.93 459.43 L366.92 457.81 L367.01 456.18 L367.2 454.54 L367.49 452.92 L367.89 451.32 L368.39 449.74 L368.98 448.2 L369.67 446.69 L370.45 445.24 L371.31 443.83 L372.26 442.49 L373.28 441.22 L374.38 440.02 L375.55 438.91 L376.78 437.87 L378.06 436.93 L379.4 436.09 L380.78 435.34 L382.19 434.7 L383.64 434.16 L385.11 433.73 L386.59 433.42 L388.08 433.21 L389.57 433.12 L391.06 433.14 L392.53 433.28 L393.98 433.53 L395.41 433.89 L396.8 434.36Z" fill="#ffffff"/>
<path d="M376.3 438.26 L376.83 437.83 L377.37 437.42 L377.92 437.03 L378.49 436.65 L379.05 436.3 L379.63 435.95 L380.22 435.63 L380.81 435.33 L381.41 435.04 L382.01 434.77 L382.62 434.53 L383.24 434.3 L383.86 434.09 L384.48 433.9 L385.11 433.73 L385.74 433.58 L386.37 433.46 L387 433.35 L387.64 433.26 L388.28 433.19 L388.91 433.15 L389.55 433.12 L390.18 433.12 L390.81 433.13 L391.44 433.17 L392.07 433.23 L392.69 433.3 L393.31 433.4 L393.93 433.52 L394.54 433.66 L395.15 433.82 L395.74 433.99 L396.34 434.19 L396.92 434.41 L397.5 434.65 L398.07 434.91 L398.63 435.18 L399.18 435.48 L399.73 435.79 L400.26 436.12 L387.86 429.42 L387.33 429.09 L386.78 428.78 L386.23 428.48 L385.67 428.21 L385.1 427.95 L384.52 427.71 L383.94 427.49 L383.34 427.29 L382.75 427.12 L382.14 426.96 L381.53 426.82 L380.91 426.7 L380.29 426.6 L379.67 426.53 L379.04 426.47 L378.41 426.43 L377.78 426.42 L377.15 426.42 L376.51 426.45 L375.88 426.49 L375.24 426.56 L374.6 426.65 L373.97 426.76 L373.34 426.88 L372.71 427.03 L372.08 427.2 L371.46 427.39 L370.84 427.6 L370.22 427.83 L369.61 428.07 L369.01 428.34 L368.41 428.63 L367.82 428.93 L367.23 429.25 L366.65 429.6 L366.09 429.95 L365.52 430.33 L364.97 430.72 L364.43 431.13 L363.9 431.56Z" fill="#267e50"/>
<path d="M400.26 436.12 L400.77 436.47 L401.27 436.82 L401.76 437.2 L402.23 437.59 L402.7 438 L403.15 438.42 L403.59 438.86 L404.02 439.31 L404.44 439.78 L404.84 440.26 L405.22 440.76 L405.6 441.27 L405.95 441.79 L406.3 442.32 L406.63 442.87 L406.94 443.43 L407.23 444 L407.52 444.57 L407.78 445.16 L408.03 445.76 L408.26 446.37 L408.47 446.99 L408.67 447.61 L408.85 448.24 L409.02 448.88 L409.16 449.53 L409.29 450.18 L409.4 450.84 L409.49 451.5 L409.57 452.16 L409.62 452.83 L409.66 453.5 L409.68 454.18 L409.69 454.86 L409.67 455.53 L409.64 456.21 L409.59 456.89 L409.52 457.57 L409.43 458.25 L409.33 458.93 L396.93 452.23 L397.03 451.55 L397.12 450.87 L397.19 450.19 L397.24 449.51 L397.27 448.83 L397.29 448.16 L397.28 447.48 L397.26 446.8 L397.22 446.13 L397.17 445.46 L397.09 444.8 L397 444.14 L396.89 443.48 L396.76 442.83 L396.62 442.18 L396.45 441.54 L396.27 440.91 L396.07 440.29 L395.86 439.67 L395.63 439.06 L395.38 438.46 L395.12 437.87 L394.83 437.3 L394.54 436.73 L394.23 436.17 L393.9 435.62 L393.55 435.09 L393.2 434.57 L392.82 434.06 L392.44 433.56 L392.04 433.08 L391.62 432.61 L391.19 432.16 L390.75 431.72 L390.3 431.3 L389.83 430.89 L389.36 430.5 L388.87 430.12 L388.37 429.77 L387.86 429.42Z" fill="#805c0e"/>
<path d="M409.33 458.93 L409.17 459.75 L409 460.56 L408.79 461.37 L408.56 462.18 L408.31 462.98 L408.03 463.77 L407.72 464.55 L407.4 465.32 L407.04 466.08 L406.67 466.83 L406.27 467.56 L405.85 468.28 L405.4 468.99 L404.94 469.68 L404.45 470.35 L403.95 471.01 L403.42 471.65 L402.88 472.27 L402.32 472.87 L401.74 473.45 L401.14 474.01 L400.53 474.55 L399.9 475.06 L399.26 475.55 L398.6 476.02 L397.94 476.46 L397.25 476.88 L396.56 477.27 L395.86 477.64 L395.15 477.98 L394.43 478.29 L393.7 478.58 L392.97 478.84 L392.22 479.07 L391.48 479.27 L390.73 479.44 L389.98 479.59 L389.22 479.71 L388.47 479.79 L387.71 479.85 L375.31 473.15 L376.07 473.09 L376.82 473.01 L377.58 472.89 L378.33 472.74 L379.08 472.57 L379.82 472.37 L380.57 472.14 L381.3 471.88 L382.03 471.59 L382.75 471.28 L383.46 470.94 L384.16 470.57 L384.85 470.18 L385.54 469.76 L386.2 469.32 L386.86 468.85 L387.5 468.36 L388.13 467.85 L388.74 467.31 L389.34 466.75 L389.92 466.17 L390.48 465.57 L391.02 464.95 L391.55 464.31 L392.05 463.65 L392.54 462.98 L393 462.29 L393.45 461.58 L393.87 460.86 L394.27 460.13 L394.64 459.38 L395 458.62 L395.32 457.85 L395.63 457.07 L395.91 456.28 L396.16 455.48 L396.39 454.67 L396.6 453.86 L396.77 453.05 L396.93 452.23Z" fill="#823e04"/>
<path d="M387.71 479.85 L387.09 479.88 L386.46 479.88 L385.84 479.87 L385.22 479.84 L384.6 479.78 L383.99 479.71 L383.38 479.62 L382.77 479.5 L382.17 479.37 L381.57 479.22 L380.98 479.04 L380.39 478.85 L379.82 478.64 L379.25 478.41 L378.68 478.16 L378.13 477.9 L377.58 477.61 L377.05 477.31 L376.52 476.99 L376 476.65 L375.49 476.3 L375 475.92 L374.51 475.53 L374.04 475.13 L373.58 474.71 L373.13 474.27 L372.7 473.82 L372.28 473.35 L371.87 472.87 L371.48 472.37 L371.1 471.86 L370.73 471.34 L370.38 470.81 L370.05 470.26 L369.73 469.7 L369.43 469.13 L369.14 468.55 L368.87 467.96 L368.62 467.36 L368.38 466.75 L355.98 460.05 L356.22 460.66 L356.47 461.26 L356.74 461.85 L357.03 462.43 L357.33 463 L357.65 463.56 L357.98 464.11 L358.33 464.64 L358.7 465.16 L359.08 465.67 L359.47 466.17 L359.88 466.65 L360.3 467.12 L360.73 467.57 L361.18 468.01 L361.64 468.43 L362.11 468.83 L362.6 469.22 L363.09 469.6 L363.6 469.95 L364.12 470.29 L364.65 470.61 L365.18 470.91 L365.73 471.2 L366.28 471.46 L366.85 471.71 L367.42 471.94 L367.99 472.15 L368.58 472.34 L369.17 472.52 L369.77 472.67 L370.37 472.8 L370.98 472.92 L371.59 473.01 L372.2 473.08 L372.82 473.14 L373.44 473.17 L374.06 473.18 L374.69 473.18 L375.31 473.15Z" fill="#76222c"/>
<path d="M368.38 466.75 L368.13 466.03 L367.9 465.31 L367.7 464.57 L367.52 463.83 L367.36 463.08 L367.22 462.32 L367.11 461.55 L367.03 460.78 L366.96 460 L366.93 459.22 L366.91 458.43 L366.92 457.65 L366.96 456.86 L367.02 456.07 L367.1 455.28 L367.21 454.5 L367.34 453.71 L367.49 452.93 L367.67 452.16 L367.87 451.38 L368.1 450.62 L368.35 449.86 L368.62 449.11 L368.91 448.36 L369.23 447.63 L369.56 446.91 L369.92 446.19 L370.3 445.49 L370.7 444.8 L371.12 444.13 L371.56 443.46 L372.02 442.82 L372.49 442.19 L372.99 441.57 L373.5 440.97 L374.03 440.39 L374.57 439.83 L375.14 439.29 L375.71 438.76 L376.3 438.26 L363.9 431.56 L363.31 432.06 L362.74 432.59 L362.17 433.13 L361.63 433.69 L361.1 434.27 L360.59 434.87 L360.09 435.49 L359.62 436.12 L359.16 436.76 L358.72 437.43 L358.3 438.1 L357.9 438.79 L357.52 439.49 L357.16 440.21 L356.83 440.93 L356.51 441.66 L356.22 442.41 L355.95 443.16 L355.7 443.92 L355.47 444.68 L355.27 445.46 L355.09 446.23 L354.94 447.01 L354.81 447.8 L354.7 448.58 L354.62 449.37 L354.56 450.16 L354.52 450.95 L354.51 451.73 L354.53 452.52 L354.56 453.3 L354.63 454.08 L354.71 454.85 L354.82 455.62 L354.96 456.38 L355.12 457.13 L355.3 457.87 L355.5 458.61 L355.73 459.33 L355.98 460.05Z" fill="#065678"/>
<path d="M384.4 427.66 L385.75 428.24 L387.05 428.93 L388.29 429.71 L389.48 430.6 L390.6 431.57 L391.65 432.64 L392.62 433.79 L393.51 435.02 L394.31 436.32 L395.03 437.68 L395.65 439.11 L396.17 440.59 L396.6 442.11 L396.92 443.67 L397.15 445.26 L397.27 446.87 L397.28 448.49 L397.19 450.12 L397 451.76 L396.71 453.38 L396.31 454.98 L395.81 456.56 L395.22 458.1 L394.53 459.61 L393.75 461.06 L392.89 462.47 L391.94 463.81 L390.92 465.08 L389.82 466.28 L388.65 467.39 L387.42 468.43 L386.14 469.37 L384.8 470.21 L383.42 470.96 L382.01 471.6 L380.56 472.14 L379.09 472.57 L377.61 472.88 L376.12 473.09 L374.63 473.18 L373.14 473.16 L371.67 473.02 L370.22 472.77 L368.79 472.41 L367.4 471.94 L366.05 471.36 L364.75 470.67 L363.51 469.89 L362.32 469 L361.2 468.03 L360.15 466.96 L359.18 465.81 L358.29 464.58 L357.49 463.28 L356.77 461.92 L356.15 460.49 L355.63 459.01 L355.2 457.49 L354.88 455.93 L354.65 454.34 L354.53 452.73 L354.52 451.11 L354.61 449.48 L354.8 447.84 L355.09 446.22 L355.49 444.62 L355.99 443.04 L356.58 441.5 L357.27 439.99 L358.05 438.54 L358.91 437.13 L359.86 435.79 L360.88 434.52 L361.98 433.32 L363.15 432.21 L364.38 431.17 L365.66 430.23 L367 429.39 L368.38 428.64 L369.79 428 L371.24 427.46 L372.71 427.03 L374.19 426.72 L375.68 426.51 L377.17 426.42 L378.66 426.44 L380.13 426.58 L381.58 426.83 L383.01 427.19 L384.4 427.66Z" fill="#ffffff"/>
</g>
<text x="181" y="408" text-anchor="start" font-size="4.9" fill="#0da8e8" stroke="#0da8e8" stroke-width="0.05" textLength="33.1" lengthAdjust="spacingAndGlyphs">Insert title here</text>
<text x="181" y="414.8" text-anchor="start" font-size="4.4" fill="#606060" textLength="109.3" lengthAdjust="spacingAndGlyphs">Sed ut perspiciatis unde omnis iste natus error voluptatem .</text>
<path d="M166.75 406.4 Q165.65 408.1 165.25 409.3 Q165.65 410.5 166.75 412.2" fill="none" stroke="#6e6e6e" stroke-width="0.55" stroke-linecap="round"/>
<text x="181" y="436.9" text-anchor="start" font-size="4.9" fill="#4cfc9e" stroke="#4cfc9e" stroke-width="0.05" textLength="33.1" lengthAdjust="spacingAndGlyphs">Insert title here</text>
<text x="181" y="443.7" text-anchor="start" font-size="4.4" fill="#606060" textLength="109.3" lengthAdjust="spacingAndGlyphs">Sed ut perspiciatis unde omnis iste natus error voluptatem .</text>
<path d="M166.75 435.3 Q165.65 437 165.25 438.2 Q165.65 439.4 166.75 441.1" fill="none" stroke="#6e6e6e" stroke-width="0.55" stroke-linecap="round"/>
<text x="181" y="465.8" text-anchor="start" font-size="4.9" fill="#fbb221" stroke="#fbb221" stroke-width="0.05" textLength="33.1" lengthAdjust="spacingAndGlyphs">Insert title here</text>
<text x="181" y="472.6" text-anchor="start" font-size="4.4" fill="#606060" textLength="109.3" lengthAdjust="spacingAndGlyphs">Sed ut perspiciatis unde omnis iste natus error voluptatem .</text>
<path d="M166.75 464.2 Q165.65 465.9 165.25 467.1 Q165.65 468.3 166.75 470" fill="none" stroke="#6e6e6e" stroke-width="0.55" stroke-linecap="round"/>
<text x="181" y="494.7" text-anchor="start" font-size="4.9" fill="#f77807" stroke="#f77807" stroke-width="0.05" textLength="33.1" lengthAdjust="spacingAndGlyphs">Insert title here</text>
<text x="181" y="501.5" text-anchor="start" font-size="4.4" fill="#606060" textLength="109.3" lengthAdjust="spacingAndGlyphs">Sed ut perspiciatis unde omnis iste natus error voluptatem .</text>
<path d="M166.75 493.1 Q165.65 494.8 165.25 496 Q165.65 497.2 166.75 498.9" fill="none" stroke="#6e6e6e" stroke-width="0.55" stroke-linecap="round"/>
<text x="489.2" y="407.7" text-anchor="start" font-size="4.9" fill="#0da8e8" stroke="#0da8e8" stroke-width="0.05" textLength="33.1" lengthAdjust="spacingAndGlyphs">Insert title here</text>
<text x="489.2" y="414.5" text-anchor="start" font-size="4.4" fill="#606060" textLength="109.3" lengthAdjust="spacingAndGlyphs">Sed ut perspiciatis unde omnis iste natus error voluptatem .</text>
<path d="M474.45 406 Q473.35 407.7 472.95 408.9 Q473.35 410.1 474.45 411.8" fill="none" stroke="#6e6e6e" stroke-width="0.55" stroke-linecap="round"/>
<text x="489.2" y="429.35" text-anchor="start" font-size="4.9" fill="#4cfc9e" stroke="#4cfc9e" stroke-width="0.05" textLength="33.1" lengthAdjust="spacingAndGlyphs">Insert title here</text>
<text x="489.2" y="436.15" text-anchor="start" font-size="4.4" fill="#606060" textLength="109.3" lengthAdjust="spacingAndGlyphs">Sed ut perspiciatis unde omnis iste natus error voluptatem .</text>
<path d="M474.45 427.65 Q473.35 429.35 472.95 430.55 Q473.35 431.75 474.45 433.45" fill="none" stroke="#6e6e6e" stroke-width="0.55" stroke-linecap="round"/>
<text x="489.2" y="451" text-anchor="start" font-size="4.9" fill="#fbb221" stroke="#fbb221" stroke-width="0.05" textLength="33.1" lengthAdjust="spacingAndGlyphs">Insert title here</text>
<text x="489.2" y="457.8" text-anchor="start" font-size="4.4" fill="#606060" textLength="109.3" lengthAdjust="spacingAndGlyphs">Sed ut perspiciatis unde omnis iste natus error voluptatem .</text>
<path d="M474.45 449.3 Q473.35 451 472.95 452.2 Q473.35 453.4 474.45 455.1" fill="none" stroke="#6e6e6e" stroke-width="0.55" stroke-linecap="round"/>
<text x="489.2" y="472.65" text-anchor="start" font-size="4.9" fill="#f77807" stroke="#f77807" stroke-width="0.05" textLength="33.1" lengthAdjust="spacingAndGlyphs">Insert title here</text>
<text x="489.2" y="479.45" text-anchor="start" font-size="4.4" fill="#606060" textLength="109.3" lengthAdjust="spacingAndGlyphs">Sed ut perspiciatis unde omnis iste natus error voluptatem .</text>
<text x="489.2" y="494.3" text-anchor="start" font-size="4.9" fill="#e44856" stroke="#e44856" stroke-width="0.05" textLength="33.1" lengthAdjust="spacingAndGlyphs">Insert title here</text>
<text x="489.2" y="501.1" text-anchor="start" font-size="4.4" fill="#606060" textLength="109.3" lengthAdjust="spacingAndGlyphs">Sed ut perspiciatis unde omnis iste natus error voluptatem .</text>
<g filter="url(#wm)">
<circle cx="472.6" cy="487.8" r="17.4" fill="#f6f6f6"/>
</g>
<g fill="none" stroke-linecap="round" stroke-linejoin="round">
<path d="M484.4 480.2 C482 475.5 478.5 473.6 475 473.8 C468 474.2 462.6 480 462.8 488 C463 495.5 467.5 500.2 473.5 500.3 C479.5 500.4 483.6 497 484.3 493.2 L484.3 491.9 L473.8 491.9" stroke="#9c9c9c" stroke-width="1.5" opacity="0.75" filter="url(#gb)"/>
<path d="M478.4 479.6 C476 477.6 473 477.4 470.5 479 C467.4 481 466.4 485 467.2 489.5 C468 494 471.5 496.8 475.5 497 C477.5 497.1 479 496.8 480 496.2" stroke="#b4b4b4" stroke-width="0.9" opacity="0.8" filter="url(#gb)"/>
<circle cx="483.6" cy="477.6" r="3.4" fill="#fbfbfb" stroke="none"/>
<path d="M483.9 481.3 A3.6 3.6 0 0 1 480.3 476.4" stroke="#b0b0b0" stroke-width="0.6" opacity="0.7"/>
</g>
<text x="494.4" y="486.6" font-size="13.6" font-weight="bold" fill="#ffffff" stroke="#ffffff" stroke-width="0.35" textLength="99.6" lengthAdjust="spacingAndGlyphs" filter="url(#wt)">GFXAA.COM</text>
<text x="495" y="499.9" font-size="10.5" font-weight="bold" fill="#ececec" textLength="63" lengthAdjust="spacing" filter="url(#wt2)">00PPT</text>
</svg></body></html>
